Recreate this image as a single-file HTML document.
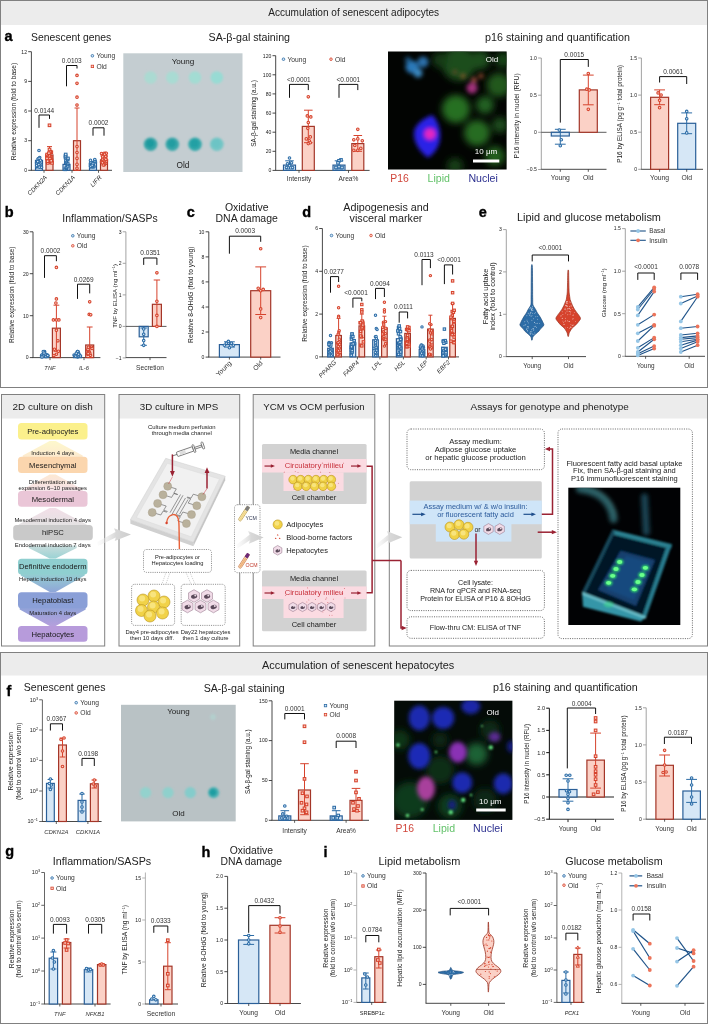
<!DOCTYPE html>
<html><head><meta charset="utf-8"><title>Figure</title>
<style>html,body{margin:0;padding:0;background:#fff}svg{display:block}text{font-family:'Liberation Sans', sans-serif}</style></head>
<body><svg width="708" height="1024" viewBox="0 0 708 1024">
<defs>
<filter id="b1" x="-50%" y="-50%" width="200%" height="200%"><feGaussianBlur stdDeviation="1"/></filter>
<filter id="b2" x="-50%" y="-50%" width="200%" height="200%"><feGaussianBlur stdDeviation="2"/></filter>
<filter id="b3" x="-50%" y="-50%" width="200%" height="200%"><feGaussianBlur stdDeviation="3.5"/></filter>
<filter id="b05" x="-50%" y="-50%" width="200%" height="200%"><feGaussianBlur stdDeviation="0.6"/></filter>
<clipPath id="cA"><rect x="388" y="51.5" width="118.6" height="118"/></clipPath>
<clipPath id="cF"><rect x="394.2" y="700.7" width="118.2" height="119.2"/></clipPath>
<clipPath id="cP"><rect x="568.3" y="487.7" width="112" height="137.3"/></clipPath>
<linearGradient id="garr" x1="0" x2="1" y1="0" y2="0"><stop offset="0" stop-color="#e9e9e9" stop-opacity="0.2"/><stop offset="1" stop-color="#c9c9c9"/></linearGradient>
</defs>
<rect x="0.0" y="0.0" width="708.0" height="1024.0" fill="#fff" />
<rect x="0.5" y="0.5" width="707.0" height="24.5" fill="#ececec" />
<rect x="0.5" y="0.5" width="707.0" height="387.0" fill="none" stroke="#808080" stroke-width="1" />
<text x="353.7" y="15.8" font-size="10.06" text-anchor="middle" fill="#222" >Accumulation of senescent adipocytes</text>
<text x="8.5" y="40.9" font-size="14.5" text-anchor="middle" fill="#000" font-weight="bold" stroke="#000" stroke-width="0.35">a</text>
<text x="31.0" y="40.6" font-size="10.4" text-anchor="start" fill="#222" >Senescent genes</text>
<line x1="31.4" y1="51.7" x2="31.4" y2="170.3" stroke="#333" stroke-width="0.9" />
<line x1="31.0" y1="170.3" x2="112.0" y2="170.3" stroke="#333" stroke-width="0.9" />
<line x1="28.2" y1="170.3" x2="31.4" y2="170.3" stroke="#333" stroke-width="0.9" />
<text x="27.0" y="172.1" font-size="5.1" text-anchor="end" fill="#222" >0</text>
<line x1="28.2" y1="140.7" x2="31.4" y2="140.7" stroke="#333" stroke-width="0.9" />
<text x="27.0" y="142.4" font-size="5.1" text-anchor="end" fill="#222" >3</text>
<line x1="28.2" y1="111.0" x2="31.4" y2="111.0" stroke="#333" stroke-width="0.9" />
<text x="27.0" y="112.8" font-size="5.1" text-anchor="end" fill="#222" >6</text>
<line x1="28.2" y1="81.4" x2="31.4" y2="81.4" stroke="#333" stroke-width="0.9" />
<text x="27.0" y="83.1" font-size="5.1" text-anchor="end" fill="#222" >9</text>
<line x1="28.2" y1="51.7" x2="31.4" y2="51.7" stroke="#333" stroke-width="0.9" />
<text x="27.0" y="53.5" font-size="5.1" text-anchor="end" fill="#222" >12</text>
<text x="15.8" y="111.5" font-size="6.57" text-anchor="middle" fill="#222" transform="rotate(-90 15.8 111.5)" >Relative expression (fold to base)</text>
<rect x="35.5" y="160.4" width="7.0" height="9.9" fill="#d6e7f6" stroke="#2a5f98" stroke-width="1.2" />
<circle cx="38.1" cy="166.2" r="1.3" fill="#d6e7f6" stroke="#2c6ca6" stroke-width="1.05" />
<circle cx="39.8" cy="167.0" r="1.3" fill="#d6e7f6" stroke="#2c6ca6" stroke-width="1.05" />
<circle cx="39.2" cy="163.9" r="1.3" fill="#d6e7f6" stroke="#2c6ca6" stroke-width="1.05" />
<circle cx="36.7" cy="162.3" r="1.3" fill="#d6e7f6" stroke="#2c6ca6" stroke-width="1.05" />
<circle cx="36.6" cy="163.1" r="1.3" fill="#d6e7f6" stroke="#2c6ca6" stroke-width="1.05" />
<circle cx="36.8" cy="166.8" r="1.3" fill="#d6e7f6" stroke="#2c6ca6" stroke-width="1.05" />
<circle cx="38.6" cy="158.8" r="1.3" fill="#d6e7f6" stroke="#2c6ca6" stroke-width="1.05" />
<circle cx="37.0" cy="165.4" r="1.3" fill="#d6e7f6" stroke="#2c6ca6" stroke-width="1.05" />
<circle cx="39.7" cy="157.5" r="1.3" fill="#d6e7f6" stroke="#2c6ca6" stroke-width="1.05" />
<circle cx="39.4" cy="163.5" r="1.3" fill="#d6e7f6" stroke="#2c6ca6" stroke-width="1.05" />
<circle cx="41.5" cy="167.3" r="1.3" fill="#d6e7f6" stroke="#2c6ca6" stroke-width="1.05" />
<circle cx="40.9" cy="164.7" r="1.3" fill="#d6e7f6" stroke="#2c6ca6" stroke-width="1.05" />
<circle cx="37.2" cy="166.5" r="1.3" fill="#d6e7f6" stroke="#2c6ca6" stroke-width="1.05" />
<circle cx="38.0" cy="159.0" r="1.3" fill="#d6e7f6" stroke="#2c6ca6" stroke-width="1.05" />
<circle cx="37.3" cy="161.5" r="1.3" fill="#d6e7f6" stroke="#2c6ca6" stroke-width="1.05" />
<circle cx="39.7" cy="163.8" r="1.3" fill="#d6e7f6" stroke="#2c6ca6" stroke-width="1.05" />
<circle cx="39.2" cy="167.1" r="1.3" fill="#d6e7f6" stroke="#2c6ca6" stroke-width="1.05" />
<circle cx="36.7" cy="165.6" r="1.3" fill="#d6e7f6" stroke="#2c6ca6" stroke-width="1.05" />
<circle cx="39.9" cy="163.2" r="1.3" fill="#d6e7f6" stroke="#2c6ca6" stroke-width="1.05" />
<circle cx="38.0" cy="161.5" r="1.3" fill="#d6e7f6" stroke="#2c6ca6" stroke-width="1.05" />
<circle cx="38.8" cy="164.6" r="1.3" fill="#d6e7f6" stroke="#2c6ca6" stroke-width="1.05" />
<circle cx="40.5" cy="160.2" r="1.3" fill="#d6e7f6" stroke="#2c6ca6" stroke-width="1.05" />
<circle cx="37.7" cy="161.6" r="1.3" fill="#d6e7f6" stroke="#2c6ca6" stroke-width="1.05" />
<circle cx="39.1" cy="158.3" r="1.3" fill="#d6e7f6" stroke="#2c6ca6" stroke-width="1.05" />
<circle cx="39.0" cy="150.5" r="1.3" fill="#d6e7f6" stroke="#2c6ca6" stroke-width="1.05" />
<rect x="46.0" y="155.0" width="7.0" height="15.3" fill="#fbd1c6" stroke="#a43628" stroke-width="1.2" />
<line x1="49.5" y1="146.6" x2="49.5" y2="163.4" stroke="#d6432d" stroke-width="1.0" />
<line x1="47.0" y1="146.6" x2="52.0" y2="146.6" stroke="#d6432d" stroke-width="1.0" />
<line x1="47.0" y1="163.4" x2="52.0" y2="163.4" stroke="#d6432d" stroke-width="1.0" />
<rect x="49.4" y="159.4" width="2.6" height="2.6" fill="#fbd1c6" stroke="#d6432d" stroke-width="1.05" />
<rect x="50.7" y="161.6" width="2.6" height="2.6" fill="#fbd1c6" stroke="#d6432d" stroke-width="1.05" />
<rect x="47.8" y="153.3" width="2.6" height="2.6" fill="#fbd1c6" stroke="#d6432d" stroke-width="1.05" />
<rect x="46.4" y="156.8" width="2.6" height="2.6" fill="#fbd1c6" stroke="#d6432d" stroke-width="1.05" />
<rect x="45.8" y="154.5" width="2.6" height="2.6" fill="#fbd1c6" stroke="#d6432d" stroke-width="1.05" />
<rect x="49.6" y="155.7" width="2.6" height="2.6" fill="#fbd1c6" stroke="#d6432d" stroke-width="1.05" />
<rect x="50.2" y="159.0" width="2.6" height="2.6" fill="#fbd1c6" stroke="#d6432d" stroke-width="1.05" />
<rect x="49.2" y="155.4" width="2.6" height="2.6" fill="#fbd1c6" stroke="#d6432d" stroke-width="1.05" />
<rect x="48.6" y="157.2" width="2.6" height="2.6" fill="#fbd1c6" stroke="#d6432d" stroke-width="1.05" />
<rect x="50.0" y="150.9" width="2.6" height="2.6" fill="#fbd1c6" stroke="#d6432d" stroke-width="1.05" />
<rect x="48.1" y="154.5" width="2.6" height="2.6" fill="#fbd1c6" stroke="#d6432d" stroke-width="1.05" />
<rect x="45.9" y="154.1" width="2.6" height="2.6" fill="#fbd1c6" stroke="#d6432d" stroke-width="1.05" />
<rect x="49.0" y="150.3" width="2.6" height="2.6" fill="#fbd1c6" stroke="#d6432d" stroke-width="1.05" />
<rect x="49.9" y="159.4" width="2.6" height="2.6" fill="#fbd1c6" stroke="#d6432d" stroke-width="1.05" />
<rect x="47.6" y="154.5" width="2.6" height="2.6" fill="#fbd1c6" stroke="#d6432d" stroke-width="1.05" />
<rect x="45.7" y="157.1" width="2.6" height="2.6" fill="#fbd1c6" stroke="#d6432d" stroke-width="1.05" />
<rect x="46.5" y="161.6" width="2.6" height="2.6" fill="#fbd1c6" stroke="#d6432d" stroke-width="1.05" />
<rect x="45.9" y="153.2" width="2.6" height="2.6" fill="#fbd1c6" stroke="#d6432d" stroke-width="1.05" />
<rect x="46.3" y="159.9" width="2.6" height="2.6" fill="#fbd1c6" stroke="#d6432d" stroke-width="1.05" />
<rect x="47.6" y="151.9" width="2.6" height="2.6" fill="#fbd1c6" stroke="#d6432d" stroke-width="1.05" />
<rect x="48.2" y="148.2" width="2.6" height="2.6" fill="#fbd1c6" stroke="#d6432d" stroke-width="1.05" />
<rect x="48.2" y="124.0" width="2.6" height="2.6" fill="#fbd1c6" stroke="#d6432d" stroke-width="1.05" />
<rect x="63.0" y="164.4" width="7.0" height="5.9" fill="#d6e7f6" stroke="#2a5f98" stroke-width="1.2" />
<rect x="63.9" y="168.0" width="2.6" height="2.6" fill="#d6e7f6" stroke="#2c6ca6" stroke-width="1.05" />
<rect x="65.0" y="167.0" width="2.6" height="2.6" fill="#d6e7f6" stroke="#2c6ca6" stroke-width="1.05" />
<rect x="65.3" y="166.0" width="2.6" height="2.6" fill="#d6e7f6" stroke="#2c6ca6" stroke-width="1.05" />
<rect x="66.4" y="164.6" width="2.6" height="2.6" fill="#d6e7f6" stroke="#2c6ca6" stroke-width="1.05" />
<rect x="66.2" y="163.1" width="2.6" height="2.6" fill="#d6e7f6" stroke="#2c6ca6" stroke-width="1.05" />
<rect x="66.3" y="162.1" width="2.6" height="2.6" fill="#d6e7f6" stroke="#2c6ca6" stroke-width="1.05" />
<rect x="64.5" y="161.1" width="2.6" height="2.6" fill="#d6e7f6" stroke="#2c6ca6" stroke-width="1.05" />
<rect x="64.9" y="160.1" width="2.6" height="2.6" fill="#d6e7f6" stroke="#2c6ca6" stroke-width="1.05" />
<rect x="64.8" y="159.1" width="2.6" height="2.6" fill="#d6e7f6" stroke="#2c6ca6" stroke-width="1.05" />
<rect x="66.4" y="158.1" width="2.6" height="2.6" fill="#d6e7f6" stroke="#2c6ca6" stroke-width="1.05" />
<rect x="66.6" y="157.1" width="2.6" height="2.6" fill="#d6e7f6" stroke="#2c6ca6" stroke-width="1.05" />
<rect x="64.2" y="156.2" width="2.6" height="2.6" fill="#d6e7f6" stroke="#2c6ca6" stroke-width="1.05" />
<rect x="64.2" y="154.7" width="2.6" height="2.6" fill="#d6e7f6" stroke="#2c6ca6" stroke-width="1.05" />
<rect x="64.4" y="153.2" width="2.6" height="2.6" fill="#d6e7f6" stroke="#2c6ca6" stroke-width="1.05" />
<rect x="73.5" y="140.7" width="7.0" height="29.7" fill="#fbd1c6" stroke="#a43628" stroke-width="1.2" />
<line x1="77.0" y1="108.0" x2="77.0" y2="170.3" stroke="#d6432d" stroke-width="1.0" />
<line x1="74.5" y1="108.0" x2="79.5" y2="108.0" stroke="#d6432d" stroke-width="1.0" />
<line x1="74.5" y1="170.3" x2="79.5" y2="170.3" stroke="#d6432d" stroke-width="1.0" />
<circle cx="77.0" cy="75.4" r="1.3" fill="#fbd1c6" stroke="#d6432d" stroke-width="1.05" />
<circle cx="77.0" cy="83.3" r="1.3" fill="#fbd1c6" stroke="#d6432d" stroke-width="1.05" />
<circle cx="77.0" cy="97.2" r="1.3" fill="#fbd1c6" stroke="#d6432d" stroke-width="1.05" />
<circle cx="77.0" cy="105.1" r="1.3" fill="#fbd1c6" stroke="#d6432d" stroke-width="1.05" />
<circle cx="77.0" cy="152.5" r="1.3" fill="#fbd1c6" stroke="#d6432d" stroke-width="1.05" />
<circle cx="77.0" cy="158.4" r="1.3" fill="#fbd1c6" stroke="#d6432d" stroke-width="1.05" />
<circle cx="77.0" cy="164.4" r="1.3" fill="#fbd1c6" stroke="#d6432d" stroke-width="1.05" />
<circle cx="77.0" cy="168.3" r="1.3" fill="#fbd1c6" stroke="#d6432d" stroke-width="1.05" />
<circle cx="77.0" cy="146.6" r="1.3" fill="#fbd1c6" stroke="#d6432d" stroke-width="1.05" />
<rect x="89.5" y="162.4" width="7.0" height="7.9" fill="#d6e7f6" stroke="#2a5f98" stroke-width="1.2" />
<circle cx="91.6" cy="163.5" r="1.3" fill="#d6e7f6" stroke="#2c6ca6" stroke-width="1.05" />
<circle cx="93.5" cy="165.3" r="1.3" fill="#d6e7f6" stroke="#2c6ca6" stroke-width="1.05" />
<circle cx="90.4" cy="164.0" r="1.3" fill="#d6e7f6" stroke="#2c6ca6" stroke-width="1.05" />
<circle cx="92.3" cy="162.9" r="1.3" fill="#d6e7f6" stroke="#2c6ca6" stroke-width="1.05" />
<circle cx="95.4" cy="161.9" r="1.3" fill="#d6e7f6" stroke="#2c6ca6" stroke-width="1.05" />
<circle cx="93.1" cy="162.5" r="1.3" fill="#d6e7f6" stroke="#2c6ca6" stroke-width="1.05" />
<circle cx="93.9" cy="166.9" r="1.3" fill="#d6e7f6" stroke="#2c6ca6" stroke-width="1.05" />
<circle cx="95.1" cy="161.2" r="1.3" fill="#d6e7f6" stroke="#2c6ca6" stroke-width="1.05" />
<circle cx="94.9" cy="161.0" r="1.3" fill="#d6e7f6" stroke="#2c6ca6" stroke-width="1.05" />
<circle cx="92.4" cy="164.2" r="1.3" fill="#d6e7f6" stroke="#2c6ca6" stroke-width="1.05" />
<circle cx="90.9" cy="162.3" r="1.3" fill="#d6e7f6" stroke="#2c6ca6" stroke-width="1.05" />
<circle cx="90.7" cy="166.8" r="1.3" fill="#d6e7f6" stroke="#2c6ca6" stroke-width="1.05" />
<circle cx="91.5" cy="166.1" r="1.3" fill="#d6e7f6" stroke="#2c6ca6" stroke-width="1.05" />
<circle cx="92.2" cy="166.9" r="1.3" fill="#d6e7f6" stroke="#2c6ca6" stroke-width="1.05" />
<circle cx="90.4" cy="166.1" r="1.3" fill="#d6e7f6" stroke="#2c6ca6" stroke-width="1.05" />
<circle cx="90.9" cy="164.5" r="1.3" fill="#d6e7f6" stroke="#2c6ca6" stroke-width="1.05" />
<circle cx="90.5" cy="160.4" r="1.3" fill="#d6e7f6" stroke="#2c6ca6" stroke-width="1.05" />
<circle cx="93.6" cy="166.2" r="1.3" fill="#d6e7f6" stroke="#2c6ca6" stroke-width="1.05" />
<circle cx="91.7" cy="164.6" r="1.3" fill="#d6e7f6" stroke="#2c6ca6" stroke-width="1.05" />
<circle cx="92.3" cy="166.4" r="1.3" fill="#d6e7f6" stroke="#2c6ca6" stroke-width="1.05" />
<circle cx="94.8" cy="159.5" r="1.3" fill="#d6e7f6" stroke="#2c6ca6" stroke-width="1.05" />
<circle cx="92.8" cy="163.5" r="1.3" fill="#d6e7f6" stroke="#2c6ca6" stroke-width="1.05" />
<circle cx="90.8" cy="166.5" r="1.3" fill="#d6e7f6" stroke="#2c6ca6" stroke-width="1.05" />
<circle cx="92.2" cy="165.2" r="1.3" fill="#d6e7f6" stroke="#2c6ca6" stroke-width="1.05" />
<rect x="100.5" y="159.9" width="7.0" height="10.4" fill="#fbd1c6" stroke="#a43628" stroke-width="1.2" />
<circle cx="105.7" cy="163.4" r="1.3" fill="#fbd1c6" stroke="#d6432d" stroke-width="1.05" />
<circle cx="101.5" cy="153.6" r="1.3" fill="#fbd1c6" stroke="#d6432d" stroke-width="1.05" />
<circle cx="104.1" cy="163.5" r="1.3" fill="#fbd1c6" stroke="#d6432d" stroke-width="1.05" />
<circle cx="104.2" cy="165.0" r="1.3" fill="#fbd1c6" stroke="#d6432d" stroke-width="1.05" />
<circle cx="104.1" cy="153.3" r="1.3" fill="#fbd1c6" stroke="#d6432d" stroke-width="1.05" />
<circle cx="105.9" cy="156.8" r="1.3" fill="#fbd1c6" stroke="#d6432d" stroke-width="1.05" />
<circle cx="102.8" cy="160.8" r="1.3" fill="#fbd1c6" stroke="#d6432d" stroke-width="1.05" />
<circle cx="102.3" cy="155.8" r="1.3" fill="#fbd1c6" stroke="#d6432d" stroke-width="1.05" />
<circle cx="104.2" cy="155.7" r="1.3" fill="#fbd1c6" stroke="#d6432d" stroke-width="1.05" />
<circle cx="103.1" cy="162.6" r="1.3" fill="#fbd1c6" stroke="#d6432d" stroke-width="1.05" />
<circle cx="105.6" cy="153.2" r="1.3" fill="#fbd1c6" stroke="#d6432d" stroke-width="1.05" />
<circle cx="105.8" cy="155.4" r="1.3" fill="#fbd1c6" stroke="#d6432d" stroke-width="1.05" />
<circle cx="105.7" cy="156.2" r="1.3" fill="#fbd1c6" stroke="#d6432d" stroke-width="1.05" />
<circle cx="102.6" cy="159.0" r="1.3" fill="#fbd1c6" stroke="#d6432d" stroke-width="1.05" />
<circle cx="103.2" cy="165.0" r="1.3" fill="#fbd1c6" stroke="#d6432d" stroke-width="1.05" />
<circle cx="101.5" cy="161.9" r="1.3" fill="#fbd1c6" stroke="#d6432d" stroke-width="1.05" />
<circle cx="102.7" cy="156.8" r="1.3" fill="#fbd1c6" stroke="#d6432d" stroke-width="1.05" />
<circle cx="106.4" cy="159.8" r="1.3" fill="#fbd1c6" stroke="#d6432d" stroke-width="1.05" />
<circle cx="106.3" cy="153.2" r="1.3" fill="#fbd1c6" stroke="#d6432d" stroke-width="1.05" />
<circle cx="106.4" cy="160.9" r="1.3" fill="#fbd1c6" stroke="#d6432d" stroke-width="1.05" />
<circle cx="102.5" cy="162.6" r="1.3" fill="#fbd1c6" stroke="#d6432d" stroke-width="1.05" />
<circle cx="102.4" cy="162.8" r="1.3" fill="#fbd1c6" stroke="#d6432d" stroke-width="1.05" />
<circle cx="104.6" cy="154.2" r="1.3" fill="#fbd1c6" stroke="#d6432d" stroke-width="1.05" />
<circle cx="105.8" cy="159.4" r="1.3" fill="#fbd1c6" stroke="#d6432d" stroke-width="1.05" />
<path d="M39.0,127.8 L39.0,115.0 L49.5,115.0 L49.5,118.9" fill="none" stroke="#111" stroke-width="1.0" />
<text x="44.2" y="112.5" font-size="6.5" text-anchor="middle" fill="#333" >0.0144</text>
<path d="M66.5,86.3 L66.5,65.5 L77.0,65.5 L77.0,68.5" fill="none" stroke="#111" stroke-width="1.0" />
<text x="71.8" y="63.1" font-size="6.5" text-anchor="middle" fill="#333" >0.0103</text>
<path d="M93.0,135.7 L93.0,127.8 L104.0,127.8 L104.0,135.7" fill="none" stroke="#111" stroke-width="1.0" />
<text x="98.5" y="125.4" font-size="6.5" text-anchor="middle" fill="#333" >0.0002</text>
<circle cx="92.4" cy="55.8" r="1.3" fill="#d6e7f6" stroke="#2c6ca6" stroke-width="0.8" />
<text x="96.4" y="58.1" font-size="6.7" text-anchor="start" fill="#333" >Young</text>
<rect x="91.2" y="65.2" width="2.4" height="2.4" fill="#fbd1c6" stroke="#d6432d" stroke-width="0.8" />
<text x="96.4" y="68.7" font-size="6.7" text-anchor="start" fill="#333" >Old</text>
<line x1="44.0" y1="170.3" x2="44.0" y2="172.8" stroke="#333" stroke-width="0.8" />
<text x="47.5" y="177.8" font-size="6.2" text-anchor="end" fill="#222" transform="rotate(-46 47.5 177.8)" style="font-style:italic" >CDKN2A</text>
<line x1="72.0" y1="170.3" x2="72.0" y2="172.8" stroke="#333" stroke-width="0.8" />
<text x="75.5" y="177.8" font-size="6.2" text-anchor="end" fill="#222" transform="rotate(-46 75.5 177.8)" style="font-style:italic" >CDKN1A</text>
<line x1="98.5" y1="170.3" x2="98.5" y2="172.8" stroke="#333" stroke-width="0.8" />
<text x="102.0" y="177.8" font-size="6.2" text-anchor="end" fill="#222" transform="rotate(-46 102.0 177.8)" style="font-style:italic" >LIFR</text>
<text x="249.3" y="40.7" font-size="10.68" text-anchor="middle" fill="#222" >SA-β-gal staining</text>
<rect x="123.3" y="53.3" width="119.2" height="118.7" fill="#c4cdd1" />
<g filter="url(#b1)">
<circle cx="150.6" cy="77.5" r="6.3" fill="#abdad2" />
<circle cx="172.3" cy="77.5" r="6.3" fill="#a9dbd3" />
<circle cx="195.0" cy="77.5" r="6.3" fill="#a3dcd3" />
<circle cx="216.8" cy="77.5" r="6.3" fill="#98dbd4" />
<circle cx="150.6" cy="144.3" r="6.8" fill="#38a5a8" />
<circle cx="150.1" cy="143.5" r="4.2" fill="#1f9a9f" />
<circle cx="172.3" cy="144.3" r="6.8" fill="#3aa7aa" />
<circle cx="171.8" cy="143.5" r="4.2" fill="#249da1" />
<circle cx="195.0" cy="144.3" r="6.8" fill="#35a9ab" />
<circle cx="194.5" cy="143.5" r="4.2" fill="#20a0a4" />
<circle cx="216.8" cy="144.3" r="6.8" fill="#74c6c6" />
<circle cx="216.3" cy="143.5" r="4.2" fill="#6cc4c5" />
</g>
<text x="183.0" y="64.4" font-size="8.1" text-anchor="middle" fill="#222" >Young</text>
<text x="183.0" y="167.9" font-size="8.3" text-anchor="middle" fill="#222" >Old</text>
<line x1="275.7" y1="55.7" x2="275.7" y2="170.4" stroke="#333" stroke-width="0.9" />
<line x1="275.3" y1="170.4" x2="369.6" y2="170.4" stroke="#333" stroke-width="0.9" />
<line x1="272.5" y1="170.4" x2="275.7" y2="170.4" stroke="#333" stroke-width="0.9" />
<text x="271.3" y="172.2" font-size="5.1" text-anchor="end" fill="#222" >0</text>
<line x1="272.5" y1="151.3" x2="275.7" y2="151.3" stroke="#333" stroke-width="0.9" />
<text x="271.3" y="153.1" font-size="5.1" text-anchor="end" fill="#222" >20</text>
<line x1="272.5" y1="132.2" x2="275.7" y2="132.2" stroke="#333" stroke-width="0.9" />
<text x="271.3" y="134.0" font-size="5.1" text-anchor="end" fill="#222" >40</text>
<line x1="272.5" y1="113.1" x2="275.7" y2="113.1" stroke="#333" stroke-width="0.9" />
<text x="271.3" y="114.8" font-size="5.1" text-anchor="end" fill="#222" >60</text>
<line x1="272.5" y1="93.9" x2="275.7" y2="93.9" stroke="#333" stroke-width="0.9" />
<text x="271.3" y="95.7" font-size="5.1" text-anchor="end" fill="#222" >80</text>
<line x1="272.5" y1="74.8" x2="275.7" y2="74.8" stroke="#333" stroke-width="0.9" />
<text x="271.3" y="76.6" font-size="5.1" text-anchor="end" fill="#222" >100</text>
<line x1="272.5" y1="55.7" x2="275.7" y2="55.7" stroke="#333" stroke-width="0.9" />
<text x="271.3" y="57.5" font-size="5.1" text-anchor="end" fill="#222" >120</text>
<text x="256.5" y="113.4" font-size="6.5" text-anchor="middle" fill="#222" transform="rotate(-90 256.5 113.4)" >SA-β-gal staining (a.u.)</text>
<rect x="283.5" y="165.1" width="12.0" height="5.3" fill="#d6e7f6" stroke="#2a5f98" stroke-width="1.2" />
<line x1="289.5" y1="160.8" x2="289.5" y2="169.0" stroke="#2c6ca6" stroke-width="1.0" />
<line x1="285.2" y1="160.8" x2="293.8" y2="160.8" stroke="#2c6ca6" stroke-width="1.0" />
<line x1="285.2" y1="169.0" x2="293.8" y2="169.0" stroke="#2c6ca6" stroke-width="1.0" />
<circle cx="286.5" cy="167.5" r="1.3" fill="#d6e7f6" stroke="#2c6ca6" stroke-width="1.05" />
<circle cx="289.5" cy="165.6" r="1.3" fill="#d6e7f6" stroke="#2c6ca6" stroke-width="1.05" />
<circle cx="292.5" cy="167.5" r="1.3" fill="#d6e7f6" stroke="#2c6ca6" stroke-width="1.05" />
<circle cx="289.5" cy="158.0" r="1.3" fill="#d6e7f6" stroke="#2c6ca6" stroke-width="1.05" />
<circle cx="287.5" cy="163.7" r="1.3" fill="#d6e7f6" stroke="#2c6ca6" stroke-width="1.05" />
<circle cx="291.5" cy="162.8" r="1.3" fill="#d6e7f6" stroke="#2c6ca6" stroke-width="1.05" />
<rect x="302.3" y="126.4" width="12.0" height="44.0" fill="#fbd1c6" stroke="#a43628" stroke-width="1.2" />
<line x1="308.3" y1="110.2" x2="308.3" y2="142.7" stroke="#d6432d" stroke-width="1.0" />
<line x1="304.0" y1="110.2" x2="312.6" y2="110.2" stroke="#d6432d" stroke-width="1.0" />
<line x1="304.0" y1="142.7" x2="312.6" y2="142.7" stroke="#d6432d" stroke-width="1.0" />
<circle cx="308.3" cy="96.8" r="1.3" fill="#fbd1c6" stroke="#d6432d" stroke-width="1.05" />
<circle cx="307.3" cy="115.9" r="1.3" fill="#fbd1c6" stroke="#d6432d" stroke-width="1.05" />
<circle cx="310.8" cy="116.9" r="1.3" fill="#fbd1c6" stroke="#d6432d" stroke-width="1.05" />
<circle cx="308.3" cy="122.6" r="1.3" fill="#fbd1c6" stroke="#d6432d" stroke-width="1.05" />
<circle cx="307.8" cy="128.3" r="1.3" fill="#fbd1c6" stroke="#d6432d" stroke-width="1.05" />
<circle cx="310.3" cy="136.9" r="1.3" fill="#fbd1c6" stroke="#d6432d" stroke-width="1.05" />
<circle cx="306.3" cy="138.9" r="1.3" fill="#fbd1c6" stroke="#d6432d" stroke-width="1.05" />
<circle cx="309.3" cy="140.8" r="1.3" fill="#fbd1c6" stroke="#d6432d" stroke-width="1.05" />
<circle cx="308.3" cy="143.6" r="1.3" fill="#fbd1c6" stroke="#d6432d" stroke-width="1.05" />
<circle cx="310.3" cy="142.7" r="1.3" fill="#fbd1c6" stroke="#d6432d" stroke-width="1.05" />
<rect x="333.0" y="165.1" width="12.0" height="5.3" fill="#d6e7f6" stroke="#2a5f98" stroke-width="1.2" />
<line x1="339.0" y1="160.8" x2="339.0" y2="169.0" stroke="#2c6ca6" stroke-width="1.0" />
<line x1="334.7" y1="160.8" x2="343.3" y2="160.8" stroke="#2c6ca6" stroke-width="1.0" />
<line x1="334.7" y1="169.0" x2="343.3" y2="169.0" stroke="#2c6ca6" stroke-width="1.0" />
<rect x="334.7" y="166.2" width="2.6" height="2.6" fill="#d6e7f6" stroke="#2c6ca6" stroke-width="1.05" />
<rect x="337.7" y="165.3" width="2.6" height="2.6" fill="#d6e7f6" stroke="#2c6ca6" stroke-width="1.05" />
<rect x="340.7" y="166.2" width="2.6" height="2.6" fill="#d6e7f6" stroke="#2c6ca6" stroke-width="1.05" />
<rect x="339.7" y="158.6" width="2.6" height="2.6" fill="#d6e7f6" stroke="#2c6ca6" stroke-width="1.05" />
<rect x="337.7" y="159.5" width="2.6" height="2.6" fill="#d6e7f6" stroke="#2c6ca6" stroke-width="1.05" />
<rect x="336.7" y="161.5" width="2.6" height="2.6" fill="#d6e7f6" stroke="#2c6ca6" stroke-width="1.05" />
<rect x="351.8" y="143.6" width="12.0" height="26.8" fill="#fbd1c6" stroke="#a43628" stroke-width="1.2" />
<line x1="357.8" y1="135.5" x2="357.8" y2="151.3" stroke="#d6432d" stroke-width="1.0" />
<line x1="353.5" y1="135.5" x2="362.1" y2="135.5" stroke="#d6432d" stroke-width="1.0" />
<line x1="353.5" y1="151.3" x2="362.1" y2="151.3" stroke="#d6432d" stroke-width="1.0" />
<circle cx="357.8" cy="129.3" r="1.3" fill="#fbd1c6" stroke="#d6432d" stroke-width="1.05" />
<circle cx="353.8" cy="139.8" r="1.3" fill="#fbd1c6" stroke="#d6432d" stroke-width="1.05" />
<circle cx="357.8" cy="138.9" r="1.3" fill="#fbd1c6" stroke="#d6432d" stroke-width="1.05" />
<circle cx="362.3" cy="140.8" r="1.3" fill="#fbd1c6" stroke="#d6432d" stroke-width="1.05" />
<circle cx="354.8" cy="145.5" r="1.3" fill="#fbd1c6" stroke="#d6432d" stroke-width="1.05" />
<circle cx="360.8" cy="148.4" r="1.3" fill="#fbd1c6" stroke="#d6432d" stroke-width="1.05" />
<circle cx="357.8" cy="150.3" r="1.3" fill="#fbd1c6" stroke="#d6432d" stroke-width="1.05" />
<circle cx="353.8" cy="150.3" r="1.3" fill="#fbd1c6" stroke="#d6432d" stroke-width="1.05" />
<path d="M289.5,97.8 L289.5,84.4 L308.3,84.4 L308.3,90.1" fill="none" stroke="#111" stroke-width="1.0" />
<text x="298.9" y="82.0" font-size="6.5" text-anchor="middle" fill="#333" >&lt;0.0001</text>
<path d="M339.0,97.8 L339.0,84.4 L357.8,84.4 L357.8,90.1" fill="none" stroke="#111" stroke-width="1.0" />
<text x="348.4" y="82.0" font-size="6.5" text-anchor="middle" fill="#333" >&lt;0.0001</text>
<circle cx="283.5" cy="59.2" r="1.3" fill="#d6e7f6" stroke="#2c6ca6" stroke-width="0.8" />
<text x="287.5" y="61.5" font-size="6.7" text-anchor="start" fill="#333" >Young</text>
<circle cx="331.0" cy="59.2" r="1.3" fill="#fbd1c6" stroke="#d6432d" stroke-width="0.8" />
<text x="335.0" y="61.5" font-size="6.7" text-anchor="start" fill="#333" >Old</text>
<line x1="299.0" y1="170.4" x2="299.0" y2="172.9" stroke="#333" stroke-width="0.8" />
<text x="299.0" y="181.0" font-size="6.6" text-anchor="middle" fill="#333" >Intensity</text>
<line x1="348.5" y1="170.4" x2="348.5" y2="172.9" stroke="#333" stroke-width="0.8" />
<text x="348.5" y="181.0" font-size="6.6" text-anchor="middle" fill="#333" >Area%</text>
<text x="557.5" y="40.8" font-size="10.73" text-anchor="middle" fill="#222" >p16 staining and quantification</text>
<rect x="388.0" y="51.5" width="118.6" height="118.0" fill="#020402" />
<g clip-path="url(#cA)">
<g filter="url(#b3)">
<circle cx="459.0" cy="64.0" r="17" fill="#1c4e1f" />
<circle cx="498.6" cy="85.0" r="12" fill="#20591f" />
<circle cx="456.0" cy="109.0" r="14" fill="#277024" />
<circle cx="485.0" cy="105.0" r="9" fill="#226220" />
<circle cx="477.0" cy="133.0" r="13" fill="#266c22" />
<circle cx="495.0" cy="156.0" r="10" fill="#205e1f" />
<circle cx="455.0" cy="166.0" r="8" fill="#163f16" />
<circle cx="500.0" cy="125.0" r="8" fill="#1b4c1a" />
<circle cx="480.0" cy="60.0" r="10" fill="#1c4e1f" />
<circle cx="503.0" cy="60.0" r="8" fill="#174417" />
<circle cx="440.0" cy="60.0" r="8" fill="#123a18" />
</g>
<g filter="url(#b2)">
<path d="M432.4,115 C441,124 443,140 436,150 C433,154 430,157 427.5,157.5 C420,152 413,142 414,132 C415,124 424,118 432.4,115Z" fill="#2a22e6" />
<circle cx="430.0" cy="134.0" r="5.5" fill="#e626c0" />
<circle cx="412.0" cy="67.0" r="6.5" fill="#2a78b8" />
<circle cx="423.0" cy="62.0" r="5.5" fill="#2a6ea8" />
<circle cx="418.0" cy="73.0" r="4.5" fill="#3a88c0" />
<circle cx="408.0" cy="60.0" r="3" fill="#1f5a8a" />
<circle cx="472.0" cy="88.0" r="5.5" fill="#a0307a" />
<circle cx="474.0" cy="80.0" r="3" fill="#9a4a3a" />
<circle cx="463.0" cy="76.0" r="2.5" fill="#8a5a2a" />
<circle cx="481.0" cy="76.0" r="2.5" fill="#9a5030" />
<circle cx="455.0" cy="72.0" r="2" fill="#7a4a2a" />
</g>
</g>
<text x="492.0" y="62.3" font-size="8" text-anchor="middle" fill="#fff" >Old</text>
<rect x="473.0" y="159.5" width="26.3" height="3.0" fill="#fff" />
<text x="486.0" y="153.8" font-size="8" text-anchor="middle" fill="#fff" >10 μm</text>
<text x="390.3" y="182.3" font-size="10.4" text-anchor="start" fill="#d0453a" >P16</text>
<text x="427.5" y="182.4" font-size="10.6" text-anchor="start" fill="#63c26a" >Lipid</text>
<text x="468.4" y="182.4" font-size="10.6" text-anchor="start" fill="#2b2f8f" >Nuclei</text>
<line x1="541.3" y1="58.0" x2="541.3" y2="169.3" stroke="#999" stroke-width="0.9" />
<line x1="540.9" y1="169.3" x2="606.5" y2="169.3" stroke="#333" stroke-width="0.9" />
<line x1="538.1" y1="58.0" x2="541.3" y2="58.0" stroke="#999" stroke-width="0.9" />
<text x="536.9" y="59.8" font-size="5.1" text-anchor="end" fill="#222" >1.0</text>
<line x1="538.1" y1="95.2" x2="541.3" y2="95.2" stroke="#999" stroke-width="0.9" />
<text x="536.9" y="96.9" font-size="5.1" text-anchor="end" fill="#222" >0.5</text>
<line x1="538.1" y1="132.3" x2="541.3" y2="132.3" stroke="#999" stroke-width="0.9" />
<text x="536.9" y="134.1" font-size="5.1" text-anchor="end" fill="#222" >0</text>
<line x1="538.1" y1="169.5" x2="541.3" y2="169.5" stroke="#999" stroke-width="0.9" />
<text x="536.9" y="171.2" font-size="5.1" text-anchor="end" fill="#222" >−0.5</text>
<line x1="541.3" y1="132.3" x2="606.5" y2="132.3" stroke="#333" stroke-width="0.8" />
<text x="519.2" y="115.9" font-size="6.73" text-anchor="middle" fill="#222" transform="rotate(-90 519.2 115.9)" >P16 intensity in nuclei (RFU)</text>
<rect x="551.3" y="132.3" width="18.0" height="3.7" fill="#d6e7f6" stroke="#2a5f98" stroke-width="1.2" />
<line x1="560.3" y1="129.3" x2="560.3" y2="144.2" stroke="#2c6ca6" stroke-width="1.0" />
<line x1="554.9" y1="129.3" x2="565.7" y2="129.3" stroke="#2c6ca6" stroke-width="1.0" />
<line x1="554.9" y1="144.2" x2="565.7" y2="144.2" stroke="#2c6ca6" stroke-width="1.0" />
<circle cx="559.3" cy="130.1" r="1.3" fill="#d6e7f6" stroke="#2c6ca6" stroke-width="1.05" />
<circle cx="561.3" cy="139.7" r="1.3" fill="#d6e7f6" stroke="#2c6ca6" stroke-width="1.05" />
<circle cx="560.3" cy="145.7" r="1.3" fill="#d6e7f6" stroke="#2c6ca6" stroke-width="1.05" />
<rect x="579.3" y="89.9" width="18.0" height="42.4" fill="#fbd1c6" stroke="#a43628" stroke-width="1.2" />
<line x1="588.3" y1="75.1" x2="588.3" y2="104.8" stroke="#d6432d" stroke-width="1.0" />
<line x1="582.9" y1="75.1" x2="593.7" y2="75.1" stroke="#d6432d" stroke-width="1.0" />
<line x1="582.9" y1="104.8" x2="593.7" y2="104.8" stroke="#d6432d" stroke-width="1.0" />
<circle cx="588.3" cy="73.6" r="1.3" fill="#fbd1c6" stroke="#d6432d" stroke-width="1.05" />
<circle cx="586.8" cy="89.2" r="1.3" fill="#fbd1c6" stroke="#d6432d" stroke-width="1.05" />
<circle cx="589.3" cy="89.9" r="1.3" fill="#fbd1c6" stroke="#d6432d" stroke-width="1.05" />
<circle cx="588.3" cy="109.3" r="1.3" fill="#fbd1c6" stroke="#d6432d" stroke-width="1.05" />
<path d="M560.3,122.6 L560.3,59.5 L588.3,59.5 L588.3,66.9" fill="none" stroke="#111" stroke-width="1.0" />
<text x="574.3" y="57.3" font-size="6.5" text-anchor="middle" fill="#333" >0.0015</text>
<line x1="560.3" y1="169.3" x2="560.3" y2="171.8" stroke="#333" stroke-width="0.8" />
<text x="560.3" y="180.4" font-size="6.8" text-anchor="middle" fill="#333" >Young</text>
<line x1="588.3" y1="169.3" x2="588.3" y2="171.8" stroke="#333" stroke-width="0.8" />
<text x="588.3" y="180.4" font-size="6.8" text-anchor="middle" fill="#333" >Old</text>
<line x1="641.4" y1="58.0" x2="641.4" y2="169.3" stroke="#999" stroke-width="0.9" />
<line x1="641.0" y1="169.3" x2="703.0" y2="169.3" stroke="#333" stroke-width="0.9" />
<line x1="638.2" y1="58.0" x2="641.4" y2="58.0" stroke="#999" stroke-width="0.9" />
<text x="637.0" y="59.8" font-size="5.1" text-anchor="end" fill="#222" >1.5</text>
<line x1="638.2" y1="95.1" x2="641.4" y2="95.1" stroke="#999" stroke-width="0.9" />
<text x="637.0" y="96.9" font-size="5.1" text-anchor="end" fill="#222" >1.0</text>
<line x1="638.2" y1="132.2" x2="641.4" y2="132.2" stroke="#999" stroke-width="0.9" />
<text x="637.0" y="134.0" font-size="5.1" text-anchor="end" fill="#222" >0.5</text>
<line x1="638.2" y1="169.3" x2="641.4" y2="169.3" stroke="#999" stroke-width="0.9" />
<text x="637.0" y="171.1" font-size="5.1" text-anchor="end" fill="#222" >0</text>
<text x="622.0" y="113.9" font-size="6.4" text-anchor="middle" fill="#222" transform="rotate(-90 622.0 113.9)" >P16 by ELISA (pg g<tspan dy="-2" font-size="4">−1</tspan><tspan dy="2"> total protein)</tspan></text>
<rect x="650.6" y="97.3" width="18.0" height="72.0" fill="#fbd1c6" stroke="#a43628" stroke-width="1.2" />
<line x1="659.6" y1="89.9" x2="659.6" y2="104.7" stroke="#d6432d" stroke-width="1.0" />
<line x1="654.2" y1="89.9" x2="665.0" y2="89.9" stroke="#d6432d" stroke-width="1.0" />
<line x1="654.2" y1="104.7" x2="665.0" y2="104.7" stroke="#d6432d" stroke-width="1.0" />
<circle cx="658.1" cy="92.9" r="1.3" fill="#fbd1c6" stroke="#d6432d" stroke-width="1.05" />
<circle cx="661.1" cy="95.1" r="1.3" fill="#fbd1c6" stroke="#d6432d" stroke-width="1.05" />
<circle cx="659.6" cy="100.3" r="1.3" fill="#fbd1c6" stroke="#d6432d" stroke-width="1.05" />
<circle cx="659.6" cy="107.7" r="1.3" fill="#fbd1c6" stroke="#d6432d" stroke-width="1.05" />
<rect x="677.7" y="123.3" width="18.0" height="46.0" fill="#d6e7f6" stroke="#2a5f98" stroke-width="1.2" />
<line x1="686.7" y1="112.9" x2="686.7" y2="133.7" stroke="#2c6ca6" stroke-width="1.0" />
<line x1="681.3" y1="112.9" x2="692.1" y2="112.9" stroke="#2c6ca6" stroke-width="1.0" />
<line x1="681.3" y1="133.7" x2="692.1" y2="133.7" stroke="#2c6ca6" stroke-width="1.0" />
<circle cx="686.7" cy="111.4" r="1.3" fill="#d6e7f6" stroke="#2c6ca6" stroke-width="1.05" />
<circle cx="686.7" cy="118.8" r="1.3" fill="#d6e7f6" stroke="#2c6ca6" stroke-width="1.05" />
<circle cx="686.7" cy="132.9" r="1.3" fill="#d6e7f6" stroke="#2c6ca6" stroke-width="1.05" />
<path d="M659.6,82.5 L659.6,76.6 L686.7,76.6 L686.7,84.0" fill="none" stroke="#111" stroke-width="1.0" />
<text x="673.2" y="73.6" font-size="6.5" text-anchor="middle" fill="#333" >0.0061</text>
<line x1="659.6" y1="169.3" x2="659.6" y2="171.8" stroke="#333" stroke-width="0.8" />
<text x="659.6" y="180.4" font-size="6.8" text-anchor="middle" fill="#333" >Young</text>
<line x1="686.7" y1="169.3" x2="686.7" y2="171.8" stroke="#333" stroke-width="0.8" />
<text x="686.7" y="180.4" font-size="6.8" text-anchor="middle" fill="#333" >Old</text>
<text x="9.2" y="217.3" font-size="14.5" text-anchor="middle" fill="#000" font-weight="bold" stroke="#000" stroke-width="0.35">b</text>
<text x="110.0" y="221.9" font-size="10.4" text-anchor="middle" fill="#222" >Inflammation/SASPs</text>
<line x1="33.0" y1="231.8" x2="33.0" y2="357.6" stroke="#333" stroke-width="0.9" />
<line x1="32.6" y1="357.6" x2="100.4" y2="357.6" stroke="#333" stroke-width="0.9" />
<line x1="29.8" y1="357.6" x2="33.0" y2="357.6" stroke="#333" stroke-width="0.9" />
<text x="28.6" y="359.4" font-size="5.1" text-anchor="end" fill="#222" >0</text>
<line x1="29.8" y1="315.7" x2="33.0" y2="315.7" stroke="#333" stroke-width="0.9" />
<text x="28.6" y="317.5" font-size="5.1" text-anchor="end" fill="#222" >10</text>
<line x1="29.8" y1="273.7" x2="33.0" y2="273.7" stroke="#333" stroke-width="0.9" />
<text x="28.6" y="275.5" font-size="5.1" text-anchor="end" fill="#222" >20</text>
<line x1="29.8" y1="231.8" x2="33.0" y2="231.8" stroke="#333" stroke-width="0.9" />
<text x="28.6" y="233.6" font-size="5.1" text-anchor="end" fill="#222" >30</text>
<text x="14.1" y="294.8" font-size="6.51" text-anchor="middle" fill="#222" transform="rotate(-90 14.1 294.8)" >Relative expression (fold to base)</text>
<rect x="40.5" y="355.5" width="8.0" height="2.1" fill="#d6e7f6" stroke="#2a5f98" stroke-width="1.2" />
<circle cx="45.5" cy="355.1" r="1.3" fill="#d6e7f6" stroke="#2c6ca6" stroke-width="1.05" />
<circle cx="41.7" cy="355.4" r="1.3" fill="#d6e7f6" stroke="#2c6ca6" stroke-width="1.05" />
<circle cx="47.3" cy="355.2" r="1.3" fill="#d6e7f6" stroke="#2c6ca6" stroke-width="1.05" />
<circle cx="46.2" cy="355.9" r="1.3" fill="#d6e7f6" stroke="#2c6ca6" stroke-width="1.05" />
<circle cx="42.3" cy="355.2" r="1.3" fill="#d6e7f6" stroke="#2c6ca6" stroke-width="1.05" />
<circle cx="43.4" cy="355.1" r="1.3" fill="#d6e7f6" stroke="#2c6ca6" stroke-width="1.05" />
<circle cx="47.7" cy="356.1" r="1.3" fill="#d6e7f6" stroke="#2c6ca6" stroke-width="1.05" />
<circle cx="43.8" cy="354.8" r="1.3" fill="#d6e7f6" stroke="#2c6ca6" stroke-width="1.05" />
<circle cx="46.0" cy="356.6" r="1.3" fill="#d6e7f6" stroke="#2c6ca6" stroke-width="1.05" />
<circle cx="42.0" cy="356.6" r="1.3" fill="#d6e7f6" stroke="#2c6ca6" stroke-width="1.05" />
<circle cx="47.3" cy="355.1" r="1.3" fill="#d6e7f6" stroke="#2c6ca6" stroke-width="1.05" />
<circle cx="42.1" cy="355.1" r="1.3" fill="#d6e7f6" stroke="#2c6ca6" stroke-width="1.05" />
<circle cx="47.8" cy="355.5" r="1.3" fill="#d6e7f6" stroke="#2c6ca6" stroke-width="1.05" />
<circle cx="43.5" cy="355.7" r="1.3" fill="#d6e7f6" stroke="#2c6ca6" stroke-width="1.05" />
<circle cx="42.0" cy="356.9" r="1.3" fill="#d6e7f6" stroke="#2c6ca6" stroke-width="1.05" />
<circle cx="47.7" cy="355.5" r="1.3" fill="#d6e7f6" stroke="#2c6ca6" stroke-width="1.05" />
<circle cx="44.6" cy="351.5" r="1.3" fill="#d6e7f6" stroke="#2c6ca6" stroke-width="1.05" />
<circle cx="44.3" cy="351.7" r="1.3" fill="#d6e7f6" stroke="#2c6ca6" stroke-width="1.05" />
<circle cx="45.5" cy="354.0" r="1.3" fill="#d6e7f6" stroke="#2c6ca6" stroke-width="1.05" />
<circle cx="43.7" cy="353.7" r="1.3" fill="#d6e7f6" stroke="#2c6ca6" stroke-width="1.05" />
<circle cx="43.7" cy="352.7" r="1.3" fill="#d6e7f6" stroke="#2c6ca6" stroke-width="1.05" />
<circle cx="43.7" cy="353.3" r="1.3" fill="#d6e7f6" stroke="#2c6ca6" stroke-width="1.05" />
<circle cx="43.3" cy="351.6" r="1.3" fill="#d6e7f6" stroke="#2c6ca6" stroke-width="1.05" />
<circle cx="44.0" cy="353.1" r="1.3" fill="#d6e7f6" stroke="#2c6ca6" stroke-width="1.05" />
<rect x="52.4" y="328.2" width="8.0" height="29.4" fill="#fbd1c6" stroke="#a43628" stroke-width="1.2" />
<line x1="56.4" y1="305.2" x2="56.4" y2="351.3" stroke="#d6432d" stroke-width="1.0" />
<line x1="53.5" y1="305.2" x2="59.3" y2="305.2" stroke="#d6432d" stroke-width="1.0" />
<line x1="53.5" y1="351.3" x2="59.3" y2="351.3" stroke="#d6432d" stroke-width="1.0" />
<circle cx="56.4" cy="267.4" r="1.3" fill="#fbd1c6" stroke="#d6432d" stroke-width="1.05" />
<circle cx="56.4" cy="298.9" r="1.3" fill="#fbd1c6" stroke="#d6432d" stroke-width="1.05" />
<circle cx="55.9" cy="303.1" r="1.3" fill="#fbd1c6" stroke="#d6432d" stroke-width="1.05" />
<circle cx="53.4" cy="319.9" r="1.3" fill="#fbd1c6" stroke="#d6432d" stroke-width="1.05" />
<circle cx="56.4" cy="319.9" r="1.3" fill="#fbd1c6" stroke="#d6432d" stroke-width="1.05" />
<circle cx="58.9" cy="319.9" r="1.3" fill="#fbd1c6" stroke="#d6432d" stroke-width="1.05" />
<circle cx="56.4" cy="330.3" r="1.3" fill="#fbd1c6" stroke="#d6432d" stroke-width="1.05" />
<circle cx="57.9" cy="340.8" r="1.3" fill="#fbd1c6" stroke="#d6432d" stroke-width="1.05" />
<circle cx="54.4" cy="349.2" r="1.3" fill="#fbd1c6" stroke="#d6432d" stroke-width="1.05" />
<circle cx="58.4" cy="351.3" r="1.3" fill="#fbd1c6" stroke="#d6432d" stroke-width="1.05" />
<circle cx="56.4" cy="354.2" r="1.3" fill="#fbd1c6" stroke="#d6432d" stroke-width="1.05" />
<circle cx="53.9" cy="355.5" r="1.3" fill="#fbd1c6" stroke="#d6432d" stroke-width="1.05" />
<rect x="73.5" y="355.5" width="8.0" height="2.1" fill="#d6e7f6" stroke="#2a5f98" stroke-width="1.2" />
<circle cx="78.1" cy="354.9" r="1.3" fill="#d6e7f6" stroke="#2c6ca6" stroke-width="1.05" />
<circle cx="77.0" cy="354.9" r="1.3" fill="#d6e7f6" stroke="#2c6ca6" stroke-width="1.05" />
<circle cx="77.5" cy="355.7" r="1.3" fill="#d6e7f6" stroke="#2c6ca6" stroke-width="1.05" />
<circle cx="77.7" cy="356.9" r="1.3" fill="#d6e7f6" stroke="#2c6ca6" stroke-width="1.05" />
<circle cx="77.1" cy="356.5" r="1.3" fill="#d6e7f6" stroke="#2c6ca6" stroke-width="1.05" />
<circle cx="74.1" cy="355.1" r="1.3" fill="#d6e7f6" stroke="#2c6ca6" stroke-width="1.05" />
<circle cx="75.3" cy="355.9" r="1.3" fill="#d6e7f6" stroke="#2c6ca6" stroke-width="1.05" />
<circle cx="79.0" cy="355.7" r="1.3" fill="#d6e7f6" stroke="#2c6ca6" stroke-width="1.05" />
<circle cx="76.3" cy="355.8" r="1.3" fill="#d6e7f6" stroke="#2c6ca6" stroke-width="1.05" />
<circle cx="77.9" cy="355.2" r="1.3" fill="#d6e7f6" stroke="#2c6ca6" stroke-width="1.05" />
<circle cx="74.8" cy="355.7" r="1.3" fill="#d6e7f6" stroke="#2c6ca6" stroke-width="1.05" />
<circle cx="75.8" cy="356.3" r="1.3" fill="#d6e7f6" stroke="#2c6ca6" stroke-width="1.05" />
<circle cx="79.4" cy="355.8" r="1.3" fill="#d6e7f6" stroke="#2c6ca6" stroke-width="1.05" />
<circle cx="77.9" cy="355.2" r="1.3" fill="#d6e7f6" stroke="#2c6ca6" stroke-width="1.05" />
<circle cx="80.3" cy="355.9" r="1.3" fill="#d6e7f6" stroke="#2c6ca6" stroke-width="1.05" />
<circle cx="78.3" cy="355.8" r="1.3" fill="#d6e7f6" stroke="#2c6ca6" stroke-width="1.05" />
<circle cx="77.5" cy="352.3" r="1.3" fill="#d6e7f6" stroke="#2c6ca6" stroke-width="1.05" />
<circle cx="77.3" cy="352.9" r="1.3" fill="#d6e7f6" stroke="#2c6ca6" stroke-width="1.05" />
<circle cx="77.4" cy="351.5" r="1.3" fill="#d6e7f6" stroke="#2c6ca6" stroke-width="1.05" />
<circle cx="78.1" cy="351.7" r="1.3" fill="#d6e7f6" stroke="#2c6ca6" stroke-width="1.05" />
<circle cx="78.9" cy="353.8" r="1.3" fill="#d6e7f6" stroke="#2c6ca6" stroke-width="1.05" />
<circle cx="77.7" cy="351.5" r="1.3" fill="#d6e7f6" stroke="#2c6ca6" stroke-width="1.05" />
<circle cx="78.6" cy="354.2" r="1.3" fill="#d6e7f6" stroke="#2c6ca6" stroke-width="1.05" />
<circle cx="76.3" cy="353.2" r="1.3" fill="#d6e7f6" stroke="#2c6ca6" stroke-width="1.05" />
<rect x="85.7" y="345.0" width="8.0" height="12.6" fill="#fbd1c6" stroke="#a43628" stroke-width="1.2" />
<line x1="89.7" y1="327.0" x2="89.7" y2="357.6" stroke="#d6432d" stroke-width="1.0" />
<line x1="86.8" y1="327.0" x2="92.6" y2="327.0" stroke="#d6432d" stroke-width="1.0" />
<line x1="86.8" y1="357.6" x2="92.6" y2="357.6" stroke="#d6432d" stroke-width="1.0" />
<circle cx="89.7" cy="301.8" r="1.3" fill="#fbd1c6" stroke="#d6432d" stroke-width="1.05" />
<circle cx="89.2" cy="314.4" r="1.3" fill="#fbd1c6" stroke="#d6432d" stroke-width="1.05" />
<circle cx="90.7" cy="314.8" r="1.3" fill="#fbd1c6" stroke="#d6432d" stroke-width="1.05" />
<circle cx="87.6" cy="354.3" r="1.3" fill="#fbd1c6" stroke="#d6432d" stroke-width="1.05" />
<circle cx="87.7" cy="350.0" r="1.3" fill="#fbd1c6" stroke="#d6432d" stroke-width="1.05" />
<circle cx="91.1" cy="347.7" r="1.3" fill="#fbd1c6" stroke="#d6432d" stroke-width="1.05" />
<circle cx="88.0" cy="349.6" r="1.3" fill="#fbd1c6" stroke="#d6432d" stroke-width="1.05" />
<circle cx="90.5" cy="355.3" r="1.3" fill="#fbd1c6" stroke="#d6432d" stroke-width="1.05" />
<circle cx="91.5" cy="347.0" r="1.3" fill="#fbd1c6" stroke="#d6432d" stroke-width="1.05" />
<circle cx="88.4" cy="347.2" r="1.3" fill="#fbd1c6" stroke="#d6432d" stroke-width="1.05" />
<circle cx="89.2" cy="351.9" r="1.3" fill="#fbd1c6" stroke="#d6432d" stroke-width="1.05" />
<circle cx="92.1" cy="348.4" r="1.3" fill="#fbd1c6" stroke="#d6432d" stroke-width="1.05" />
<circle cx="88.1" cy="352.4" r="1.3" fill="#fbd1c6" stroke="#d6432d" stroke-width="1.05" />
<circle cx="89.8" cy="353.3" r="1.3" fill="#fbd1c6" stroke="#d6432d" stroke-width="1.05" />
<circle cx="88.2" cy="353.6" r="1.3" fill="#fbd1c6" stroke="#d6432d" stroke-width="1.05" />
<path d="M44.5,277.9 L44.5,255.7 L56.4,255.7 L56.4,261.2" fill="none" stroke="#111" stroke-width="1.0" />
<text x="50.5" y="253.3" font-size="6.5" text-anchor="middle" fill="#333" >0.0002</text>
<path d="M77.5,298.9 L77.5,284.2 L89.7,284.2 L89.7,293.4" fill="none" stroke="#111" stroke-width="1.0" />
<text x="83.6" y="281.8" font-size="6.5" text-anchor="middle" fill="#333" >0.0269</text>
<circle cx="72.8" cy="235.8" r="1.3" fill="#d6e7f6" stroke="#2c6ca6" stroke-width="0.8" />
<text x="76.8" y="238.1" font-size="6.7" text-anchor="start" fill="#333" >Young</text>
<circle cx="72.8" cy="245.8" r="1.3" fill="#fbd1c6" stroke="#d6432d" stroke-width="0.8" />
<text x="76.8" y="248.1" font-size="6.7" text-anchor="start" fill="#333" >Old</text>
<line x1="50.0" y1="357.6" x2="50.0" y2="360.1" stroke="#333" stroke-width="0.8" />
<text x="50.0" y="369.9" font-size="5.8" text-anchor="middle" fill="#333" style="font-style:italic" >TNF</text>
<line x1="84.0" y1="357.6" x2="84.0" y2="360.1" stroke="#333" stroke-width="0.8" />
<text x="84.0" y="369.9" font-size="5.8" text-anchor="middle" fill="#333" style="font-style:italic" >IL-6</text>
<line x1="125.9" y1="231.8" x2="125.9" y2="357.6" stroke="#999" stroke-width="0.9" />
<line x1="125.5" y1="357.6" x2="166.5" y2="357.6" stroke="#333" stroke-width="0.9" />
<line x1="122.7" y1="357.9" x2="125.9" y2="357.9" stroke="#999" stroke-width="0.9" />
<text x="121.5" y="359.7" font-size="5.1" text-anchor="end" fill="#222" >−1</text>
<line x1="122.7" y1="326.4" x2="125.9" y2="326.4" stroke="#999" stroke-width="0.9" />
<text x="121.5" y="328.2" font-size="5.1" text-anchor="end" fill="#222" >0</text>
<line x1="122.7" y1="294.9" x2="125.9" y2="294.9" stroke="#999" stroke-width="0.9" />
<text x="121.5" y="296.7" font-size="5.1" text-anchor="end" fill="#222" >1</text>
<line x1="122.7" y1="263.3" x2="125.9" y2="263.3" stroke="#999" stroke-width="0.9" />
<text x="121.5" y="265.1" font-size="5.1" text-anchor="end" fill="#222" >2</text>
<line x1="122.7" y1="231.8" x2="125.9" y2="231.8" stroke="#999" stroke-width="0.9" />
<text x="121.5" y="233.6" font-size="5.1" text-anchor="end" fill="#222" >3</text>
<line x1="125.9" y1="326.4" x2="166.5" y2="326.4" stroke="#333" stroke-width="0.8" />
<text x="117.2" y="295.9" font-size="6.1" text-anchor="middle" fill="#222" transform="rotate(-90 117.2 295.9)" >TNF by ELISA (ng ml<tspan dy="-2" font-size="4">−1</tspan><tspan dy="2">)</tspan></text>
<rect x="139.2" y="326.4" width="9.0" height="10.4" fill="#d6e7f6" stroke="#2a5f98" stroke-width="1.2" />
<line x1="143.7" y1="328.0" x2="143.7" y2="345.3" stroke="#2c6ca6" stroke-width="1.0" />
<line x1="140.5" y1="328.0" x2="146.9" y2="328.0" stroke="#2c6ca6" stroke-width="1.0" />
<line x1="140.5" y1="345.3" x2="146.9" y2="345.3" stroke="#2c6ca6" stroke-width="1.0" />
<circle cx="143.7" cy="328.9" r="1.3" fill="#d6e7f6" stroke="#2c6ca6" stroke-width="1.05" />
<circle cx="143.7" cy="334.3" r="1.3" fill="#d6e7f6" stroke="#2c6ca6" stroke-width="1.05" />
<circle cx="143.7" cy="340.6" r="1.3" fill="#d6e7f6" stroke="#2c6ca6" stroke-width="1.05" />
<circle cx="143.7" cy="345.3" r="1.3" fill="#d6e7f6" stroke="#2c6ca6" stroke-width="1.05" />
<rect x="152.4" y="304.3" width="9.0" height="22.1" fill="#fbd1c6" stroke="#a43628" stroke-width="1.2" />
<line x1="156.9" y1="280.0" x2="156.9" y2="326.4" stroke="#d6432d" stroke-width="1.0" />
<line x1="153.7" y1="280.0" x2="160.1" y2="280.0" stroke="#d6432d" stroke-width="1.0" />
<line x1="153.7" y1="326.4" x2="160.1" y2="326.4" stroke="#d6432d" stroke-width="1.0" />
<circle cx="156.9" cy="272.8" r="1.3" fill="#fbd1c6" stroke="#d6432d" stroke-width="1.05" />
<circle cx="156.9" cy="301.2" r="1.3" fill="#fbd1c6" stroke="#d6432d" stroke-width="1.05" />
<circle cx="156.9" cy="315.4" r="1.3" fill="#fbd1c6" stroke="#d6432d" stroke-width="1.05" />
<circle cx="156.9" cy="326.4" r="1.3" fill="#fbd1c6" stroke="#d6432d" stroke-width="1.05" />
<path d="M143.7,264.9 L143.7,258.0 L156.9,258.0 L156.9,264.9" fill="none" stroke="#111" stroke-width="1.0" />
<text x="150.3" y="255.2" font-size="6.5" text-anchor="middle" fill="#333" >0.0351</text>
<line x1="150.0" y1="357.6" x2="150.0" y2="360.1" stroke="#333" stroke-width="0.8" />
<text x="150.0" y="370.2" font-size="6.6" text-anchor="middle" fill="#333" >Secretion</text>
<text x="190.8" y="217.3" font-size="14.5" text-anchor="middle" fill="#000" font-weight="bold" stroke="#000" stroke-width="0.35">c</text>
<text x="246.7" y="210.7" font-size="10.47" text-anchor="middle" fill="#222" >Oxidative</text>
<text x="246.7" y="222.3" font-size="10.47" text-anchor="middle" fill="#222" >DNA damage</text>
<line x1="208.8" y1="231.8" x2="208.8" y2="357.1" stroke="#333" stroke-width="0.9" />
<line x1="208.4" y1="357.1" x2="280.5" y2="357.1" stroke="#333" stroke-width="0.9" />
<line x1="205.6" y1="357.1" x2="208.8" y2="357.1" stroke="#333" stroke-width="0.9" />
<text x="204.4" y="358.9" font-size="5.1" text-anchor="end" fill="#222" >0</text>
<line x1="205.6" y1="332.0" x2="208.8" y2="332.0" stroke="#333" stroke-width="0.9" />
<text x="204.4" y="333.8" font-size="5.1" text-anchor="end" fill="#222" >2</text>
<line x1="205.6" y1="307.0" x2="208.8" y2="307.0" stroke="#333" stroke-width="0.9" />
<text x="204.4" y="308.8" font-size="5.1" text-anchor="end" fill="#222" >4</text>
<line x1="205.6" y1="281.9" x2="208.8" y2="281.9" stroke="#333" stroke-width="0.9" />
<text x="204.4" y="283.7" font-size="5.1" text-anchor="end" fill="#222" >6</text>
<line x1="205.6" y1="256.9" x2="208.8" y2="256.9" stroke="#333" stroke-width="0.9" />
<text x="204.4" y="258.6" font-size="5.1" text-anchor="end" fill="#222" >8</text>
<line x1="205.6" y1="231.8" x2="208.8" y2="231.8" stroke="#333" stroke-width="0.9" />
<text x="204.4" y="233.6" font-size="5.1" text-anchor="end" fill="#222" >10</text>
<text x="193.2" y="294.7" font-size="6.75" text-anchor="middle" fill="#222" transform="rotate(-90 193.2 294.7)" >Relative 8-OHdG (fold to young)</text>
<rect x="219.4" y="344.6" width="20.0" height="12.5" fill="#d6e7f6" stroke="#2a5f98" stroke-width="1.2" />
<line x1="229.4" y1="341.8" x2="229.4" y2="347.1" stroke="#2c6ca6" stroke-width="1.0" />
<line x1="224.0" y1="341.8" x2="234.8" y2="341.8" stroke="#2c6ca6" stroke-width="1.0" />
<line x1="224.0" y1="347.1" x2="234.8" y2="347.1" stroke="#2c6ca6" stroke-width="1.0" />
<circle cx="226.4" cy="343.3" r="1.3" fill="#d6e7f6" stroke="#2c6ca6" stroke-width="1.05" />
<circle cx="228.4" cy="341.4" r="1.3" fill="#d6e7f6" stroke="#2c6ca6" stroke-width="1.05" />
<circle cx="231.4" cy="343.3" r="1.3" fill="#d6e7f6" stroke="#2c6ca6" stroke-width="1.05" />
<circle cx="233.4" cy="345.2" r="1.3" fill="#d6e7f6" stroke="#2c6ca6" stroke-width="1.05" />
<circle cx="229.4" cy="347.7" r="1.3" fill="#d6e7f6" stroke="#2c6ca6" stroke-width="1.05" />
<circle cx="224.4" cy="345.2" r="1.3" fill="#d6e7f6" stroke="#2c6ca6" stroke-width="1.05" />
<rect x="250.7" y="290.7" width="20.0" height="66.4" fill="#fbd1c6" stroke="#a43628" stroke-width="1.2" />
<line x1="260.7" y1="266.9" x2="260.7" y2="314.5" stroke="#d6432d" stroke-width="1.0" />
<line x1="255.3" y1="266.9" x2="266.1" y2="266.9" stroke="#d6432d" stroke-width="1.0" />
<line x1="255.3" y1="314.5" x2="266.1" y2="314.5" stroke="#d6432d" stroke-width="1.0" />
<circle cx="260.7" cy="248.7" r="1.3" fill="#fbd1c6" stroke="#d6432d" stroke-width="1.05" />
<circle cx="258.2" cy="288.2" r="1.3" fill="#fbd1c6" stroke="#d6432d" stroke-width="1.05" />
<circle cx="260.7" cy="290.7" r="1.3" fill="#fbd1c6" stroke="#d6432d" stroke-width="1.05" />
<circle cx="263.2" cy="289.4" r="1.3" fill="#fbd1c6" stroke="#d6432d" stroke-width="1.05" />
<circle cx="260.7" cy="308.9" r="1.3" fill="#fbd1c6" stroke="#d6432d" stroke-width="1.05" />
<circle cx="260.7" cy="317.6" r="1.3" fill="#fbd1c6" stroke="#d6432d" stroke-width="1.05" />
<path d="M229.4,253.7 L229.4,236.2 L260.7,236.2 L260.7,241.8" fill="none" stroke="#111" stroke-width="1.0" />
<text x="245.1" y="233.4" font-size="6.5" text-anchor="middle" fill="#333" >0.0003</text>
<line x1="229.4" y1="357.1" x2="229.4" y2="359.6" stroke="#333" stroke-width="0.8" />
<text x="231.9" y="363.6" font-size="6.7" text-anchor="end" fill="#333" transform="rotate(-45 231.9 363.6)" >Young</text>
<line x1="260.7" y1="357.1" x2="260.7" y2="359.6" stroke="#333" stroke-width="0.8" />
<text x="263.2" y="363.6" font-size="6.7" text-anchor="end" fill="#333" transform="rotate(-45 263.2 363.6)" >Old</text>
<text x="306.7" y="217.3" font-size="14.5" text-anchor="middle" fill="#000" font-weight="bold" stroke="#000" stroke-width="0.35">d</text>
<text x="386.0" y="210.8" font-size="10.75" text-anchor="middle" fill="#222" >Adipogenesis and</text>
<text x="386.0" y="222.4" font-size="10.75" text-anchor="middle" fill="#222" >visceral marker</text>
<line x1="322.4" y1="228.5" x2="322.4" y2="356.9" stroke="#333" stroke-width="0.9" />
<line x1="322.0" y1="356.9" x2="459.0" y2="356.9" stroke="#333" stroke-width="0.9" />
<line x1="319.2" y1="356.9" x2="322.4" y2="356.9" stroke="#333" stroke-width="0.9" />
<text x="318.0" y="358.7" font-size="5.1" text-anchor="end" fill="#222" >0</text>
<line x1="319.2" y1="314.1" x2="322.4" y2="314.1" stroke="#333" stroke-width="0.9" />
<text x="318.0" y="315.9" font-size="5.1" text-anchor="end" fill="#222" >2</text>
<line x1="319.2" y1="271.3" x2="322.4" y2="271.3" stroke="#333" stroke-width="0.9" />
<text x="318.0" y="273.1" font-size="5.1" text-anchor="end" fill="#222" >4</text>
<line x1="319.2" y1="228.5" x2="322.4" y2="228.5" stroke="#333" stroke-width="0.9" />
<text x="318.0" y="230.3" font-size="5.1" text-anchor="end" fill="#222" >6</text>
<text x="306.7" y="293.6" font-size="6.51" text-anchor="middle" fill="#222" transform="rotate(-90 306.7 293.6)" >Relative expression (fold to base)</text>
<rect x="327.7" y="348.3" width="5.6" height="8.6" fill="#d6e7f6" stroke="#2a5f98" stroke-width="1.2" />
<circle cx="331.3" cy="355.6" r="1.2" fill="#d6e7f6" stroke="#2c6ca6" stroke-width="1.05" />
<circle cx="330.7" cy="349.9" r="1.2" fill="#d6e7f6" stroke="#2c6ca6" stroke-width="1.05" />
<circle cx="328.9" cy="351.4" r="1.2" fill="#d6e7f6" stroke="#2c6ca6" stroke-width="1.05" />
<circle cx="330.9" cy="348.9" r="1.2" fill="#d6e7f6" stroke="#2c6ca6" stroke-width="1.05" />
<circle cx="329.0" cy="342.5" r="1.2" fill="#d6e7f6" stroke="#2c6ca6" stroke-width="1.05" />
<circle cx="331.5" cy="342.7" r="1.2" fill="#d6e7f6" stroke="#2c6ca6" stroke-width="1.05" />
<circle cx="329.2" cy="352.2" r="1.2" fill="#d6e7f6" stroke="#2c6ca6" stroke-width="1.05" />
<circle cx="328.9" cy="345.3" r="1.2" fill="#d6e7f6" stroke="#2c6ca6" stroke-width="1.05" />
<circle cx="329.7" cy="354.1" r="1.2" fill="#d6e7f6" stroke="#2c6ca6" stroke-width="1.05" />
<circle cx="330.2" cy="343.5" r="1.2" fill="#d6e7f6" stroke="#2c6ca6" stroke-width="1.05" />
<circle cx="331.6" cy="352.3" r="1.2" fill="#d6e7f6" stroke="#2c6ca6" stroke-width="1.05" />
<circle cx="329.3" cy="343.4" r="1.2" fill="#d6e7f6" stroke="#2c6ca6" stroke-width="1.05" />
<circle cx="330.7" cy="346.4" r="1.2" fill="#d6e7f6" stroke="#2c6ca6" stroke-width="1.05" />
<circle cx="329.1" cy="355.1" r="1.2" fill="#d6e7f6" stroke="#2c6ca6" stroke-width="1.05" />
<circle cx="331.1" cy="350.1" r="1.2" fill="#d6e7f6" stroke="#2c6ca6" stroke-width="1.05" />
<circle cx="329.0" cy="343.2" r="1.2" fill="#d6e7f6" stroke="#2c6ca6" stroke-width="1.05" />
<circle cx="331.0" cy="345.0" r="1.2" fill="#d6e7f6" stroke="#2c6ca6" stroke-width="1.05" />
<circle cx="329.1" cy="344.3" r="1.2" fill="#d6e7f6" stroke="#2c6ca6" stroke-width="1.05" />
<circle cx="329.0" cy="344.2" r="1.2" fill="#d6e7f6" stroke="#2c6ca6" stroke-width="1.05" />
<circle cx="330.3" cy="351.3" r="1.2" fill="#d6e7f6" stroke="#2c6ca6" stroke-width="1.05" />
<circle cx="330.5" cy="335.5" r="1.2" fill="#d6e7f6" stroke="#2c6ca6" stroke-width="1.05" />
<rect x="335.8" y="335.5" width="5.6" height="21.4" fill="#fbd1c6" stroke="#a43628" stroke-width="1.2" />
<line x1="338.6" y1="318.4" x2="338.6" y2="354.8" stroke="#d6432d" stroke-width="1.0" />
<line x1="336.6" y1="318.4" x2="340.6" y2="318.4" stroke="#d6432d" stroke-width="1.0" />
<line x1="336.6" y1="354.8" x2="340.6" y2="354.8" stroke="#d6432d" stroke-width="1.0" />
<circle cx="338.8" cy="332.0" r="1.2" fill="#fbd1c6" stroke="#d6432d" stroke-width="1.05" />
<circle cx="337.8" cy="352.0" r="1.2" fill="#fbd1c6" stroke="#d6432d" stroke-width="1.05" />
<circle cx="338.7" cy="349.2" r="1.2" fill="#fbd1c6" stroke="#d6432d" stroke-width="1.05" />
<circle cx="337.3" cy="351.1" r="1.2" fill="#fbd1c6" stroke="#d6432d" stroke-width="1.05" />
<circle cx="337.1" cy="350.1" r="1.2" fill="#fbd1c6" stroke="#d6432d" stroke-width="1.05" />
<circle cx="338.0" cy="347.6" r="1.2" fill="#fbd1c6" stroke="#d6432d" stroke-width="1.05" />
<circle cx="339.5" cy="347.9" r="1.2" fill="#fbd1c6" stroke="#d6432d" stroke-width="1.05" />
<circle cx="338.6" cy="350.7" r="1.2" fill="#fbd1c6" stroke="#d6432d" stroke-width="1.05" />
<circle cx="338.1" cy="354.7" r="1.2" fill="#fbd1c6" stroke="#d6432d" stroke-width="1.05" />
<circle cx="337.8" cy="354.8" r="1.2" fill="#fbd1c6" stroke="#d6432d" stroke-width="1.05" />
<circle cx="339.4" cy="341.4" r="1.2" fill="#fbd1c6" stroke="#d6432d" stroke-width="1.05" />
<circle cx="337.5" cy="343.3" r="1.2" fill="#fbd1c6" stroke="#d6432d" stroke-width="1.05" />
<circle cx="340.1" cy="352.5" r="1.2" fill="#fbd1c6" stroke="#d6432d" stroke-width="1.05" />
<circle cx="339.7" cy="344.4" r="1.2" fill="#fbd1c6" stroke="#d6432d" stroke-width="1.05" />
<circle cx="338.6" cy="334.3" r="1.2" fill="#fbd1c6" stroke="#d6432d" stroke-width="1.05" />
<circle cx="338.2" cy="342.5" r="1.2" fill="#fbd1c6" stroke="#d6432d" stroke-width="1.05" />
<circle cx="339.2" cy="330.6" r="1.2" fill="#fbd1c6" stroke="#d6432d" stroke-width="1.05" />
<circle cx="338.1" cy="334.3" r="1.2" fill="#fbd1c6" stroke="#d6432d" stroke-width="1.05" />
<circle cx="339.3" cy="339.3" r="1.2" fill="#fbd1c6" stroke="#d6432d" stroke-width="1.05" />
<circle cx="338.3" cy="346.5" r="1.2" fill="#fbd1c6" stroke="#d6432d" stroke-width="1.05" />
<circle cx="338.6" cy="286.3" r="1.2" fill="#fbd1c6" stroke="#d6432d" stroke-width="1.05" />
<circle cx="338.6" cy="307.7" r="1.2" fill="#fbd1c6" stroke="#d6432d" stroke-width="1.05" />
<circle cx="338.6" cy="316.2" r="1.2" fill="#fbd1c6" stroke="#d6432d" stroke-width="1.05" />
<circle cx="338.6" cy="317.3" r="1.2" fill="#fbd1c6" stroke="#d6432d" stroke-width="1.05" />
<line x1="334.6" y1="356.9" x2="334.6" y2="359.4" stroke="#333" stroke-width="0.8" />
<text x="336.6" y="362.9" font-size="6.3" text-anchor="end" fill="#333" transform="rotate(-45 336.6 362.9)" style="font-style:italic" >PPARG</text>
<rect x="350.1" y="343.0" width="5.6" height="13.9" fill="#d6e7f6" stroke="#2a5f98" stroke-width="1.2" />
<rect x="350.2" y="351.7" width="2.4" height="2.4" fill="#d6e7f6" stroke="#2c6ca6" stroke-width="1.05" />
<rect x="350.2" y="337.9" width="2.4" height="2.4" fill="#d6e7f6" stroke="#2c6ca6" stroke-width="1.05" />
<rect x="350.9" y="350.9" width="2.4" height="2.4" fill="#d6e7f6" stroke="#2c6ca6" stroke-width="1.05" />
<rect x="350.3" y="335.6" width="2.4" height="2.4" fill="#d6e7f6" stroke="#2c6ca6" stroke-width="1.05" />
<rect x="353.0" y="339.5" width="2.4" height="2.4" fill="#d6e7f6" stroke="#2c6ca6" stroke-width="1.05" />
<rect x="351.0" y="349.2" width="2.4" height="2.4" fill="#d6e7f6" stroke="#2c6ca6" stroke-width="1.05" />
<rect x="351.0" y="344.3" width="2.4" height="2.4" fill="#d6e7f6" stroke="#2c6ca6" stroke-width="1.05" />
<rect x="350.5" y="344.6" width="2.4" height="2.4" fill="#d6e7f6" stroke="#2c6ca6" stroke-width="1.05" />
<rect x="350.9" y="332.9" width="2.4" height="2.4" fill="#d6e7f6" stroke="#2c6ca6" stroke-width="1.05" />
<rect x="353.3" y="342.3" width="2.4" height="2.4" fill="#d6e7f6" stroke="#2c6ca6" stroke-width="1.05" />
<rect x="350.8" y="332.8" width="2.4" height="2.4" fill="#d6e7f6" stroke="#2c6ca6" stroke-width="1.05" />
<rect x="351.1" y="346.6" width="2.4" height="2.4" fill="#d6e7f6" stroke="#2c6ca6" stroke-width="1.05" />
<rect x="350.0" y="346.0" width="2.4" height="2.4" fill="#d6e7f6" stroke="#2c6ca6" stroke-width="1.05" />
<rect x="351.6" y="343.3" width="2.4" height="2.4" fill="#d6e7f6" stroke="#2c6ca6" stroke-width="1.05" />
<rect x="350.7" y="343.2" width="2.4" height="2.4" fill="#d6e7f6" stroke="#2c6ca6" stroke-width="1.05" />
<rect x="350.0" y="348.7" width="2.4" height="2.4" fill="#d6e7f6" stroke="#2c6ca6" stroke-width="1.05" />
<rect x="350.3" y="345.6" width="2.4" height="2.4" fill="#d6e7f6" stroke="#2c6ca6" stroke-width="1.05" />
<rect x="350.1" y="354.1" width="2.4" height="2.4" fill="#d6e7f6" stroke="#2c6ca6" stroke-width="1.05" />
<rect x="351.0" y="349.4" width="2.4" height="2.4" fill="#d6e7f6" stroke="#2c6ca6" stroke-width="1.05" />
<rect x="352.0" y="342.7" width="2.4" height="2.4" fill="#d6e7f6" stroke="#2c6ca6" stroke-width="1.05" />
<rect x="351.7" y="335.4" width="2.4" height="2.4" fill="#d6e7f6" stroke="#2c6ca6" stroke-width="1.05" />
<rect x="359.0" y="325.9" width="5.6" height="31.0" fill="#fbd1c6" stroke="#a43628" stroke-width="1.2" />
<line x1="361.8" y1="314.1" x2="361.8" y2="337.6" stroke="#d6432d" stroke-width="1.0" />
<line x1="359.8" y1="314.1" x2="363.8" y2="314.1" stroke="#d6432d" stroke-width="1.0" />
<line x1="359.8" y1="337.6" x2="363.8" y2="337.6" stroke="#d6432d" stroke-width="1.0" />
<rect x="361.5" y="326.5" width="2.4" height="2.4" fill="#fbd1c6" stroke="#d6432d" stroke-width="1.05" />
<rect x="361.3" y="320.3" width="2.4" height="2.4" fill="#fbd1c6" stroke="#d6432d" stroke-width="1.05" />
<rect x="360.2" y="335.7" width="2.4" height="2.4" fill="#fbd1c6" stroke="#d6432d" stroke-width="1.05" />
<rect x="362.2" y="340.7" width="2.4" height="2.4" fill="#fbd1c6" stroke="#d6432d" stroke-width="1.05" />
<rect x="361.4" y="326.9" width="2.4" height="2.4" fill="#fbd1c6" stroke="#d6432d" stroke-width="1.05" />
<rect x="359.0" y="321.5" width="2.4" height="2.4" fill="#fbd1c6" stroke="#d6432d" stroke-width="1.05" />
<rect x="361.9" y="327.3" width="2.4" height="2.4" fill="#fbd1c6" stroke="#d6432d" stroke-width="1.05" />
<rect x="361.4" y="322.2" width="2.4" height="2.4" fill="#fbd1c6" stroke="#d6432d" stroke-width="1.05" />
<rect x="359.4" y="330.2" width="2.4" height="2.4" fill="#fbd1c6" stroke="#d6432d" stroke-width="1.05" />
<rect x="360.6" y="321.5" width="2.4" height="2.4" fill="#fbd1c6" stroke="#d6432d" stroke-width="1.05" />
<rect x="361.6" y="321.8" width="2.4" height="2.4" fill="#fbd1c6" stroke="#d6432d" stroke-width="1.05" />
<rect x="360.9" y="319.9" width="2.4" height="2.4" fill="#fbd1c6" stroke="#d6432d" stroke-width="1.05" />
<rect x="361.2" y="325.5" width="2.4" height="2.4" fill="#fbd1c6" stroke="#d6432d" stroke-width="1.05" />
<rect x="359.7" y="344.0" width="2.4" height="2.4" fill="#fbd1c6" stroke="#d6432d" stroke-width="1.05" />
<rect x="359.4" y="334.8" width="2.4" height="2.4" fill="#fbd1c6" stroke="#d6432d" stroke-width="1.05" />
<rect x="359.3" y="321.5" width="2.4" height="2.4" fill="#fbd1c6" stroke="#d6432d" stroke-width="1.05" />
<rect x="360.8" y="327.3" width="2.4" height="2.4" fill="#fbd1c6" stroke="#d6432d" stroke-width="1.05" />
<rect x="361.0" y="325.8" width="2.4" height="2.4" fill="#fbd1c6" stroke="#d6432d" stroke-width="1.05" />
<rect x="360.6" y="344.7" width="2.4" height="2.4" fill="#fbd1c6" stroke="#d6432d" stroke-width="1.05" />
<rect x="361.6" y="323.9" width="2.4" height="2.4" fill="#fbd1c6" stroke="#d6432d" stroke-width="1.05" />
<rect x="360.6" y="303.3" width="2.4" height="2.4" fill="#fbd1c6" stroke="#d6432d" stroke-width="1.05" />
<rect x="360.6" y="308.6" width="2.4" height="2.4" fill="#fbd1c6" stroke="#d6432d" stroke-width="1.05" />
<rect x="360.6" y="310.8" width="2.4" height="2.4" fill="#fbd1c6" stroke="#d6432d" stroke-width="1.05" />
<line x1="357.4" y1="356.9" x2="357.4" y2="359.4" stroke="#333" stroke-width="0.8" />
<text x="359.4" y="362.9" font-size="6.3" text-anchor="end" fill="#333" transform="rotate(-45 359.4 362.9)" style="font-style:italic" >FABP4</text>
<rect x="372.7" y="339.8" width="5.6" height="17.1" fill="#d6e7f6" stroke="#2a5f98" stroke-width="1.2" />
<circle cx="375.5" cy="340.8" r="1.2" fill="#d6e7f6" stroke="#2c6ca6" stroke-width="1.05" />
<circle cx="376.0" cy="354.0" r="1.2" fill="#d6e7f6" stroke="#2c6ca6" stroke-width="1.05" />
<circle cx="376.3" cy="348.8" r="1.2" fill="#d6e7f6" stroke="#2c6ca6" stroke-width="1.05" />
<circle cx="374.1" cy="348.4" r="1.2" fill="#d6e7f6" stroke="#2c6ca6" stroke-width="1.05" />
<circle cx="376.3" cy="350.1" r="1.2" fill="#d6e7f6" stroke="#2c6ca6" stroke-width="1.05" />
<circle cx="376.3" cy="328.5" r="1.2" fill="#d6e7f6" stroke="#2c6ca6" stroke-width="1.05" />
<circle cx="375.5" cy="345.1" r="1.2" fill="#d6e7f6" stroke="#2c6ca6" stroke-width="1.05" />
<circle cx="375.4" cy="336.7" r="1.2" fill="#d6e7f6" stroke="#2c6ca6" stroke-width="1.05" />
<circle cx="376.4" cy="338.5" r="1.2" fill="#d6e7f6" stroke="#2c6ca6" stroke-width="1.05" />
<circle cx="376.0" cy="353.7" r="1.2" fill="#d6e7f6" stroke="#2c6ca6" stroke-width="1.05" />
<circle cx="374.3" cy="348.7" r="1.2" fill="#d6e7f6" stroke="#2c6ca6" stroke-width="1.05" />
<circle cx="376.3" cy="347.3" r="1.2" fill="#d6e7f6" stroke="#2c6ca6" stroke-width="1.05" />
<circle cx="375.7" cy="355.5" r="1.2" fill="#d6e7f6" stroke="#2c6ca6" stroke-width="1.05" />
<circle cx="374.0" cy="348.3" r="1.2" fill="#d6e7f6" stroke="#2c6ca6" stroke-width="1.05" />
<circle cx="376.1" cy="336.4" r="1.2" fill="#d6e7f6" stroke="#2c6ca6" stroke-width="1.05" />
<circle cx="376.1" cy="347.7" r="1.2" fill="#d6e7f6" stroke="#2c6ca6" stroke-width="1.05" />
<circle cx="375.6" cy="342.8" r="1.2" fill="#d6e7f6" stroke="#2c6ca6" stroke-width="1.05" />
<circle cx="375.4" cy="352.5" r="1.2" fill="#d6e7f6" stroke="#2c6ca6" stroke-width="1.05" />
<circle cx="376.8" cy="350.2" r="1.2" fill="#d6e7f6" stroke="#2c6ca6" stroke-width="1.05" />
<circle cx="377.1" cy="329.6" r="1.2" fill="#d6e7f6" stroke="#2c6ca6" stroke-width="1.05" />
<circle cx="375.5" cy="315.2" r="1.2" fill="#d6e7f6" stroke="#2c6ca6" stroke-width="1.05" />
<rect x="381.6" y="328.0" width="5.6" height="28.9" fill="#fbd1c6" stroke="#a43628" stroke-width="1.2" />
<line x1="384.4" y1="316.2" x2="384.4" y2="339.8" stroke="#d6432d" stroke-width="1.0" />
<line x1="382.4" y1="316.2" x2="386.4" y2="316.2" stroke="#d6432d" stroke-width="1.0" />
<line x1="382.4" y1="339.8" x2="386.4" y2="339.8" stroke="#d6432d" stroke-width="1.0" />
<circle cx="382.8" cy="334.9" r="1.2" fill="#fbd1c6" stroke="#d6432d" stroke-width="1.05" />
<circle cx="385.5" cy="321.6" r="1.2" fill="#fbd1c6" stroke="#d6432d" stroke-width="1.05" />
<circle cx="384.2" cy="339.8" r="1.2" fill="#fbd1c6" stroke="#d6432d" stroke-width="1.05" />
<circle cx="383.4" cy="322.2" r="1.2" fill="#fbd1c6" stroke="#d6432d" stroke-width="1.05" />
<circle cx="383.4" cy="331.7" r="1.2" fill="#fbd1c6" stroke="#d6432d" stroke-width="1.05" />
<circle cx="383.2" cy="333.2" r="1.2" fill="#fbd1c6" stroke="#d6432d" stroke-width="1.05" />
<circle cx="385.9" cy="343.3" r="1.2" fill="#fbd1c6" stroke="#d6432d" stroke-width="1.05" />
<circle cx="385.5" cy="333.6" r="1.2" fill="#fbd1c6" stroke="#d6432d" stroke-width="1.05" />
<circle cx="385.7" cy="328.5" r="1.2" fill="#fbd1c6" stroke="#d6432d" stroke-width="1.05" />
<circle cx="383.5" cy="323.4" r="1.2" fill="#fbd1c6" stroke="#d6432d" stroke-width="1.05" />
<circle cx="384.4" cy="346.1" r="1.2" fill="#fbd1c6" stroke="#d6432d" stroke-width="1.05" />
<circle cx="382.7" cy="334.0" r="1.2" fill="#fbd1c6" stroke="#d6432d" stroke-width="1.05" />
<circle cx="384.2" cy="338.9" r="1.2" fill="#fbd1c6" stroke="#d6432d" stroke-width="1.05" />
<circle cx="383.2" cy="337.8" r="1.2" fill="#fbd1c6" stroke="#d6432d" stroke-width="1.05" />
<circle cx="383.8" cy="324.9" r="1.2" fill="#fbd1c6" stroke="#d6432d" stroke-width="1.05" />
<circle cx="382.7" cy="327.3" r="1.2" fill="#fbd1c6" stroke="#d6432d" stroke-width="1.05" />
<circle cx="385.6" cy="343.7" r="1.2" fill="#fbd1c6" stroke="#d6432d" stroke-width="1.05" />
<circle cx="385.8" cy="328.2" r="1.2" fill="#fbd1c6" stroke="#d6432d" stroke-width="1.05" />
<circle cx="385.8" cy="339.3" r="1.2" fill="#fbd1c6" stroke="#d6432d" stroke-width="1.05" />
<circle cx="384.0" cy="336.6" r="1.2" fill="#fbd1c6" stroke="#d6432d" stroke-width="1.05" />
<circle cx="384.4" cy="302.3" r="1.2" fill="#fbd1c6" stroke="#d6432d" stroke-width="1.05" />
<circle cx="384.4" cy="309.8" r="1.2" fill="#fbd1c6" stroke="#d6432d" stroke-width="1.05" />
<circle cx="384.4" cy="312.0" r="1.2" fill="#fbd1c6" stroke="#d6432d" stroke-width="1.05" />
<line x1="379.9" y1="356.9" x2="379.9" y2="359.4" stroke="#333" stroke-width="0.8" />
<text x="381.9" y="362.9" font-size="6.3" text-anchor="end" fill="#333" transform="rotate(-45 381.9 362.9)" style="font-style:italic" >LPL</text>
<rect x="396.4" y="338.7" width="5.6" height="18.2" fill="#d6e7f6" stroke="#2a5f98" stroke-width="1.2" />
<rect x="399.7" y="337.0" width="2.4" height="2.4" fill="#d6e7f6" stroke="#2c6ca6" stroke-width="1.05" />
<rect x="397.5" y="341.9" width="2.4" height="2.4" fill="#d6e7f6" stroke="#2c6ca6" stroke-width="1.05" />
<rect x="397.2" y="353.2" width="2.4" height="2.4" fill="#d6e7f6" stroke="#2c6ca6" stroke-width="1.05" />
<rect x="396.6" y="329.7" width="2.4" height="2.4" fill="#d6e7f6" stroke="#2c6ca6" stroke-width="1.05" />
<rect x="397.3" y="326.7" width="2.4" height="2.4" fill="#d6e7f6" stroke="#2c6ca6" stroke-width="1.05" />
<rect x="397.1" y="346.7" width="2.4" height="2.4" fill="#d6e7f6" stroke="#2c6ca6" stroke-width="1.05" />
<rect x="398.0" y="349.0" width="2.4" height="2.4" fill="#d6e7f6" stroke="#2c6ca6" stroke-width="1.05" />
<rect x="397.6" y="326.1" width="2.4" height="2.4" fill="#d6e7f6" stroke="#2c6ca6" stroke-width="1.05" />
<rect x="399.3" y="330.4" width="2.4" height="2.4" fill="#d6e7f6" stroke="#2c6ca6" stroke-width="1.05" />
<rect x="398.4" y="327.4" width="2.4" height="2.4" fill="#d6e7f6" stroke="#2c6ca6" stroke-width="1.05" />
<rect x="399.5" y="338.2" width="2.4" height="2.4" fill="#d6e7f6" stroke="#2c6ca6" stroke-width="1.05" />
<rect x="398.7" y="353.2" width="2.4" height="2.4" fill="#d6e7f6" stroke="#2c6ca6" stroke-width="1.05" />
<rect x="398.8" y="341.2" width="2.4" height="2.4" fill="#d6e7f6" stroke="#2c6ca6" stroke-width="1.05" />
<rect x="398.9" y="335.4" width="2.4" height="2.4" fill="#d6e7f6" stroke="#2c6ca6" stroke-width="1.05" />
<rect x="397.3" y="353.2" width="2.4" height="2.4" fill="#d6e7f6" stroke="#2c6ca6" stroke-width="1.05" />
<rect x="399.5" y="350.8" width="2.4" height="2.4" fill="#d6e7f6" stroke="#2c6ca6" stroke-width="1.05" />
<rect x="397.9" y="344.4" width="2.4" height="2.4" fill="#d6e7f6" stroke="#2c6ca6" stroke-width="1.05" />
<rect x="397.3" y="332.6" width="2.4" height="2.4" fill="#d6e7f6" stroke="#2c6ca6" stroke-width="1.05" />
<rect x="399.6" y="346.9" width="2.4" height="2.4" fill="#d6e7f6" stroke="#2c6ca6" stroke-width="1.05" />
<rect x="398.5" y="345.6" width="2.4" height="2.4" fill="#d6e7f6" stroke="#2c6ca6" stroke-width="1.05" />
<rect x="398.0" y="324.7" width="2.4" height="2.4" fill="#d6e7f6" stroke="#2c6ca6" stroke-width="1.05" />
<rect x="404.8" y="333.4" width="5.6" height="23.5" fill="#fbd1c6" stroke="#a43628" stroke-width="1.2" />
<line x1="407.6" y1="329.1" x2="407.6" y2="337.6" stroke="#d6432d" stroke-width="1.0" />
<line x1="405.6" y1="329.1" x2="409.6" y2="329.1" stroke="#d6432d" stroke-width="1.0" />
<line x1="405.6" y1="337.6" x2="409.6" y2="337.6" stroke="#d6432d" stroke-width="1.0" />
<rect x="406.6" y="339.1" width="2.4" height="2.4" fill="#fbd1c6" stroke="#d6432d" stroke-width="1.05" />
<rect x="405.3" y="344.0" width="2.4" height="2.4" fill="#fbd1c6" stroke="#d6432d" stroke-width="1.05" />
<rect x="405.4" y="328.3" width="2.4" height="2.4" fill="#fbd1c6" stroke="#d6432d" stroke-width="1.05" />
<rect x="406.4" y="342.8" width="2.4" height="2.4" fill="#fbd1c6" stroke="#d6432d" stroke-width="1.05" />
<rect x="407.8" y="326.3" width="2.4" height="2.4" fill="#fbd1c6" stroke="#d6432d" stroke-width="1.05" />
<rect x="406.2" y="344.5" width="2.4" height="2.4" fill="#fbd1c6" stroke="#d6432d" stroke-width="1.05" />
<rect x="405.4" y="345.5" width="2.4" height="2.4" fill="#fbd1c6" stroke="#d6432d" stroke-width="1.05" />
<rect x="405.9" y="345.5" width="2.4" height="2.4" fill="#fbd1c6" stroke="#d6432d" stroke-width="1.05" />
<rect x="405.5" y="342.0" width="2.4" height="2.4" fill="#fbd1c6" stroke="#d6432d" stroke-width="1.05" />
<rect x="406.6" y="328.7" width="2.4" height="2.4" fill="#fbd1c6" stroke="#d6432d" stroke-width="1.05" />
<rect x="407.2" y="338.7" width="2.4" height="2.4" fill="#fbd1c6" stroke="#d6432d" stroke-width="1.05" />
<rect x="406.1" y="336.4" width="2.4" height="2.4" fill="#fbd1c6" stroke="#d6432d" stroke-width="1.05" />
<rect x="406.0" y="340.3" width="2.4" height="2.4" fill="#fbd1c6" stroke="#d6432d" stroke-width="1.05" />
<rect x="404.9" y="341.6" width="2.4" height="2.4" fill="#fbd1c6" stroke="#d6432d" stroke-width="1.05" />
<rect x="408.0" y="344.8" width="2.4" height="2.4" fill="#fbd1c6" stroke="#d6432d" stroke-width="1.05" />
<rect x="406.4" y="334.1" width="2.4" height="2.4" fill="#fbd1c6" stroke="#d6432d" stroke-width="1.05" />
<rect x="407.6" y="342.9" width="2.4" height="2.4" fill="#fbd1c6" stroke="#d6432d" stroke-width="1.05" />
<rect x="405.6" y="342.2" width="2.4" height="2.4" fill="#fbd1c6" stroke="#d6432d" stroke-width="1.05" />
<rect x="406.1" y="338.0" width="2.4" height="2.4" fill="#fbd1c6" stroke="#d6432d" stroke-width="1.05" />
<rect x="407.9" y="329.5" width="2.4" height="2.4" fill="#fbd1c6" stroke="#d6432d" stroke-width="1.05" />
<rect x="406.4" y="325.7" width="2.4" height="2.4" fill="#fbd1c6" stroke="#d6432d" stroke-width="1.05" />
<line x1="403.4" y1="356.9" x2="403.4" y2="359.4" stroke="#333" stroke-width="0.8" />
<text x="405.4" y="362.9" font-size="6.3" text-anchor="end" fill="#333" transform="rotate(-45 405.4 362.9)" style="font-style:italic" >HSL</text>
<rect x="419.2" y="349.4" width="5.6" height="7.5" fill="#d6e7f6" stroke="#2a5f98" stroke-width="1.2" />
<circle cx="423.3" cy="355.6" r="1.2" fill="#d6e7f6" stroke="#2c6ca6" stroke-width="1.05" />
<circle cx="420.4" cy="347.6" r="1.2" fill="#d6e7f6" stroke="#2c6ca6" stroke-width="1.05" />
<circle cx="423.3" cy="350.3" r="1.2" fill="#d6e7f6" stroke="#2c6ca6" stroke-width="1.05" />
<circle cx="422.3" cy="355.8" r="1.2" fill="#d6e7f6" stroke="#2c6ca6" stroke-width="1.05" />
<circle cx="421.6" cy="345.0" r="1.2" fill="#d6e7f6" stroke="#2c6ca6" stroke-width="1.05" />
<circle cx="423.1" cy="345.9" r="1.2" fill="#d6e7f6" stroke="#2c6ca6" stroke-width="1.05" />
<circle cx="423.6" cy="352.9" r="1.2" fill="#d6e7f6" stroke="#2c6ca6" stroke-width="1.05" />
<circle cx="420.7" cy="354.0" r="1.2" fill="#d6e7f6" stroke="#2c6ca6" stroke-width="1.05" />
<circle cx="422.1" cy="347.9" r="1.2" fill="#d6e7f6" stroke="#2c6ca6" stroke-width="1.05" />
<circle cx="423.5" cy="347.4" r="1.2" fill="#d6e7f6" stroke="#2c6ca6" stroke-width="1.05" />
<circle cx="422.5" cy="346.9" r="1.2" fill="#d6e7f6" stroke="#2c6ca6" stroke-width="1.05" />
<circle cx="421.9" cy="349.4" r="1.2" fill="#d6e7f6" stroke="#2c6ca6" stroke-width="1.05" />
<circle cx="420.4" cy="346.7" r="1.2" fill="#d6e7f6" stroke="#2c6ca6" stroke-width="1.05" />
<circle cx="421.1" cy="345.1" r="1.2" fill="#d6e7f6" stroke="#2c6ca6" stroke-width="1.05" />
<circle cx="422.5" cy="352.3" r="1.2" fill="#d6e7f6" stroke="#2c6ca6" stroke-width="1.05" />
<circle cx="420.7" cy="352.9" r="1.2" fill="#d6e7f6" stroke="#2c6ca6" stroke-width="1.05" />
<circle cx="422.5" cy="347.7" r="1.2" fill="#d6e7f6" stroke="#2c6ca6" stroke-width="1.05" />
<circle cx="420.7" cy="355.0" r="1.2" fill="#d6e7f6" stroke="#2c6ca6" stroke-width="1.05" />
<circle cx="422.1" cy="349.0" r="1.2" fill="#d6e7f6" stroke="#2c6ca6" stroke-width="1.05" />
<circle cx="421.6" cy="353.2" r="1.2" fill="#d6e7f6" stroke="#2c6ca6" stroke-width="1.05" />
<circle cx="422.0" cy="326.9" r="1.2" fill="#d6e7f6" stroke="#2c6ca6" stroke-width="1.05" />
<rect x="427.6" y="329.1" width="5.6" height="27.8" fill="#fbd1c6" stroke="#a43628" stroke-width="1.2" />
<line x1="430.4" y1="315.2" x2="430.4" y2="344.1" stroke="#d6432d" stroke-width="1.0" />
<line x1="428.4" y1="315.2" x2="432.4" y2="315.2" stroke="#d6432d" stroke-width="1.0" />
<line x1="428.4" y1="344.1" x2="432.4" y2="344.1" stroke="#d6432d" stroke-width="1.0" />
<circle cx="430.7" cy="354.8" r="1.2" fill="#fbd1c6" stroke="#d6432d" stroke-width="1.05" />
<circle cx="429.7" cy="340.0" r="1.2" fill="#fbd1c6" stroke="#d6432d" stroke-width="1.05" />
<circle cx="432.0" cy="333.9" r="1.2" fill="#fbd1c6" stroke="#d6432d" stroke-width="1.05" />
<circle cx="431.7" cy="339.5" r="1.2" fill="#fbd1c6" stroke="#d6432d" stroke-width="1.05" />
<circle cx="429.5" cy="347.0" r="1.2" fill="#fbd1c6" stroke="#d6432d" stroke-width="1.05" />
<circle cx="432.0" cy="331.9" r="1.2" fill="#fbd1c6" stroke="#d6432d" stroke-width="1.05" />
<circle cx="429.7" cy="354.5" r="1.2" fill="#fbd1c6" stroke="#d6432d" stroke-width="1.05" />
<circle cx="430.4" cy="332.9" r="1.2" fill="#fbd1c6" stroke="#d6432d" stroke-width="1.05" />
<circle cx="430.1" cy="346.7" r="1.2" fill="#fbd1c6" stroke="#d6432d" stroke-width="1.05" />
<circle cx="431.0" cy="324.6" r="1.2" fill="#fbd1c6" stroke="#d6432d" stroke-width="1.05" />
<circle cx="429.5" cy="354.1" r="1.2" fill="#fbd1c6" stroke="#d6432d" stroke-width="1.05" />
<circle cx="429.8" cy="341.3" r="1.2" fill="#fbd1c6" stroke="#d6432d" stroke-width="1.05" />
<circle cx="431.0" cy="348.6" r="1.2" fill="#fbd1c6" stroke="#d6432d" stroke-width="1.05" />
<circle cx="431.4" cy="330.8" r="1.2" fill="#fbd1c6" stroke="#d6432d" stroke-width="1.05" />
<circle cx="430.4" cy="348.4" r="1.2" fill="#fbd1c6" stroke="#d6432d" stroke-width="1.05" />
<circle cx="432.0" cy="344.9" r="1.2" fill="#fbd1c6" stroke="#d6432d" stroke-width="1.05" />
<circle cx="431.5" cy="347.6" r="1.2" fill="#fbd1c6" stroke="#d6432d" stroke-width="1.05" />
<circle cx="429.5" cy="330.0" r="1.2" fill="#fbd1c6" stroke="#d6432d" stroke-width="1.05" />
<circle cx="429.7" cy="323.7" r="1.2" fill="#fbd1c6" stroke="#d6432d" stroke-width="1.05" />
<circle cx="430.4" cy="349.0" r="1.2" fill="#fbd1c6" stroke="#d6432d" stroke-width="1.05" />
<circle cx="430.4" cy="275.6" r="1.2" fill="#fbd1c6" stroke="#d6432d" stroke-width="1.05" />
<line x1="426.2" y1="356.9" x2="426.2" y2="359.4" stroke="#333" stroke-width="0.8" />
<text x="428.2" y="362.9" font-size="6.3" text-anchor="end" fill="#333" transform="rotate(-45 428.2 362.9)" style="font-style:italic" >LEP</text>
<rect x="441.6" y="347.3" width="5.6" height="9.6" fill="#d6e7f6" stroke="#2a5f98" stroke-width="1.2" />
<rect x="442.3" y="348.2" width="2.4" height="2.4" fill="#d6e7f6" stroke="#2c6ca6" stroke-width="1.05" />
<rect x="443.8" y="340.1" width="2.4" height="2.4" fill="#d6e7f6" stroke="#2c6ca6" stroke-width="1.05" />
<rect x="442.0" y="348.6" width="2.4" height="2.4" fill="#d6e7f6" stroke="#2c6ca6" stroke-width="1.05" />
<rect x="442.2" y="339.7" width="2.4" height="2.4" fill="#d6e7f6" stroke="#2c6ca6" stroke-width="1.05" />
<rect x="442.0" y="353.8" width="2.4" height="2.4" fill="#d6e7f6" stroke="#2c6ca6" stroke-width="1.05" />
<rect x="441.7" y="348.6" width="2.4" height="2.4" fill="#d6e7f6" stroke="#2c6ca6" stroke-width="1.05" />
<rect x="444.6" y="341.1" width="2.4" height="2.4" fill="#d6e7f6" stroke="#2c6ca6" stroke-width="1.05" />
<rect x="444.0" y="339.4" width="2.4" height="2.4" fill="#d6e7f6" stroke="#2c6ca6" stroke-width="1.05" />
<rect x="444.7" y="349.6" width="2.4" height="2.4" fill="#d6e7f6" stroke="#2c6ca6" stroke-width="1.05" />
<rect x="442.1" y="340.3" width="2.4" height="2.4" fill="#d6e7f6" stroke="#2c6ca6" stroke-width="1.05" />
<rect x="444.0" y="354.1" width="2.4" height="2.4" fill="#d6e7f6" stroke="#2c6ca6" stroke-width="1.05" />
<rect x="443.8" y="348.8" width="2.4" height="2.4" fill="#d6e7f6" stroke="#2c6ca6" stroke-width="1.05" />
<rect x="442.8" y="349.6" width="2.4" height="2.4" fill="#d6e7f6" stroke="#2c6ca6" stroke-width="1.05" />
<rect x="442.1" y="354.6" width="2.4" height="2.4" fill="#d6e7f6" stroke="#2c6ca6" stroke-width="1.05" />
<rect x="442.5" y="349.3" width="2.4" height="2.4" fill="#d6e7f6" stroke="#2c6ca6" stroke-width="1.05" />
<rect x="444.7" y="352.7" width="2.4" height="2.4" fill="#d6e7f6" stroke="#2c6ca6" stroke-width="1.05" />
<rect x="444.8" y="351.5" width="2.4" height="2.4" fill="#d6e7f6" stroke="#2c6ca6" stroke-width="1.05" />
<rect x="442.7" y="342.1" width="2.4" height="2.4" fill="#d6e7f6" stroke="#2c6ca6" stroke-width="1.05" />
<rect x="444.3" y="348.0" width="2.4" height="2.4" fill="#d6e7f6" stroke="#2c6ca6" stroke-width="1.05" />
<rect x="441.7" y="347.4" width="2.4" height="2.4" fill="#d6e7f6" stroke="#2c6ca6" stroke-width="1.05" />
<rect x="443.2" y="327.9" width="2.4" height="2.4" fill="#d6e7f6" stroke="#2c6ca6" stroke-width="1.05" />
<rect x="449.8" y="318.4" width="5.6" height="38.5" fill="#fbd1c6" stroke="#a43628" stroke-width="1.2" />
<line x1="452.6" y1="303.4" x2="452.6" y2="333.4" stroke="#d6432d" stroke-width="1.0" />
<line x1="450.6" y1="303.4" x2="454.6" y2="303.4" stroke="#d6432d" stroke-width="1.0" />
<line x1="450.6" y1="333.4" x2="454.6" y2="333.4" stroke="#d6432d" stroke-width="1.0" />
<rect x="451.0" y="310.3" width="2.4" height="2.4" fill="#fbd1c6" stroke="#d6432d" stroke-width="1.05" />
<rect x="450.4" y="329.6" width="2.4" height="2.4" fill="#fbd1c6" stroke="#d6432d" stroke-width="1.05" />
<rect x="452.7" y="341.2" width="2.4" height="2.4" fill="#fbd1c6" stroke="#d6432d" stroke-width="1.05" />
<rect x="451.1" y="314.1" width="2.4" height="2.4" fill="#fbd1c6" stroke="#d6432d" stroke-width="1.05" />
<rect x="452.3" y="340.8" width="2.4" height="2.4" fill="#fbd1c6" stroke="#d6432d" stroke-width="1.05" />
<rect x="449.8" y="340.0" width="2.4" height="2.4" fill="#fbd1c6" stroke="#d6432d" stroke-width="1.05" />
<rect x="452.8" y="333.3" width="2.4" height="2.4" fill="#fbd1c6" stroke="#d6432d" stroke-width="1.05" />
<rect x="452.2" y="311.1" width="2.4" height="2.4" fill="#fbd1c6" stroke="#d6432d" stroke-width="1.05" />
<rect x="450.9" y="332.8" width="2.4" height="2.4" fill="#fbd1c6" stroke="#d6432d" stroke-width="1.05" />
<rect x="453.0" y="320.8" width="2.4" height="2.4" fill="#fbd1c6" stroke="#d6432d" stroke-width="1.05" />
<rect x="450.6" y="317.4" width="2.4" height="2.4" fill="#fbd1c6" stroke="#d6432d" stroke-width="1.05" />
<rect x="450.8" y="332.7" width="2.4" height="2.4" fill="#fbd1c6" stroke="#d6432d" stroke-width="1.05" />
<rect x="449.7" y="316.0" width="2.4" height="2.4" fill="#fbd1c6" stroke="#d6432d" stroke-width="1.05" />
<rect x="452.8" y="320.2" width="2.4" height="2.4" fill="#fbd1c6" stroke="#d6432d" stroke-width="1.05" />
<rect x="452.9" y="341.4" width="2.4" height="2.4" fill="#fbd1c6" stroke="#d6432d" stroke-width="1.05" />
<rect x="450.5" y="325.7" width="2.4" height="2.4" fill="#fbd1c6" stroke="#d6432d" stroke-width="1.05" />
<rect x="453.0" y="309.1" width="2.4" height="2.4" fill="#fbd1c6" stroke="#d6432d" stroke-width="1.05" />
<rect x="451.0" y="333.5" width="2.4" height="2.4" fill="#fbd1c6" stroke="#d6432d" stroke-width="1.05" />
<rect x="451.2" y="325.1" width="2.4" height="2.4" fill="#fbd1c6" stroke="#d6432d" stroke-width="1.05" />
<rect x="452.9" y="335.9" width="2.4" height="2.4" fill="#fbd1c6" stroke="#d6432d" stroke-width="1.05" />
<rect x="451.4" y="279.7" width="2.4" height="2.4" fill="#fbd1c6" stroke="#d6432d" stroke-width="1.05" />
<rect x="451.4" y="291.5" width="2.4" height="2.4" fill="#fbd1c6" stroke="#d6432d" stroke-width="1.05" />
<rect x="451.4" y="302.2" width="2.4" height="2.4" fill="#fbd1c6" stroke="#d6432d" stroke-width="1.05" />
<line x1="448.5" y1="356.9" x2="448.5" y2="359.4" stroke="#333" stroke-width="0.8" />
<text x="450.5" y="362.9" font-size="6.3" text-anchor="end" fill="#333" transform="rotate(-45 450.5 362.9)" style="font-style:italic" >EBF2</text>
<path d="M330.5,292.7 L330.5,276.6 L338.6,276.6 L338.6,282.0" fill="none" stroke="#111" stroke-width="1.0" />
<text x="334.0" y="273.6" font-size="6.5" text-anchor="middle" fill="#333" >0.0277</text>
<path d="M352.9,307.7 L352.9,298.1 L361.8,298.1 L361.8,301.3" fill="none" stroke="#111" stroke-width="1.0" />
<text x="356.0" y="295.4" font-size="6.5" text-anchor="middle" fill="#333" >&lt;0.0001</text>
<path d="M375.5,299.1 L375.5,288.4 L384.4,288.4 L384.4,297.0" fill="none" stroke="#111" stroke-width="1.0" />
<text x="379.9" y="285.8" font-size="6.5" text-anchor="middle" fill="#333" >0.0094</text>
<path d="M399.2,322.7 L399.2,312.0 L407.6,312.0 L407.6,318.4" fill="none" stroke="#111" stroke-width="1.0" />
<text x="403.4" y="309.3" font-size="6.5" text-anchor="middle" fill="#333" >0.0111</text>
<path d="M422.0,285.2 L422.0,259.5 L430.4,259.5 L430.4,268.1" fill="none" stroke="#111" stroke-width="1.0" />
<text x="424.0" y="256.5" font-size="6.5" text-anchor="middle" fill="#333" >0.0113</text>
<path d="M444.4,284.1 L444.4,264.9 L452.6,264.9 L452.6,274.5" fill="none" stroke="#111" stroke-width="1.0" />
<text x="449.0" y="261.8" font-size="6.5" text-anchor="middle" fill="#333" >&lt;0.0001</text>
<circle cx="331.5" cy="235.5" r="1.3" fill="#d6e7f6" stroke="#2c6ca6" stroke-width="0.8" />
<text x="335.5" y="237.8" font-size="6.7" text-anchor="start" fill="#333" >Young</text>
<circle cx="371.0" cy="235.5" r="1.3" fill="#fbd1c6" stroke="#d6432d" stroke-width="0.8" />
<text x="375.0" y="237.8" font-size="6.7" text-anchor="start" fill="#333" >Old</text>
<text x="482.8" y="216.8" font-size="14.5" text-anchor="middle" fill="#000" font-weight="bold" stroke="#000" stroke-width="0.35">e</text>
<text x="589.0" y="221.3" font-size="10.93" text-anchor="middle" fill="#222" >Lipid and glucose metabolism</text>
<line x1="506.3" y1="229.6" x2="506.3" y2="356.6" stroke="#999" stroke-width="0.9" />
<line x1="505.9" y1="356.6" x2="586.0" y2="356.6" stroke="#333" stroke-width="0.9" />
<line x1="503.1" y1="356.6" x2="506.3" y2="356.6" stroke="#999" stroke-width="0.9" />
<text x="501.9" y="358.4" font-size="5.1" text-anchor="end" fill="#222" >0</text>
<line x1="503.1" y1="314.3" x2="506.3" y2="314.3" stroke="#999" stroke-width="0.9" />
<text x="501.9" y="316.1" font-size="5.1" text-anchor="end" fill="#222" >1</text>
<line x1="503.1" y1="271.9" x2="506.3" y2="271.9" stroke="#999" stroke-width="0.9" />
<text x="501.9" y="273.7" font-size="5.1" text-anchor="end" fill="#222" >2</text>
<line x1="503.1" y1="229.6" x2="506.3" y2="229.6" stroke="#999" stroke-width="0.9" />
<text x="501.9" y="231.4" font-size="5.1" text-anchor="end" fill="#222" >3</text>
<text x="488.2" y="296.5" font-size="7.3" text-anchor="middle" fill="#222" transform="rotate(-90 488.2 296.5)" >Fatty acid uptake</text>
<text x="495.4" y="296.5" font-size="7.3" text-anchor="middle" fill="#222" transform="rotate(-90 495.4 296.5)" >index (fold to control)</text>
<path d="M531.5,265.8 C531.3,267.5 531.3,272.3 531.3,276.2 C531.2,280.0 531.2,285.0 531.2,288.9 C531.2,292.7 531.1,296.8 531.1,299.4 C531.1,302.1 531.1,303.3 530.9,304.6 C530.7,305.9 530.2,306.2 529.7,307.1 C529.2,307.9 528.6,308.6 528.1,309.6 C527.6,310.6 527.0,311.9 526.4,313.0 C525.8,314.1 525.0,314.9 524.3,316.0 C523.6,317.0 523.0,318.2 522.4,319.3 C521.8,320.5 521.1,321.8 520.7,322.7 C520.3,323.7 519.8,324.1 519.9,324.9 C520.0,325.6 520.8,326.3 521.4,327.0 C522.0,327.7 522.8,328.4 523.4,329.1 C524.0,329.8 524.1,330.4 524.9,331.2 C525.6,332.0 527.0,332.9 527.9,333.7 C528.8,334.6 529.8,335.6 530.4,336.3 C531.0,337.0 531.1,337.3 531.3,338.0 C531.5,338.6 531.5,339.7 531.6,340.1 C531.8,340.4 532.0,340.4 532.2,340.1 C532.3,339.7 532.3,338.6 532.5,338.0 C532.7,337.3 532.8,337.0 533.4,336.3 C534.0,335.6 535.0,334.6 535.9,333.7 C536.8,332.9 538.1,332.0 538.9,331.2 C539.6,330.4 539.8,329.8 540.4,329.1 C541.0,328.4 541.8,327.7 542.4,327.0 C543.0,326.3 543.8,325.6 543.9,324.9 C544.0,324.1 543.5,323.7 543.1,322.7 C542.7,321.8 542.0,320.5 541.4,319.3 C540.8,318.2 540.2,317.0 539.5,316.0 C538.8,314.9 538.0,314.1 537.4,313.0 C536.8,311.9 536.2,310.6 535.7,309.6 C535.1,308.6 534.6,307.9 534.1,307.1 C533.6,306.2 533.1,305.9 532.9,304.6 C532.7,303.3 532.7,302.1 532.7,299.4 C532.6,296.8 532.6,292.7 532.6,288.9 C532.6,285.0 532.5,280.0 532.5,276.2 C532.5,272.3 532.5,267.5 532.3,265.8 C532.1,264.1 531.7,264.1 531.5,265.8Z" fill="#2c6ca6" stroke="#1f4f80" stroke-width="0.7" stroke-linejoin="round"/>
<circle cx="537.3" cy="323.3" r="0.45" fill="#fff" stroke="none" stroke-width="0" opacity="0.75"/>
<circle cx="529.9" cy="315.6" r="0.45" fill="#fff" stroke="none" stroke-width="0" opacity="0.75"/>
<circle cx="536.4" cy="327.2" r="0.45" fill="#fff" stroke="none" stroke-width="0" opacity="0.75"/>
<circle cx="531.0" cy="312.3" r="0.45" fill="#fff" stroke="none" stroke-width="0" opacity="0.75"/>
<circle cx="527.3" cy="330.3" r="0.45" fill="#fff" stroke="none" stroke-width="0" opacity="0.75"/>
<circle cx="525.8" cy="324.7" r="0.45" fill="#fff" stroke="none" stroke-width="0" opacity="0.75"/>
<circle cx="533.7" cy="318.8" r="0.45" fill="#fff" stroke="none" stroke-width="0" opacity="0.75"/>
<circle cx="531.9" cy="331.6" r="0.45" fill="#fff" stroke="none" stroke-width="0" opacity="0.75"/>
<circle cx="529.9" cy="333.0" r="0.45" fill="#fff" stroke="none" stroke-width="0" opacity="0.75"/>
<circle cx="532.6" cy="334.1" r="0.45" fill="#fff" stroke="none" stroke-width="0" opacity="0.75"/>
<circle cx="528.4" cy="322.9" r="0.45" fill="#fff" stroke="none" stroke-width="0" opacity="0.75"/>
<circle cx="528.0" cy="326.5" r="0.45" fill="#fff" stroke="none" stroke-width="0" opacity="0.75"/>
<circle cx="530.4" cy="333.2" r="0.45" fill="#fff" stroke="none" stroke-width="0" opacity="0.75"/>
<circle cx="531.2" cy="307.9" r="0.45" fill="#fff" stroke="none" stroke-width="0" opacity="0.75"/>
<circle cx="530.5" cy="312.8" r="0.45" fill="#fff" stroke="none" stroke-width="0" opacity="0.75"/>
<circle cx="532.0" cy="315.4" r="0.45" fill="#fff" stroke="none" stroke-width="0" opacity="0.75"/>
<circle cx="534.8" cy="332.9" r="0.45" fill="#fff" stroke="none" stroke-width="0" opacity="0.75"/>
<circle cx="535.8" cy="316.8" r="0.45" fill="#fff" stroke="none" stroke-width="0" opacity="0.75"/>
<circle cx="527.4" cy="321.8" r="0.45" fill="#fff" stroke="none" stroke-width="0" opacity="0.75"/>
<circle cx="535.4" cy="312.7" r="0.45" fill="#fff" stroke="none" stroke-width="0" opacity="0.75"/>
<circle cx="531.6" cy="309.1" r="0.45" fill="#fff" stroke="none" stroke-width="0" opacity="0.75"/>
<circle cx="527.5" cy="326.7" r="0.45" fill="#fff" stroke="none" stroke-width="0" opacity="0.75"/>
<circle cx="530.4" cy="308.1" r="0.45" fill="#fff" stroke="none" stroke-width="0" opacity="0.75"/>
<circle cx="534.5" cy="313.6" r="0.45" fill="#fff" stroke="none" stroke-width="0" opacity="0.75"/>
<circle cx="533.8" cy="330.6" r="0.45" fill="#fff" stroke="none" stroke-width="0" opacity="0.75"/>
<circle cx="524.8" cy="321.8" r="0.45" fill="#fff" stroke="none" stroke-width="0" opacity="0.75"/>
<circle cx="527.7" cy="331.0" r="0.45" fill="#fff" stroke="none" stroke-width="0" opacity="0.75"/>
<circle cx="532.4" cy="306.3" r="0.45" fill="#fff" stroke="none" stroke-width="0" opacity="0.75"/>
<circle cx="531.3" cy="309.2" r="0.45" fill="#fff" stroke="none" stroke-width="0" opacity="0.75"/>
<circle cx="534.7" cy="322.6" r="0.45" fill="#fff" stroke="none" stroke-width="0" opacity="0.75"/>
<circle cx="536.0" cy="323.5" r="0.45" fill="#fff" stroke="none" stroke-width="0" opacity="0.75"/>
<circle cx="531.0" cy="331.9" r="0.45" fill="#fff" stroke="none" stroke-width="0" opacity="0.75"/>
<circle cx="534.2" cy="326.7" r="0.45" fill="#fff" stroke="none" stroke-width="0" opacity="0.75"/>
<circle cx="528.1" cy="328.1" r="0.45" fill="#fff" stroke="none" stroke-width="0" opacity="0.75"/>
<circle cx="531.5" cy="310.3" r="0.45" fill="#fff" stroke="none" stroke-width="0" opacity="0.75"/>
<circle cx="532.9" cy="328.8" r="0.45" fill="#fff" stroke="none" stroke-width="0" opacity="0.75"/>
<circle cx="529.8" cy="308.7" r="0.45" fill="#fff" stroke="none" stroke-width="0" opacity="0.75"/>
<circle cx="532.4" cy="307.9" r="0.45" fill="#fff" stroke="none" stroke-width="0" opacity="0.75"/>
<circle cx="535.6" cy="326.3" r="0.45" fill="#fff" stroke="none" stroke-width="0" opacity="0.75"/>
<circle cx="528.5" cy="327.0" r="0.45" fill="#fff" stroke="none" stroke-width="0" opacity="0.75"/>
<circle cx="531.8" cy="329.7" r="0.45" fill="#fff" stroke="none" stroke-width="0" opacity="0.75"/>
<circle cx="530.3" cy="313.7" r="0.45" fill="#fff" stroke="none" stroke-width="0" opacity="0.75"/>
<circle cx="523.9" cy="325.7" r="0.45" fill="#fff" stroke="none" stroke-width="0" opacity="0.75"/>
<circle cx="526.6" cy="329.5" r="0.45" fill="#fff" stroke="none" stroke-width="0" opacity="0.75"/>
<circle cx="532.7" cy="310.3" r="0.45" fill="#fff" stroke="none" stroke-width="0" opacity="0.75"/>
<circle cx="533.4" cy="328.5" r="0.45" fill="#fff" stroke="none" stroke-width="0" opacity="0.75"/>
<circle cx="532.3" cy="308.7" r="0.45" fill="#fff" stroke="none" stroke-width="0" opacity="0.75"/>
<circle cx="531.2" cy="308.9" r="0.45" fill="#fff" stroke="none" stroke-width="0" opacity="0.75"/>
<circle cx="537.3" cy="316.6" r="0.45" fill="#fff" stroke="none" stroke-width="0" opacity="0.75"/>
<circle cx="528.1" cy="313.1" r="0.45" fill="#fff" stroke="none" stroke-width="0" opacity="0.75"/>
<circle cx="525.0" cy="325.0" r="0.45" fill="#fff" stroke="none" stroke-width="0" opacity="0.75"/>
<circle cx="534.4" cy="322.3" r="0.45" fill="#fff" stroke="none" stroke-width="0" opacity="0.75"/>
<circle cx="531.1" cy="316.3" r="0.45" fill="#fff" stroke="none" stroke-width="0" opacity="0.75"/>
<circle cx="531.9" cy="333.1" r="0.45" fill="#fff" stroke="none" stroke-width="0" opacity="0.75"/>
<circle cx="530.3" cy="334.3" r="0.45" fill="#fff" stroke="none" stroke-width="0" opacity="0.75"/>
<circle cx="533.9" cy="334.4" r="0.45" fill="#fff" stroke="none" stroke-width="0" opacity="0.75"/>
<circle cx="526.9" cy="328.3" r="0.45" fill="#fff" stroke="none" stroke-width="0" opacity="0.75"/>
<circle cx="530.5" cy="331.8" r="0.45" fill="#fff" stroke="none" stroke-width="0" opacity="0.75"/>
<circle cx="530.5" cy="307.5" r="0.45" fill="#fff" stroke="none" stroke-width="0" opacity="0.75"/>
<circle cx="533.8" cy="329.7" r="0.45" fill="#fff" stroke="none" stroke-width="0" opacity="0.75"/>
<circle cx="528.9" cy="313.8" r="0.45" fill="#fff" stroke="none" stroke-width="0" opacity="0.75"/>
<circle cx="539.6" cy="323.6" r="0.45" fill="#fff" stroke="none" stroke-width="0" opacity="0.75"/>
<circle cx="533.0" cy="310.1" r="0.45" fill="#fff" stroke="none" stroke-width="0" opacity="0.75"/>
<circle cx="526.9" cy="315.7" r="0.45" fill="#fff" stroke="none" stroke-width="0" opacity="0.75"/>
<circle cx="527.0" cy="320.1" r="0.45" fill="#fff" stroke="none" stroke-width="0" opacity="0.75"/>
<circle cx="537.7" cy="319.3" r="0.45" fill="#fff" stroke="none" stroke-width="0" opacity="0.75"/>
<circle cx="531.9" cy="320.2" r="0.45" fill="#fff" stroke="none" stroke-width="0" opacity="0.75"/>
<circle cx="532.7" cy="313.2" r="0.45" fill="#fff" stroke="none" stroke-width="0" opacity="0.75"/>
<circle cx="529.8" cy="315.0" r="0.45" fill="#fff" stroke="none" stroke-width="0" opacity="0.75"/>
<circle cx="531.3" cy="309.9" r="0.45" fill="#fff" stroke="none" stroke-width="0" opacity="0.75"/>
<path d="M567.9,271.1 C567.7,272.6 567.7,277.4 567.6,280.4 C567.5,283.4 567.5,286.8 567.4,288.9 C567.3,291.0 567.3,291.8 567.2,293.1 C567.1,294.4 566.9,295.4 566.7,296.5 C566.6,297.5 566.6,298.5 566.3,299.4 C566.1,300.4 565.6,301.4 565.2,302.4 C564.8,303.5 564.3,304.7 563.8,305.8 C563.3,306.9 562.6,308.1 562.0,309.2 C561.4,310.2 560.7,311.1 559.9,312.2 C559.1,313.2 558.1,314.5 557.4,315.5 C556.7,316.6 555.9,317.5 555.9,318.5 C556.0,319.5 556.9,320.4 557.7,321.5 C558.5,322.5 559.6,323.8 560.6,324.9 C561.6,325.9 563.0,326.8 564.0,327.8 C565.0,328.9 565.7,330.2 566.3,331.2 C566.9,332.2 567.1,332.9 567.4,333.7 C567.7,334.6 567.7,335.9 567.9,336.3 C568.1,336.7 568.3,336.7 568.5,336.3 C568.7,335.9 568.7,334.6 569.0,333.7 C569.3,332.9 569.5,332.2 570.1,331.2 C570.7,330.2 571.5,328.9 572.4,327.8 C573.4,326.8 574.8,325.9 575.8,324.9 C576.9,323.8 577.9,322.5 578.7,321.5 C579.5,320.4 580.5,319.5 580.5,318.5 C580.5,317.5 579.7,316.6 579.0,315.5 C578.3,314.5 577.3,313.2 576.5,312.2 C575.7,311.1 575.1,310.2 574.4,309.2 C573.8,308.1 573.1,306.9 572.6,305.8 C572.1,304.7 571.6,303.5 571.2,302.4 C570.8,301.4 570.4,300.4 570.1,299.4 C569.9,298.5 569.9,297.5 569.7,296.5 C569.6,295.4 569.3,294.4 569.2,293.1 C569.1,291.8 569.1,291.0 569.0,288.9 C568.9,286.8 568.9,283.4 568.8,280.4 C568.7,277.4 568.7,272.6 568.6,271.1 C568.4,269.5 568.0,269.5 567.9,271.1Z" fill="#d6432d" stroke="#9a3020" stroke-width="0.7" stroke-linejoin="round"/>
<circle cx="570.4" cy="312.9" r="0.45" fill="#fff" stroke="none" stroke-width="0" opacity="0.75"/>
<circle cx="569.5" cy="301.9" r="0.45" fill="#fff" stroke="none" stroke-width="0" opacity="0.75"/>
<circle cx="575.5" cy="321.4" r="0.45" fill="#fff" stroke="none" stroke-width="0" opacity="0.75"/>
<circle cx="574.3" cy="312.4" r="0.45" fill="#fff" stroke="none" stroke-width="0" opacity="0.75"/>
<circle cx="570.9" cy="324.6" r="0.45" fill="#fff" stroke="none" stroke-width="0" opacity="0.75"/>
<circle cx="573.8" cy="325.0" r="0.45" fill="#fff" stroke="none" stroke-width="0" opacity="0.75"/>
<circle cx="565.5" cy="320.6" r="0.45" fill="#fff" stroke="none" stroke-width="0" opacity="0.75"/>
<circle cx="565.2" cy="309.7" r="0.45" fill="#fff" stroke="none" stroke-width="0" opacity="0.75"/>
<circle cx="573.4" cy="315.0" r="0.45" fill="#fff" stroke="none" stroke-width="0" opacity="0.75"/>
<circle cx="572.5" cy="319.0" r="0.45" fill="#fff" stroke="none" stroke-width="0" opacity="0.75"/>
<circle cx="564.9" cy="309.4" r="0.45" fill="#fff" stroke="none" stroke-width="0" opacity="0.75"/>
<circle cx="567.7" cy="327.5" r="0.45" fill="#fff" stroke="none" stroke-width="0" opacity="0.75"/>
<circle cx="569.2" cy="308.3" r="0.45" fill="#fff" stroke="none" stroke-width="0" opacity="0.75"/>
<circle cx="565.1" cy="321.5" r="0.45" fill="#fff" stroke="none" stroke-width="0" opacity="0.75"/>
<circle cx="567.4" cy="308.8" r="0.45" fill="#fff" stroke="none" stroke-width="0" opacity="0.75"/>
<circle cx="567.3" cy="306.5" r="0.45" fill="#fff" stroke="none" stroke-width="0" opacity="0.75"/>
<circle cx="566.6" cy="303.3" r="0.45" fill="#fff" stroke="none" stroke-width="0" opacity="0.75"/>
<circle cx="570.1" cy="309.1" r="0.45" fill="#fff" stroke="none" stroke-width="0" opacity="0.75"/>
<circle cx="567.0" cy="311.7" r="0.45" fill="#fff" stroke="none" stroke-width="0" opacity="0.75"/>
<circle cx="569.7" cy="321.6" r="0.45" fill="#fff" stroke="none" stroke-width="0" opacity="0.75"/>
<circle cx="565.1" cy="308.2" r="0.45" fill="#fff" stroke="none" stroke-width="0" opacity="0.75"/>
<circle cx="564.6" cy="324.2" r="0.45" fill="#fff" stroke="none" stroke-width="0" opacity="0.75"/>
<circle cx="565.8" cy="305.2" r="0.45" fill="#fff" stroke="none" stroke-width="0" opacity="0.75"/>
<circle cx="570.2" cy="327.2" r="0.45" fill="#fff" stroke="none" stroke-width="0" opacity="0.75"/>
<circle cx="561.1" cy="315.8" r="0.45" fill="#fff" stroke="none" stroke-width="0" opacity="0.75"/>
<circle cx="572.1" cy="325.3" r="0.45" fill="#fff" stroke="none" stroke-width="0" opacity="0.75"/>
<circle cx="567.0" cy="301.6" r="0.45" fill="#fff" stroke="none" stroke-width="0" opacity="0.75"/>
<circle cx="569.5" cy="308.4" r="0.45" fill="#fff" stroke="none" stroke-width="0" opacity="0.75"/>
<circle cx="570.8" cy="311.7" r="0.45" fill="#fff" stroke="none" stroke-width="0" opacity="0.75"/>
<circle cx="569.4" cy="328.6" r="0.45" fill="#fff" stroke="none" stroke-width="0" opacity="0.75"/>
<circle cx="565.7" cy="313.0" r="0.45" fill="#fff" stroke="none" stroke-width="0" opacity="0.75"/>
<circle cx="565.5" cy="305.8" r="0.45" fill="#fff" stroke="none" stroke-width="0" opacity="0.75"/>
<circle cx="567.1" cy="301.9" r="0.45" fill="#fff" stroke="none" stroke-width="0" opacity="0.75"/>
<circle cx="571.1" cy="306.3" r="0.45" fill="#fff" stroke="none" stroke-width="0" opacity="0.75"/>
<circle cx="562.5" cy="318.3" r="0.45" fill="#fff" stroke="none" stroke-width="0" opacity="0.75"/>
<circle cx="567.1" cy="309.9" r="0.45" fill="#fff" stroke="none" stroke-width="0" opacity="0.75"/>
<circle cx="571.1" cy="327.3" r="0.45" fill="#fff" stroke="none" stroke-width="0" opacity="0.75"/>
<circle cx="572.9" cy="315.3" r="0.45" fill="#fff" stroke="none" stroke-width="0" opacity="0.75"/>
<circle cx="566.6" cy="301.5" r="0.45" fill="#fff" stroke="none" stroke-width="0" opacity="0.75"/>
<circle cx="567.5" cy="301.7" r="0.45" fill="#fff" stroke="none" stroke-width="0" opacity="0.75"/>
<circle cx="563.5" cy="322.4" r="0.45" fill="#fff" stroke="none" stroke-width="0" opacity="0.75"/>
<circle cx="563.7" cy="324.3" r="0.45" fill="#fff" stroke="none" stroke-width="0" opacity="0.75"/>
<circle cx="567.8" cy="314.8" r="0.45" fill="#fff" stroke="none" stroke-width="0" opacity="0.75"/>
<circle cx="566.8" cy="305.5" r="0.45" fill="#fff" stroke="none" stroke-width="0" opacity="0.75"/>
<circle cx="562.2" cy="311.7" r="0.45" fill="#fff" stroke="none" stroke-width="0" opacity="0.75"/>
<circle cx="560.9" cy="316.1" r="0.45" fill="#fff" stroke="none" stroke-width="0" opacity="0.75"/>
<circle cx="573.2" cy="318.7" r="0.45" fill="#fff" stroke="none" stroke-width="0" opacity="0.75"/>
<circle cx="570.1" cy="314.6" r="0.45" fill="#fff" stroke="none" stroke-width="0" opacity="0.75"/>
<circle cx="565.2" cy="327.9" r="0.45" fill="#fff" stroke="none" stroke-width="0" opacity="0.75"/>
<circle cx="567.7" cy="320.6" r="0.45" fill="#fff" stroke="none" stroke-width="0" opacity="0.75"/>
<circle cx="569.6" cy="306.5" r="0.45" fill="#fff" stroke="none" stroke-width="0" opacity="0.75"/>
<circle cx="562.9" cy="314.5" r="0.45" fill="#fff" stroke="none" stroke-width="0" opacity="0.75"/>
<circle cx="566.8" cy="306.3" r="0.45" fill="#fff" stroke="none" stroke-width="0" opacity="0.75"/>
<circle cx="568.1" cy="321.4" r="0.45" fill="#fff" stroke="none" stroke-width="0" opacity="0.75"/>
<circle cx="570.3" cy="302.6" r="0.45" fill="#fff" stroke="none" stroke-width="0" opacity="0.75"/>
<circle cx="569.2" cy="311.5" r="0.45" fill="#fff" stroke="none" stroke-width="0" opacity="0.75"/>
<circle cx="571.1" cy="305.3" r="0.45" fill="#fff" stroke="none" stroke-width="0" opacity="0.75"/>
<circle cx="566.4" cy="302.7" r="0.45" fill="#fff" stroke="none" stroke-width="0" opacity="0.75"/>
<circle cx="565.5" cy="318.3" r="0.45" fill="#fff" stroke="none" stroke-width="0" opacity="0.75"/>
<circle cx="572.7" cy="325.3" r="0.45" fill="#fff" stroke="none" stroke-width="0" opacity="0.75"/>
<circle cx="570.6" cy="326.9" r="0.45" fill="#fff" stroke="none" stroke-width="0" opacity="0.75"/>
<circle cx="566.9" cy="305.7" r="0.45" fill="#fff" stroke="none" stroke-width="0" opacity="0.75"/>
<circle cx="567.7" cy="303.2" r="0.45" fill="#fff" stroke="none" stroke-width="0" opacity="0.75"/>
<circle cx="572.3" cy="308.4" r="0.45" fill="#fff" stroke="none" stroke-width="0" opacity="0.75"/>
<circle cx="569.5" cy="321.5" r="0.45" fill="#fff" stroke="none" stroke-width="0" opacity="0.75"/>
<circle cx="562.1" cy="318.4" r="0.45" fill="#fff" stroke="none" stroke-width="0" opacity="0.75"/>
<circle cx="569.2" cy="311.4" r="0.45" fill="#fff" stroke="none" stroke-width="0" opacity="0.75"/>
<circle cx="568.3" cy="308.7" r="0.45" fill="#fff" stroke="none" stroke-width="0" opacity="0.75"/>
<circle cx="570.3" cy="309.4" r="0.45" fill="#fff" stroke="none" stroke-width="0" opacity="0.75"/>
<circle cx="562.9" cy="321.1" r="0.45" fill="#fff" stroke="none" stroke-width="0" opacity="0.75"/>
<path d="M532.2,261.4 L532.2,255.0 L568.5,255.0 L568.5,261.4" fill="none" stroke="#111" stroke-width="1.0" />
<text x="550.4" y="250.1" font-size="6.5" text-anchor="middle" fill="#333" >&lt;0.0001</text>
<line x1="532.2" y1="356.6" x2="532.2" y2="359.1" stroke="#333" stroke-width="0.8" />
<text x="532.2" y="368.3" font-size="6.4" text-anchor="middle" fill="#333" >Young</text>
<line x1="568.5" y1="356.6" x2="568.5" y2="359.1" stroke="#333" stroke-width="0.8" />
<text x="568.5" y="368.3" font-size="6.4" text-anchor="middle" fill="#333" >Old</text>
<line x1="625.3" y1="228.6" x2="625.3" y2="356.3" stroke="#999" stroke-width="0.9" />
<line x1="624.9" y1="356.3" x2="705.0" y2="356.3" stroke="#333" stroke-width="0.9" />
<line x1="622.1" y1="356.3" x2="625.3" y2="356.3" stroke="#999" stroke-width="0.9" />
<text x="620.9" y="358.1" font-size="5.1" text-anchor="end" fill="#222" >0</text>
<line x1="622.1" y1="313.7" x2="625.3" y2="313.7" stroke="#999" stroke-width="0.9" />
<text x="620.9" y="315.5" font-size="5.1" text-anchor="end" fill="#222" >0.5</text>
<line x1="622.1" y1="271.2" x2="625.3" y2="271.2" stroke="#999" stroke-width="0.9" />
<text x="620.9" y="273.0" font-size="5.1" text-anchor="end" fill="#222" >1.0</text>
<line x1="622.1" y1="228.6" x2="625.3" y2="228.6" stroke="#999" stroke-width="0.9" />
<text x="620.9" y="230.4" font-size="5.1" text-anchor="end" fill="#222" >1.5</text>
<text x="605.8" y="292.6" font-size="6.0" text-anchor="middle" fill="#222" transform="rotate(-90 605.8 292.6)" >Glucose (mg ml<tspan dy="-2" font-size="4">−1</tspan><tspan dy="2">)</tspan></text>
<line x1="637.8" y1="306.9" x2="654.2" y2="287.3" stroke="#1e5288" stroke-width="1.1" />
<line x1="637.8" y1="309.5" x2="654.2" y2="289.0" stroke="#1e5288" stroke-width="1.1" />
<line x1="637.8" y1="315.4" x2="654.2" y2="291.6" stroke="#1e5288" stroke-width="1.1" />
<line x1="637.8" y1="324.8" x2="654.2" y2="314.6" stroke="#1e5288" stroke-width="1.1" />
<line x1="637.8" y1="333.3" x2="654.2" y2="324.8" stroke="#1e5288" stroke-width="1.1" />
<line x1="637.8" y1="341.0" x2="654.2" y2="325.7" stroke="#1e5288" stroke-width="1.1" />
<line x1="637.8" y1="347.8" x2="654.2" y2="337.6" stroke="#1e5288" stroke-width="1.1" />
<line x1="637.8" y1="352.0" x2="654.2" y2="339.3" stroke="#1e5288" stroke-width="1.1" />
<line x1="637.8" y1="353.7" x2="654.2" y2="346.1" stroke="#1e5288" stroke-width="1.1" />
<line x1="637.8" y1="355.4" x2="654.2" y2="348.6" stroke="#1e5288" stroke-width="1.1" />
<circle cx="637.8" cy="306.9" r="1.9" fill="#96c6e6" />
<circle cx="654.2" cy="287.3" r="1.9" fill="#ec745a" />
<circle cx="637.8" cy="309.5" r="1.9" fill="#96c6e6" />
<circle cx="654.2" cy="289.0" r="1.9" fill="#ec745a" />
<circle cx="637.8" cy="315.4" r="1.9" fill="#96c6e6" />
<circle cx="654.2" cy="291.6" r="1.9" fill="#ec745a" />
<circle cx="637.8" cy="324.8" r="1.9" fill="#96c6e6" />
<circle cx="654.2" cy="314.6" r="1.9" fill="#ec745a" />
<circle cx="637.8" cy="333.3" r="1.9" fill="#96c6e6" />
<circle cx="654.2" cy="324.8" r="1.9" fill="#ec745a" />
<circle cx="637.8" cy="341.0" r="1.9" fill="#96c6e6" />
<circle cx="654.2" cy="325.7" r="1.9" fill="#ec745a" />
<circle cx="637.8" cy="347.8" r="1.9" fill="#96c6e6" />
<circle cx="654.2" cy="337.6" r="1.9" fill="#ec745a" />
<circle cx="637.8" cy="352.0" r="1.9" fill="#96c6e6" />
<circle cx="654.2" cy="339.3" r="1.9" fill="#ec745a" />
<circle cx="637.8" cy="353.7" r="1.9" fill="#96c6e6" />
<circle cx="654.2" cy="346.1" r="1.9" fill="#ec745a" />
<circle cx="637.8" cy="355.4" r="1.9" fill="#96c6e6" />
<circle cx="654.2" cy="348.6" r="1.9" fill="#ec745a" />
<line x1="680.8" y1="296.7" x2="697.6" y2="294.2" stroke="#1e5288" stroke-width="1.1" />
<line x1="680.8" y1="303.5" x2="697.6" y2="295.9" stroke="#1e5288" stroke-width="1.1" />
<line x1="680.8" y1="321.4" x2="697.6" y2="296.7" stroke="#1e5288" stroke-width="1.1" />
<line x1="680.8" y1="328.2" x2="697.6" y2="326.5" stroke="#1e5288" stroke-width="1.1" />
<line x1="680.8" y1="335.0" x2="697.6" y2="333.3" stroke="#1e5288" stroke-width="1.1" />
<line x1="680.8" y1="337.6" x2="697.6" y2="335.9" stroke="#1e5288" stroke-width="1.1" />
<line x1="680.8" y1="339.3" x2="697.6" y2="337.6" stroke="#1e5288" stroke-width="1.1" />
<line x1="680.8" y1="341.8" x2="697.6" y2="339.3" stroke="#1e5288" stroke-width="1.1" />
<line x1="680.8" y1="345.2" x2="697.6" y2="340.1" stroke="#1e5288" stroke-width="1.1" />
<line x1="680.8" y1="348.6" x2="697.6" y2="341.8" stroke="#1e5288" stroke-width="1.1" />
<line x1="680.8" y1="352.0" x2="697.6" y2="345.2" stroke="#1e5288" stroke-width="1.1" />
<circle cx="680.8" cy="296.7" r="1.9" fill="#96c6e6" />
<circle cx="697.6" cy="294.2" r="1.9" fill="#ec745a" />
<circle cx="680.8" cy="303.5" r="1.9" fill="#96c6e6" />
<circle cx="697.6" cy="295.9" r="1.9" fill="#ec745a" />
<circle cx="680.8" cy="321.4" r="1.9" fill="#96c6e6" />
<circle cx="697.6" cy="296.7" r="1.9" fill="#ec745a" />
<circle cx="680.8" cy="328.2" r="1.9" fill="#96c6e6" />
<circle cx="697.6" cy="326.5" r="1.9" fill="#ec745a" />
<circle cx="680.8" cy="335.0" r="1.9" fill="#96c6e6" />
<circle cx="697.6" cy="333.3" r="1.9" fill="#ec745a" />
<circle cx="680.8" cy="337.6" r="1.9" fill="#96c6e6" />
<circle cx="697.6" cy="335.9" r="1.9" fill="#ec745a" />
<circle cx="680.8" cy="339.3" r="1.9" fill="#96c6e6" />
<circle cx="697.6" cy="337.6" r="1.9" fill="#ec745a" />
<circle cx="680.8" cy="341.8" r="1.9" fill="#96c6e6" />
<circle cx="697.6" cy="339.3" r="1.9" fill="#ec745a" />
<circle cx="680.8" cy="345.2" r="1.9" fill="#96c6e6" />
<circle cx="697.6" cy="340.1" r="1.9" fill="#ec745a" />
<circle cx="680.8" cy="348.6" r="1.9" fill="#96c6e6" />
<circle cx="697.6" cy="341.8" r="1.9" fill="#ec745a" />
<circle cx="680.8" cy="352.0" r="1.9" fill="#96c6e6" />
<circle cx="697.6" cy="345.2" r="1.9" fill="#ec745a" />
<path d="M637.8,279.9 L637.8,273.0 L654.2,273.0 L654.2,279.9" fill="none" stroke="#111" stroke-width="1.0" />
<text x="646.0" y="269.4" font-size="6.5" text-anchor="middle" fill="#333" >&lt;0.0001</text>
<path d="M680.9,279.9 L680.9,273.0 L697.6,273.0 L697.6,279.9" fill="none" stroke="#111" stroke-width="1.0" />
<text x="689.2" y="269.4" font-size="6.5" text-anchor="middle" fill="#333" >0.0078</text>
<line x1="630.4" y1="231.0" x2="645.8" y2="231.0" stroke="#1e5288" stroke-width="1.1" />
<circle cx="638.1" cy="231.0" r="1.9" fill="#96c6e6" />
<text x="649.3" y="233.2" font-size="6.3" text-anchor="start" fill="#333" >Basal</text>
<line x1="630.4" y1="240.3" x2="645.8" y2="240.3" stroke="#1e5288" stroke-width="1.1" />
<circle cx="638.1" cy="240.3" r="1.9" fill="#ec745a" />
<text x="649.3" y="242.5" font-size="6.3" text-anchor="start" fill="#333" >Insulin</text>
<line x1="645.6" y1="356.3" x2="645.6" y2="358.8" stroke="#333" stroke-width="0.8" />
<text x="645.6" y="368.0" font-size="6.4" text-anchor="middle" fill="#333" >Young</text>
<line x1="689.2" y1="356.3" x2="689.2" y2="358.8" stroke="#333" stroke-width="0.8" />
<text x="689.2" y="368.0" font-size="6.4" text-anchor="middle" fill="#333" >Old</text>
<rect x="1.5" y="394.5" width="103.2" height="24.0" fill="#ececec" />
<rect x="1.5" y="394.5" width="103.2" height="251.5" fill="none" stroke="#808080" stroke-width="1" />
<text x="52.7" y="410.1" font-size="9.97" text-anchor="middle" fill="#222" >2D culture on dish</text>
<rect x="119.0" y="394.5" width="120.7" height="24.0" fill="#ececec" />
<rect x="119.0" y="394.5" width="120.7" height="251.5" fill="none" stroke="#808080" stroke-width="1" />
<text x="179.0" y="410.0" font-size="9.75" text-anchor="middle" fill="#222" >3D culture in MPS</text>
<rect x="253.2" y="394.5" width="121.6" height="24.0" fill="#ececec" />
<rect x="253.2" y="394.5" width="121.6" height="251.5" fill="none" stroke="#808080" stroke-width="1" />
<text x="314.0" y="410.0" font-size="9.66" text-anchor="middle" fill="#222" >YCM vs OCM perfusion</text>
<rect x="389.3" y="394.5" width="318.2" height="24.0" fill="#ececec" />
<rect x="389.3" y="394.5" width="318.2" height="251.5" fill="none" stroke="#808080" stroke-width="1" />
<text x="549.7" y="410.1" font-size="9.93" text-anchor="middle" fill="#222" >Assays for genotype and phenotype</text>
<linearGradient id="fa1" x1="0" x2="0" y1="441.0" y2="458.0" gradientUnits="userSpaceOnUse"><stop offset="0" stop-color="#fdf8cc"/><stop offset="1" stop-color="#fde9cf"/></linearGradient>
<path d="M22.700000000000003,458 L82.7,458 L82.7,455.5 L55.7,441 L49.7,441 L22.700000000000003,455.5Z" fill="url(#fa1)" opacity="1.0"/>
<linearGradient id="fa2" x1="0" x2="0" y1="474.5" y2="492.0" gradientUnits="userSpaceOnUse"><stop offset="0" stop-color="#fde8d2"/><stop offset="1" stop-color="#f5e2ea"/></linearGradient>
<path d="M22.700000000000003,492 L82.7,492 L82.7,489.5 L55.7,474.5 L49.7,474.5 L22.700000000000003,489.5Z" fill="url(#fa2)" opacity="1.0"/>
<linearGradient id="fa3" x1="0" x2="0" y1="508.0" y2="527.0" gradientUnits="userSpaceOnUse"><stop offset="0" stop-color="#f3dfe8"/><stop offset="1" stop-color="#e2e2e2"/></linearGradient>
<path d="M18.700000000000003,527 L86.7,527 L86.7,524.5 L55.7,508 L49.7,508 L18.700000000000003,524.5Z" fill="url(#fa3)" opacity="1.0"/>
<linearGradient id="fa4" x1="0" x2="0" y1="545.5" y2="558.5" gradientUnits="userSpaceOnUse"><stop offset="0" stop-color="#c9dcdc"/><stop offset="1" stop-color="#9bd3d4"/></linearGradient>
<path d="M28.700000000000003,545.5 L76.7,545.5 L76.7,548.0 L55.7,558.5 L49.7,558.5 L28.700000000000003,548.0Z" fill="url(#fa4)" opacity="1.0"/>
<linearGradient id="fa5" x1="0" x2="0" y1="573.0" y2="592.0" gradientUnits="userSpaceOnUse"><stop offset="0" stop-color="#95d0d1"/><stop offset="1" stop-color="#8fa6d8"/></linearGradient>
<path d="M20.700000000000003,573 L84.7,573 L84.7,575.5 L55.7,592 L49.7,592 L20.700000000000003,575.5Z" fill="url(#fa5)" opacity="1.0"/>
<linearGradient id="fa6" x1="0" x2="0" y1="607.0" y2="626.0" gradientUnits="userSpaceOnUse"><stop offset="0" stop-color="#8fa3d8"/><stop offset="1" stop-color="#b49fdc"/></linearGradient>
<path d="M19.700000000000003,607 L85.7,607 L85.7,609.5 L55.7,626 L49.7,626 L19.700000000000003,609.5Z" fill="url(#fa6)" opacity="1.0"/>
<rect x="18.0" y="423.0" width="69.5" height="16.6" fill="#fbf08c" rx="3.5" />
<text x="52.8" y="434.0" font-size="7.7" text-anchor="middle" fill="#1a1a1a" >Pre-adipocytes</text>
<rect x="18.0" y="456.7" width="69.5" height="16.3" fill="#fbd6ae" rx="3.5" />
<text x="52.8" y="467.5" font-size="7.7" text-anchor="middle" fill="#1a1a1a" >Mesenchymal</text>
<rect x="18.0" y="491.0" width="69.5" height="15.8" fill="#eac6d7" rx="3.5" />
<text x="52.8" y="501.6" font-size="7.7" text-anchor="middle" fill="#1a1a1a" >Mesodermal</text>
<rect x="13.2" y="525.0" width="79.6" height="15.3" fill="#c9c9c9" rx="3.5" />
<text x="53.0" y="535.3" font-size="7.7" text-anchor="middle" fill="#1a1a1a" >hiPSC</text>
<rect x="18.0" y="558.7" width="69.5" height="15.8" fill="#8fcfd0" rx="3.5" />
<text x="52.8" y="569.3" font-size="7.62" text-anchor="middle" fill="#1a1a1a" >Definitive endoderm</text>
<rect x="18.0" y="592.2" width="69.5" height="16.1" fill="#8a9fd7" rx="3.5" />
<text x="52.8" y="602.9" font-size="7.7" text-anchor="middle" fill="#1a1a1a" >Hepatoblast</text>
<rect x="18.0" y="626.0" width="69.5" height="15.8" fill="#b79bdb" rx="3.5" />
<text x="52.8" y="636.6" font-size="7.7" text-anchor="middle" fill="#1a1a1a" >Hepatocytes</text>
<text x="52.7" y="454.6" font-size="5.9" text-anchor="middle" fill="#222" >Induction 4 days</text>
<text x="52.7" y="483.6" font-size="5.9" text-anchor="middle" fill="#222" >Differentiation and</text>
<text x="52.7" y="489.6" font-size="5.9" text-anchor="middle" fill="#222" >expansion 6–10 passages</text>
<text x="52.7" y="521.8" font-size="5.9" text-anchor="middle" fill="#222" >Mesodermal induction 4 days</text>
<text x="52.7" y="547.1" font-size="5.9" text-anchor="middle" fill="#222" >Endodermal induction 7 days</text>
<text x="52.7" y="581.1" font-size="5.9" text-anchor="middle" fill="#222" >Hepatic induction 10 days</text>
<text x="52.7" y="614.9" font-size="5.9" text-anchor="middle" fill="#222" >Maturation 4 days</text>
<text x="181.7" y="429.1" font-size="5.92" text-anchor="middle" fill="#222" >Culture medium perfusion</text>
<text x="181.7" y="434.9" font-size="5.92" text-anchor="middle" fill="#222" >through media channel</text>
<path d="M165.7,458.3 L225.2,476.2 L193.4,542.2 L130.4,519.7Z" fill="#e4e4e4" stroke="#cfcfcf" stroke-width="0.5" />
<path d="M130.4,519.7 L193.4,542.2 L193.4,546.2 L130.4,523.7Z" fill="#d0d0d0" />
<path d="M193.4,542.2 L225.2,476.2 L225.2,480.2 L193.4,546.2Z" fill="#c6c6c6" />
<path d="M167.3,463.3 L219.5,479 L191.2,536.8 L136.3,517.5Z" fill="#f1f1f1" stroke="#dadada" stroke-width="0.5" />
<path d="M167.7,486.3 L176.3,488.9" fill="none" stroke="#4a4a4a" stroke-width="0.55" />
<path d="M163.0,494.8 L171.6,497.4" fill="none" stroke="#4a4a4a" stroke-width="0.55" />
<path d="M176.3,488.9 L173.8,493.2" fill="none" stroke="#4a4a4a" stroke-width="0.55" />
<path d="M171.6,497.4 L173.9,493.5" fill="none" stroke="#4a4a4a" stroke-width="0.55" />
<path d="M173.8,493.2 L177.7,494.4" fill="none" stroke="#4a4a4a" stroke-width="0.55" />
<path d="M173.9,493.5 L177.7,494.6" fill="none" stroke="#4a4a4a" stroke-width="0.55" />
<path d="M157.6,503.4 L166.2,506.0" fill="none" stroke="#4a4a4a" stroke-width="0.55" />
<path d="M152.2,512.4 L160.8,515.0" fill="none" stroke="#4a4a4a" stroke-width="0.55" />
<path d="M166.2,506.0 L163.7,510.3" fill="none" stroke="#4a4a4a" stroke-width="0.55" />
<path d="M160.8,515.0 L163.1,511.1" fill="none" stroke="#4a4a4a" stroke-width="0.55" />
<path d="M163.7,510.3 L167.6,511.5" fill="none" stroke="#4a4a4a" stroke-width="0.55" />
<path d="M163.1,511.1 L166.9,512.2" fill="none" stroke="#4a4a4a" stroke-width="0.55" />
<path d="M201.9,496.8 L193.3,494.2" fill="none" stroke="#4a4a4a" stroke-width="0.55" />
<path d="M196.8,505.7 L188.2,503.1" fill="none" stroke="#4a4a4a" stroke-width="0.55" />
<path d="M193.3,494.2 L191.0,498.1" fill="none" stroke="#4a4a4a" stroke-width="0.55" />
<path d="M188.2,503.1 L190.7,498.8" fill="none" stroke="#4a4a4a" stroke-width="0.55" />
<path d="M191.0,498.1 L187.2,497.0" fill="none" stroke="#4a4a4a" stroke-width="0.55" />
<path d="M190.7,498.8 L186.8,497.6" fill="none" stroke="#4a4a4a" stroke-width="0.55" />
<path d="M191.5,514.6 L182.9,512.0" fill="none" stroke="#4a4a4a" stroke-width="0.55" />
<path d="M186.4,523.6 L177.8,521.0" fill="none" stroke="#4a4a4a" stroke-width="0.55" />
<path d="M182.9,512.0 L180.6,515.9" fill="none" stroke="#4a4a4a" stroke-width="0.55" />
<path d="M177.8,521.0 L180.3,516.7" fill="none" stroke="#4a4a4a" stroke-width="0.55" />
<path d="M180.6,515.9 L176.8,514.8" fill="none" stroke="#4a4a4a" stroke-width="0.55" />
<path d="M180.3,516.7 L176.4,515.5" fill="none" stroke="#4a4a4a" stroke-width="0.55" />
<path d="M180.5,494.5 L170.0,512.7" fill="none" stroke="#4a4a4a" stroke-width="0.55" />
<path d="M183.0,495.3 L171.0,516.1" fill="none" stroke="#4a4a4a" stroke-width="0.55" />
<path d="M185.5,498.0 L175.5,515.3" fill="none" stroke="#4a4a4a" stroke-width="0.55" />
<path d="M188.0,499.5 L179.5,514.2" fill="none" stroke="#4a4a4a" stroke-width="0.55" />
<circle cx="167.7" cy="486.3" r="4.0" fill="#b9b19c" stroke="#a39b86" stroke-width="0.4" />
<circle cx="163.0" cy="494.8" r="4.0" fill="#b9b19c" stroke="#a39b86" stroke-width="0.4" />
<circle cx="157.6" cy="503.4" r="4.0" fill="#b9b19c" stroke="#a39b86" stroke-width="0.4" />
<circle cx="152.2" cy="512.4" r="4.0" fill="#b9b19c" stroke="#a39b86" stroke-width="0.4" />
<circle cx="201.9" cy="496.8" r="4.0" fill="#b9b19c" stroke="#a39b86" stroke-width="0.4" />
<circle cx="196.8" cy="505.7" r="4.0" fill="#b9b19c" stroke="#a39b86" stroke-width="0.4" />
<circle cx="191.5" cy="514.6" r="4.0" fill="#b9b19c" stroke="#a39b86" stroke-width="0.4" />
<circle cx="186.4" cy="523.6" r="4.0" fill="#b9b19c" stroke="#a39b86" stroke-width="0.4" />
<g transform="translate(177,454.4) rotate(-19)" fill="#fafafa" stroke="#5a5a5a" stroke-width="0.7">
<line x1="-5" y1="0" x2="0" y2="0"/><rect x="0" y="-2.3" width="17" height="4.6" rx="0.8"/><rect x="17" y="-4" width="1.8" height="8" rx="0.8"/><rect x="18.8" y="-0.9" width="7.5" height="1.8"/><rect x="26.3" y="-3.6" width="2" height="7.2" rx="0.9"/><rect x="3" y="-1.6" width="6" height="3.2" fill="#ddd" stroke="none"/>
</g>
<path d="M172.40,454.40 L172.40,474.00" fill="none" stroke="#9a2233" stroke-width="1.5" stroke-linejoin="miter"/>
<path d="M172.40,476.70 L174.80,471.00 L170.00,471.00Z" fill="#9a2233" />
<path d="M207.00,488.60 L207.00,470.00" fill="none" stroke="#9a2233" stroke-width="1.5" stroke-linejoin="miter"/>
<path d="M207.00,467.30 L204.60,473.00 L209.40,473.00Z" fill="#9a2233" />
<line x1="172.4" y1="477.0" x2="168.5" y2="484.0" stroke="#c8323c" stroke-width="0.5" />
<line x1="207.0" y1="488.6" x2="203.0" y2="494.5" stroke="#c8323c" stroke-width="0.5" />
<path d="M179.4,549 L179,526 C179,517 176.5,514 173,514.6 C169,515.3 167,519 166.6,522.8" fill="none" stroke="#e8623a" stroke-width="1.4" />
<circle cx="166.6" cy="523.0" r="1.2" fill="#d6432d" />
<rect x="143.5" y="549.5" width="68.0" height="22.9" fill="#fff" stroke="#777" stroke-width="0.8" rx="3" stroke-dasharray="1.1,1.1"/>
<text x="177.5" y="559.0" font-size="5.72" text-anchor="middle" fill="#222" >Pre-adipocytes or</text>
<text x="177.5" y="565.3" font-size="5.72" text-anchor="middle" fill="#222" >Hepatocytes loading</text>
<path d="M166,572.5 L162,584 M170,572.5 L166,584 M186,572.5 L191,584 M190,572.5 L195,584" fill="none" stroke="#999" stroke-width="0.5" stroke-dasharray="1,1"/>
<rect x="131.6" y="584.3" width="43.0" height="41.1" fill="#fff" stroke="#777" stroke-width="0.8" rx="3" stroke-dasharray="1.1,1.1"/>
<rect x="181.2" y="584.3" width="44.0" height="41.1" fill="#fff" stroke="#777" stroke-width="0.8" rx="3" stroke-dasharray="1.1,1.1"/>
<circle cx="154.0" cy="596.0" r="6" fill="#f1d248" stroke="#b8941f" stroke-width="0.6" />
<circle cx="153.1" cy="594.5" r="3.0" fill="#f8e47e" />
<circle cx="143.0" cy="600.0" r="6" fill="#f1d248" stroke="#b8941f" stroke-width="0.6" />
<circle cx="142.1" cy="598.5" r="3.0" fill="#f8e47e" />
<circle cx="164.0" cy="602.0" r="6" fill="#f1d248" stroke="#b8941f" stroke-width="0.6" />
<circle cx="163.1" cy="600.5" r="3.0" fill="#f8e47e" />
<circle cx="153.5" cy="607.0" r="6" fill="#f1d248" stroke="#b8941f" stroke-width="0.6" />
<circle cx="152.6" cy="605.5" r="3.0" fill="#f8e47e" />
<circle cx="141.5" cy="610.5" r="6" fill="#f1d248" stroke="#b8941f" stroke-width="0.6" />
<circle cx="140.6" cy="609.0" r="3.0" fill="#f8e47e" />
<circle cx="162.5" cy="613.0" r="6" fill="#f1d248" stroke="#b8941f" stroke-width="0.6" />
<circle cx="161.6" cy="611.5" r="3.0" fill="#f8e47e" />
<circle cx="150.0" cy="616.0" r="6" fill="#f1d248" stroke="#b8941f" stroke-width="0.6" />
<circle cx="149.1" cy="614.5" r="3.0" fill="#f8e47e" />
<path d="M194.00,589.70 L199.46,592.85 L199.46,599.15 L194.00,602.30 L188.54,599.15 L188.54,592.85Z" fill="#f1dce8" stroke="#8a6a80" stroke-width="0.5" />
<ellipse cx="194.00" cy="596.50" rx="3.15" ry="2.02" fill="#5b4a5a" transform="rotate(-15 194.00 596.00)"/>
<circle cx="195.3" cy="595.4" r="1.008" fill="#e8d8e2" />
<path d="M207.00,589.70 L212.46,592.85 L212.46,599.15 L207.00,602.30 L201.54,599.15 L201.54,592.85Z" fill="#f1dce8" stroke="#8a6a80" stroke-width="0.5" />
<ellipse cx="207.00" cy="596.50" rx="3.15" ry="2.02" fill="#5b4a5a" transform="rotate(-15 207.00 596.00)"/>
<circle cx="208.3" cy="595.4" r="1.008" fill="#e8d8e2" />
<path d="M187.50,600.20 L192.96,603.35 L192.96,609.65 L187.50,612.80 L182.04,609.65 L182.04,603.35Z" fill="#f1dce8" stroke="#8a6a80" stroke-width="0.5" />
<ellipse cx="187.50" cy="607.00" rx="3.15" ry="2.02" fill="#5b4a5a" transform="rotate(-15 187.50 606.50)"/>
<circle cx="188.8" cy="605.9" r="1.008" fill="#e8d8e2" />
<path d="M200.50,600.20 L205.96,603.35 L205.96,609.65 L200.50,612.80 L195.04,609.65 L195.04,603.35Z" fill="#f1dce8" stroke="#8a6a80" stroke-width="0.5" />
<ellipse cx="200.50" cy="607.00" rx="3.15" ry="2.02" fill="#5b4a5a" transform="rotate(-15 200.50 606.50)"/>
<circle cx="201.8" cy="605.9" r="1.008" fill="#e8d8e2" />
<path d="M213.50,600.20 L218.96,603.35 L218.96,609.65 L213.50,612.80 L208.04,609.65 L208.04,603.35Z" fill="#f1dce8" stroke="#8a6a80" stroke-width="0.5" />
<ellipse cx="213.50" cy="607.00" rx="3.15" ry="2.02" fill="#5b4a5a" transform="rotate(-15 213.50 606.50)"/>
<circle cx="214.8" cy="605.9" r="1.008" fill="#e8d8e2" />
<text x="152.0" y="633.8" font-size="5.81" text-anchor="middle" fill="#222" >Day4 pre-adipocytes</text>
<text x="152.0" y="640.0" font-size="5.81" text-anchor="middle" fill="#222" >then 10 days diff.</text>
<text x="205.5" y="633.8" font-size="5.81" text-anchor="middle" fill="#222" >Day22 hepatocytes</text>
<text x="205.5" y="640.0" font-size="5.81" text-anchor="middle" fill="#222" >then 1 day culture</text>
<rect x="234.5" y="504.7" width="25.5" height="68.0" fill="#fff" stroke="#777" stroke-width="0.8" rx="3" stroke-dasharray="1.1,1.1"/>
<g transform="translate(243.9,513.7) rotate(33)">
<rect x="-1.5" y="-8.3" width="3.0" height="16.6" fill="#f6efd8" stroke="#b8922a" stroke-width="0.6" rx="1.4" />
<rect x="-0.9" y="-3.5" width="1.8" height="11.0" fill="#f3d98a" stroke="none" stroke-width="0" rx="0.9" />
<rect x="-1.7" y="-8.6" width="3.4" height="4.6" fill="#7d7d7d" stroke="none" stroke-width="0" rx="0.6" />
</g>
<text x="245.4" y="520.1" font-size="5.2" text-anchor="start" fill="#333a55" >YCM</text>
<g transform="translate(243.9,560.9) rotate(33)">
<rect x="-1.5" y="-8.3" width="3.0" height="16.6" fill="#f6efd8" stroke="#c4622a" stroke-width="0.6" rx="1.4" />
<rect x="-0.9" y="-3.5" width="1.8" height="11.0" fill="#f1b37a" stroke="none" stroke-width="0" rx="0.9" />
<rect x="-1.7" y="-8.6" width="3.4" height="4.6" fill="#6d2a78" stroke="none" stroke-width="0" rx="0.6" />
</g>
<text x="245.4" y="567.2" font-size="5.2" text-anchor="start" fill="#c0392b" >OCM</text>
<linearGradient id="ga97" x1="97" x2="131" y1="0" y2="0" gradientUnits="userSpaceOnUse"><stop offset="0" stop-color="#eeeeee" stop-opacity="0.15"/><stop offset="0.55" stop-color="#d8d8d8"/><stop offset="1" stop-color="#cdcdcd"/></linearGradient>
<path d="M97,542.0 L115.5,532.0 L114,528.3000000000001 L131,534.6 L114.7,540.9 L115.8,537.4 L98,546.0Z" fill="url(#ga97)" />
<linearGradient id="ga236" x1="236.5" x2="263.6" y1="0" y2="0" gradientUnits="userSpaceOnUse"><stop offset="0" stop-color="#eeeeee" stop-opacity="0.15"/><stop offset="0.55" stop-color="#d8d8d8"/><stop offset="1" stop-color="#cdcdcd"/></linearGradient>
<path d="M236.5,544.5 L249.60000000000002,534.8 L248.10000000000002,531.1 L263.6,537.4 L248.8,543.6999999999999 L249.90000000000003,540.1999999999999 L237.5,548.5Z" fill="url(#ga236)" />
<linearGradient id="ga376" x1="376" x2="402.3" y1="0" y2="0" gradientUnits="userSpaceOnUse"><stop offset="0" stop-color="#eeeeee" stop-opacity="0.15"/><stop offset="0.55" stop-color="#d8d8d8"/><stop offset="1" stop-color="#cdcdcd"/></linearGradient>
<path d="M376,544.5 L388.3,534.6999999999999 L386.8,531.0 L402.3,537.3 L387.5,543.5999999999999 L388.6,540.0999999999999 L377,548.5Z" fill="url(#ga376)" />
<rect x="262.0" y="444.0" width="104.6" height="60.0" fill="#d2d2d2" rx="1.5" />
<rect x="262.0" y="459.0" width="104.6" height="13.5" fill="#fbdbe2" />
<rect x="283.5" y="472.3" width="60.1" height="18.7" fill="#fbdbe2" />
<text x="314.0" y="454.0" font-size="7.41" text-anchor="middle" fill="#222" >Media channel</text>
<text x="314.0" y="468.1" font-size="7.67" text-anchor="middle" fill="#c8323c" >Circulatory milieu</text>
<text x="314.0" y="500.0" font-size="7.6" text-anchor="middle" fill="#222" >Cell chamber</text>
<path d="M264.50,466.05 L273.00,466.05" fill="none" stroke="#9a2233" stroke-width="1.2" stroke-linejoin="miter"/>
<path d="M274.98,466.05 L270.80,464.29 L270.80,467.81Z" fill="#9a2233" />
<path d="M351.00,466.05 L359.50,466.05" fill="none" stroke="#9a2233" stroke-width="1.2" stroke-linejoin="miter"/>
<path d="M361.48,466.05 L357.30,464.29 L357.30,467.81Z" fill="#9a2233" />
<path d="M293.6,489.7 L294.6,489.7 L294.1,488.8Z" fill="#c8323c" />
<path d="M328.1,463.5 L329.1,463.5 L328.6,462.6Z" fill="#c8323c" />
<path d="M343.1,463.4 L344.1,463.4 L343.6,462.5Z" fill="#c8323c" />
<path d="M306.1,489.9 L307.1,489.9 L306.6,489.0Z" fill="#c8323c" />
<path d="M332.4,482.4 L333.4,482.4 L332.9,481.5Z" fill="#c8323c" />
<path d="M309.3,466.3 L310.3,466.3 L309.8,465.4Z" fill="#c8323c" />
<path d="M322.3,463.6 L323.3,463.6 L322.8,462.7Z" fill="#c8323c" />
<path d="M294.7,472.1 L295.7,472.1 L295.2,471.2Z" fill="#c8323c" />
<path d="M283.7,472.4 L284.7,472.4 L284.2,471.5Z" fill="#c8323c" />
<path d="M332.1,481.2 L333.1,481.2 L332.6,480.3Z" fill="#c8323c" />
<path d="M313.5,479.4 L314.5,479.4 L314.0,478.5Z" fill="#c8323c" />
<path d="M311.1,464.7 L312.1,464.7 L311.6,463.8Z" fill="#c8323c" />
<path d="M320.1,472.5 L321.1,472.5 L320.6,471.6Z" fill="#c8323c" />
<path d="M328.9,487.6 L329.9,487.6 L329.4,486.7Z" fill="#c8323c" />
<path d="M309.0,477.6 L310.0,477.6 L309.5,476.7Z" fill="#c8323c" />
<path d="M329.4,473.0 L330.4,473.0 L329.9,472.1Z" fill="#c8323c" />
<path d="M296.1,482.1 L297.1,482.1 L296.6,481.2Z" fill="#c8323c" />
<path d="M337.8,483.6 L338.8,483.6 L338.3,482.7Z" fill="#c8323c" />
<path d="M326.3,486.0 L327.3,486.0 L326.8,485.1Z" fill="#c8323c" />
<path d="M325.0,479.6 L326.0,479.6 L325.5,478.7Z" fill="#c8323c" />
<path d="M310.5,469.8 L311.5,469.8 L311.0,468.9Z" fill="#c8323c" />
<path d="M321.7,463.3 L322.7,463.3 L322.2,462.4Z" fill="#c8323c" />
<path d="M308.4,483.9 L309.4,483.9 L308.9,483.0Z" fill="#c8323c" />
<path d="M327.1,479.3 L328.1,479.3 L327.6,478.4Z" fill="#c8323c" />
<path d="M297.5,473.1 L298.5,473.1 L298.0,472.2Z" fill="#c8323c" />
<path d="M310.6,479.0 L311.6,479.0 L311.1,478.1Z" fill="#c8323c" />
<circle cx="293.1" cy="479.6" r="4.3" fill="#f1d248" stroke="#b8941f" stroke-width="0.6" />
<circle cx="292.5" cy="478.5" r="2.15" fill="#f8e47e" />
<circle cx="300.7" cy="479.6" r="4.3" fill="#f1d248" stroke="#b8941f" stroke-width="0.6" />
<circle cx="300.1" cy="478.5" r="2.15" fill="#f8e47e" />
<circle cx="308.4" cy="479.6" r="4.3" fill="#f1d248" stroke="#b8941f" stroke-width="0.6" />
<circle cx="307.7" cy="478.5" r="2.15" fill="#f8e47e" />
<circle cx="316.0" cy="479.6" r="4.3" fill="#f1d248" stroke="#b8941f" stroke-width="0.6" />
<circle cx="315.4" cy="478.5" r="2.15" fill="#f8e47e" />
<circle cx="323.7" cy="479.6" r="4.3" fill="#f1d248" stroke="#b8941f" stroke-width="0.6" />
<circle cx="323.0" cy="478.5" r="2.15" fill="#f8e47e" />
<circle cx="331.3" cy="479.6" r="4.3" fill="#f1d248" stroke="#b8941f" stroke-width="0.6" />
<circle cx="330.7" cy="478.5" r="2.15" fill="#f8e47e" />
<circle cx="297.8" cy="486.3" r="4.3" fill="#f1d248" stroke="#b8941f" stroke-width="0.6" />
<circle cx="297.2" cy="485.2" r="2.15" fill="#f8e47e" />
<circle cx="306.2" cy="486.3" r="4.3" fill="#f1d248" stroke="#b8941f" stroke-width="0.6" />
<circle cx="305.6" cy="485.2" r="2.15" fill="#f8e47e" />
<circle cx="314.6" cy="486.3" r="4.3" fill="#f1d248" stroke="#b8941f" stroke-width="0.6" />
<circle cx="314.0" cy="485.2" r="2.15" fill="#f8e47e" />
<circle cx="323.0" cy="486.3" r="4.3" fill="#f1d248" stroke="#b8941f" stroke-width="0.6" />
<circle cx="322.4" cy="485.2" r="2.15" fill="#f8e47e" />
<circle cx="331.4" cy="486.3" r="4.3" fill="#f1d248" stroke="#b8941f" stroke-width="0.6" />
<circle cx="330.8" cy="485.2" r="2.15" fill="#f8e47e" />
<rect x="262.0" y="570.6" width="104.6" height="60.6" fill="#d2d2d2" rx="1.5" />
<rect x="262.0" y="586.4" width="104.6" height="12.6" fill="#fbdbe2" />
<rect x="283.5" y="598.8" width="60.1" height="19.2" fill="#fbdbe2" />
<text x="314.0" y="580.8" font-size="7.41" text-anchor="middle" fill="#222" >Media channel</text>
<text x="314.0" y="595.1" font-size="7.67" text-anchor="middle" fill="#c8323c" >Circulatory milieu</text>
<text x="314.0" y="626.7" font-size="7.6" text-anchor="middle" fill="#222" >Cell chamber</text>
<path d="M264.50,593.00 L273.00,593.00" fill="none" stroke="#9a2233" stroke-width="1.2" stroke-linejoin="miter"/>
<path d="M274.98,593.00 L270.80,591.24 L270.80,594.76Z" fill="#9a2233" />
<path d="M351.00,593.00 L359.50,593.00" fill="none" stroke="#9a2233" stroke-width="1.2" stroke-linejoin="miter"/>
<path d="M361.48,593.00 L357.30,591.24 L357.30,594.76Z" fill="#9a2233" />
<path d="M307.7,607.8 L308.7,607.8 L308.2,606.9Z" fill="#c8323c" />
<path d="M341.0,593.2 L342.0,593.2 L341.5,592.3Z" fill="#c8323c" />
<path d="M323.4,610.8 L324.4,610.8 L323.9,609.9Z" fill="#c8323c" />
<path d="M306.4,602.3 L307.4,602.3 L306.9,601.4Z" fill="#c8323c" />
<path d="M343.9,588.9 L344.9,588.9 L344.4,588.0Z" fill="#c8323c" />
<path d="M316.3,592.6 L317.3,592.6 L316.8,591.7Z" fill="#c8323c" />
<path d="M331.5,615.6 L332.5,615.6 L332.0,614.7Z" fill="#c8323c" />
<path d="M314.7,590.8 L315.7,590.8 L315.2,589.9Z" fill="#c8323c" />
<path d="M318.3,603.8 L319.3,603.8 L318.8,602.9Z" fill="#c8323c" />
<path d="M327.4,603.0 L328.4,603.0 L327.9,602.1Z" fill="#c8323c" />
<path d="M322.4,612.3 L323.4,612.3 L322.9,611.4Z" fill="#c8323c" />
<path d="M314.9,599.9 L315.9,599.9 L315.4,599.0Z" fill="#c8323c" />
<path d="M342.2,594.0 L343.2,594.0 L342.7,593.1Z" fill="#c8323c" />
<path d="M325.3,599.4 L326.3,599.4 L325.8,598.5Z" fill="#c8323c" />
<path d="M330.3,591.4 L331.3,591.4 L330.8,590.5Z" fill="#c8323c" />
<path d="M344.5,598.3 L345.5,598.3 L345.0,597.4Z" fill="#c8323c" />
<path d="M285.1,595.9 L286.1,595.9 L285.6,595.0Z" fill="#c8323c" />
<path d="M307.1,588.2 L308.1,588.2 L307.6,587.3Z" fill="#c8323c" />
<path d="M308.3,600.2 L309.3,600.2 L308.8,599.3Z" fill="#c8323c" />
<path d="M326.2,598.2 L327.2,598.2 L326.7,597.3Z" fill="#c8323c" />
<path d="M298.5,594.4 L299.5,594.4 L299.0,593.5Z" fill="#c8323c" />
<path d="M329.0,615.6 L330.0,615.6 L329.5,614.7Z" fill="#c8323c" />
<path d="M315.2,594.3 L316.2,594.3 L315.7,593.4Z" fill="#c8323c" />
<path d="M332.8,599.4 L333.8,599.4 L333.3,598.5Z" fill="#c8323c" />
<path d="M295.1,591.6 L296.1,591.6 L295.6,590.7Z" fill="#c8323c" />
<path d="M331.2,611.8 L332.2,611.8 L331.7,610.9Z" fill="#c8323c" />
<path d="M293.00,602.40 L296.98,604.70 L296.98,609.30 L293.00,611.60 L289.02,609.30 L289.02,604.70Z" fill="#f1dce8" stroke="#8a6a80" stroke-width="0.5" />
<ellipse cx="293.00" cy="607.50" rx="2.30" ry="1.47" fill="#5b4a5a" transform="rotate(-15 293.00 607.00)"/>
<circle cx="293.9" cy="606.5" r="0.736" fill="#e8d8e2" />
<path d="M302.50,602.40 L306.48,604.70 L306.48,609.30 L302.50,611.60 L298.52,609.30 L298.52,604.70Z" fill="#f1dce8" stroke="#8a6a80" stroke-width="0.5" />
<ellipse cx="302.50" cy="607.50" rx="2.30" ry="1.47" fill="#5b4a5a" transform="rotate(-15 302.50 607.00)"/>
<circle cx="303.4" cy="606.5" r="0.736" fill="#e8d8e2" />
<path d="M312.00,602.40 L315.98,604.70 L315.98,609.30 L312.00,611.60 L308.02,609.30 L308.02,604.70Z" fill="#f1dce8" stroke="#8a6a80" stroke-width="0.5" />
<ellipse cx="312.00" cy="607.50" rx="2.30" ry="1.47" fill="#5b4a5a" transform="rotate(-15 312.00 607.00)"/>
<circle cx="312.9" cy="606.5" r="0.736" fill="#e8d8e2" />
<path d="M321.50,602.40 L325.48,604.70 L325.48,609.30 L321.50,611.60 L317.52,609.30 L317.52,604.70Z" fill="#f1dce8" stroke="#8a6a80" stroke-width="0.5" />
<ellipse cx="321.50" cy="607.50" rx="2.30" ry="1.47" fill="#5b4a5a" transform="rotate(-15 321.50 607.00)"/>
<circle cx="322.4" cy="606.5" r="0.736" fill="#e8d8e2" />
<path d="M331.00,602.40 L334.98,604.70 L334.98,609.30 L331.00,611.60 L327.02,609.30 L327.02,604.70Z" fill="#f1dce8" stroke="#8a6a80" stroke-width="0.5" />
<ellipse cx="331.00" cy="607.50" rx="2.30" ry="1.47" fill="#5b4a5a" transform="rotate(-15 331.00 607.00)"/>
<circle cx="331.9" cy="606.5" r="0.736" fill="#e8d8e2" />
<path d="M366.6,466.3 L372.1,466.3 L372.1,592.7 L366.6,592.7" fill="none" stroke="#9a2233" stroke-width="1.5" />
<circle cx="277.7" cy="524.5" r="4.6" fill="#f1d248" stroke="#b8941f" stroke-width="0.6" />
<circle cx="277.0" cy="523.4" r="2.3" fill="#f8e47e" />
<text x="286.2" y="527.2" font-size="7.6" text-anchor="start" fill="#222" >Adipocytes</text>
<path d="M276.8,535.6 L278.6,535.6 L277.7,534.0Z" fill="#d6432d" />
<path d="M274.8,539.0 L276.6,539.0 L275.7,537.4Z" fill="#d6432d" />
<path d="M278.8,539.0 L280.6,539.0 L279.7,537.4Z" fill="#d6432d" />
<text x="286.2" y="539.8" font-size="7.59" text-anchor="start" fill="#222" >Blood-borne factors</text>
<path d="M277.70,545.50 L281.86,547.90 L281.86,552.70 L277.70,555.10 L273.54,552.70 L273.54,547.90Z" fill="#f1dce8" stroke="#8a6a80" stroke-width="0.5" />
<ellipse cx="277.70" cy="550.80" rx="2.40" ry="1.54" fill="#5b4a5a" transform="rotate(-15 277.70 550.30)"/>
<circle cx="278.7" cy="549.8" r="0.768" fill="#e8d8e2" />
<text x="286.2" y="552.9" font-size="7.5" text-anchor="start" fill="#222" >Hepatocytes</text>
<rect x="407.0" y="429.0" width="137.4" height="40.7" fill="#fff" stroke="#6e6e6e" stroke-width="1.0" rx="4" stroke-dasharray="1.05,1.25"/>
<text x="475.5" y="443.7" font-size="7.69" text-anchor="middle" fill="#222" >Assay medium:</text>
<text x="475.5" y="451.7" font-size="7.69" text-anchor="middle" fill="#222" >Adipose glucose uptake</text>
<text x="475.5" y="459.7" font-size="7.69" text-anchor="middle" fill="#222" >or hepatic glucose production</text>
<rect x="409.7" y="481.3" width="132.1" height="77.2" fill="#d2d2d2" rx="1.5" />
<rect x="409.7" y="500.6" width="132.1" height="23.6" fill="#cfe5f8" />
<rect x="435.8" y="524.0" width="75.6" height="17.6" fill="#cfe5f8" />
<text x="475.5" y="509.3" font-size="7.43" text-anchor="middle" fill="#2b5a9b" >Assay medium w/ &amp; w/o insulin:</text>
<text x="475.5" y="517.4" font-size="7.43" text-anchor="middle" fill="#2b5a9b" >or fluorescent fatty acid</text>
<path d="M412.40,514.30 L423.50,514.30" fill="none" stroke="#1f4e8c" stroke-width="1.2" stroke-linejoin="miter"/>
<path d="M425.66,514.30 L421.10,512.38 L421.10,516.22Z" fill="#1f4e8c" />
<path d="M523.50,514.30 L533.80,514.30" fill="none" stroke="#1f4e8c" stroke-width="1.2" stroke-linejoin="miter"/>
<path d="M535.96,514.30 L531.40,512.38 L531.40,516.22Z" fill="#1f4e8c" />
<circle cx="450.0" cy="527.0" r="5" fill="#f1d248" stroke="#b8941f" stroke-width="0.6" />
<circle cx="449.2" cy="525.8" r="2.5" fill="#f8e47e" />
<circle cx="459.0" cy="524.8" r="5" fill="#f1d248" stroke="#b8941f" stroke-width="0.6" />
<circle cx="458.2" cy="523.5" r="2.5" fill="#f8e47e" />
<circle cx="468.0" cy="527.3" r="5" fill="#f1d248" stroke="#b8941f" stroke-width="0.6" />
<circle cx="467.2" cy="526.0" r="2.5" fill="#f8e47e" />
<circle cx="454.5" cy="534.5" r="5" fill="#f1d248" stroke="#b8941f" stroke-width="0.6" />
<circle cx="453.8" cy="533.2" r="2.5" fill="#f8e47e" />
<circle cx="463.8" cy="534.2" r="5" fill="#f1d248" stroke="#b8941f" stroke-width="0.6" />
<circle cx="463.1" cy="533.0" r="2.5" fill="#f8e47e" />
<text x="477.5" y="531.5" font-size="7" text-anchor="middle" fill="#222" >or</text>
<path d="M488.50,523.60 L493.18,526.30 L493.18,531.70 L488.50,534.40 L483.82,531.70 L483.82,526.30Z" fill="#f1dce8" stroke="#8a6a80" stroke-width="0.5" />
<ellipse cx="488.50" cy="529.50" rx="2.70" ry="1.73" fill="#5b4a5a" transform="rotate(-15 488.50 529.00)"/>
<circle cx="489.6" cy="528.5" r="0.8640000000000001" fill="#e8d8e2" />
<path d="M499.70,523.60 L504.38,526.30 L504.38,531.70 L499.70,534.40 L495.02,531.70 L495.02,526.30Z" fill="#f1dce8" stroke="#8a6a80" stroke-width="0.5" />
<ellipse cx="499.70" cy="529.50" rx="2.70" ry="1.73" fill="#5b4a5a" transform="rotate(-15 499.70 529.00)"/>
<circle cx="500.8" cy="528.5" r="0.8640000000000001" fill="#e8d8e2" />
<path d="M541.80,514.30 L552.50,514.30 L552.50,449.00 L547.30,449.00" fill="none" stroke="#9a2233" stroke-width="1.5" stroke-linejoin="miter"/>
<path d="M544.87,449.00 L550.00,451.16 L550.00,446.84Z" fill="#9a2233" />
<path d="M537.70,532.20 L554.50,532.20" fill="none" stroke="#9a2233" stroke-width="1.5" stroke-linejoin="miter"/>
<path d="M556.93,532.20 L551.80,530.04 L551.80,534.36Z" fill="#9a2233" />
<path d="M476.00,533.60 L476.00,563.50" fill="none" stroke="#9a2233" stroke-width="1.5" stroke-linejoin="miter"/>
<path d="M476.00,565.93 L478.16,560.80 L473.84,560.80Z" fill="#9a2233" />
<rect x="407.0" y="570.4" width="137.4" height="40.2" fill="#fff" stroke="#6e6e6e" stroke-width="1.0" rx="4" stroke-dasharray="1.05,1.25"/>
<text x="475.5" y="584.9" font-size="7.17" text-anchor="middle" fill="#222" >Cell lysate:</text>
<text x="475.5" y="592.8" font-size="7.17" text-anchor="middle" fill="#222" >RNA for qPCR and RNA-seq</text>
<text x="475.5" y="600.8" font-size="7.17" text-anchor="middle" fill="#222" >Protein for ELISA of P16 &amp; 8OHdG</text>
<rect x="407.0" y="616.8" width="137.4" height="21.5" fill="#fff" stroke="#6e6e6e" stroke-width="1.0" rx="4" stroke-dasharray="1.05,1.25"/>
<text x="475.5" y="630.1" font-size="7.22" text-anchor="middle" fill="#222" >Flow-thru CM: ELISA of TNF</text>
<path d="M372.1,560.5 L401,560.5" fill="none" stroke="#9a2233" stroke-width="1.5" />
<path d="M401.00,560.50 L401.00,628.00 L404.30,628.00" fill="none" stroke="#9a2233" stroke-width="1.5" stroke-linejoin="miter"/>
<path d="M406.73,628.00 L401.60,625.84 L401.60,630.16Z" fill="#9a2233" />
<rect x="558.0" y="429.0" width="134.4" height="209.6" fill="#fff" stroke="#6e6e6e" stroke-width="1.0" rx="4" stroke-dasharray="1.05,1.25"/>
<text x="624.4" y="465.6" font-size="7.51" text-anchor="middle" fill="#222" >Fluorescent fatty acid basal uptake</text>
<text x="624.4" y="473.1" font-size="7.51" text-anchor="middle" fill="#222" >Fix, then SA-β-gal staining and</text>
<text x="624.4" y="480.9" font-size="7.51" text-anchor="middle" fill="#222" >P16 immunofluorescent staining</text>
<rect x="568.3" y="487.7" width="112.0" height="137.3" fill="#010204" />
<g clip-path="url(#cP)">
<g filter="url(#b2)">
<path d="M580,489 C598,491 611,501 613.5,519" fill="none" stroke="#2f6a72" stroke-width="8" stroke-linecap="round" opacity="0.85"/>
<path d="M583,487 C600,489 613,499 616,517" fill="none" stroke="#5aa0a0" stroke-width="1.5" opacity="0.6"/>
<path d="M644.5,497 L646.3,532" fill="none" stroke="#1f4f60" stroke-width="7" stroke-linecap="round" opacity="0.85"/>
</g><g filter="url(#b1)">
<path d="M612.3,529.6 L672,544.3 L646.3,616.8 L582,592Z" fill="#051426" />
<path d="M620.6,550.7 L655,560 L636,606 L598,590Z" fill="#143f6e" />
<path d="M626,556 L650,562.5 L634,600 L606,589Z" fill="#1a4f84" opacity="0.7"/>
<path d="M612.3,529.6 L672,544.3 L671,549 L613,534.5Z" fill="#2a8090" />
<path d="M672,544.3 L646.3,616.8 L640.5,621 L666,548Z" fill="#267c8e" />
<path d="M612.3,529.6 L582,592 L585.5,593 L615,532Z" fill="#184a5c" />
<path d="M582,592 L646.3,616.8 L640.8,621.6 L583,606.7Z" fill="#3596a8" />
<path d="M582,592 L646.3,616.8 L645.5,619 L582,594.5Z" fill="#7fd0d8" opacity="0.8"/>
<ellipse cx="608.7" cy="604.5" rx="5" ry="3" fill="#3fd890" opacity="0.6"/>
</g><g filter="url(#b1)">
<ellipse cx="619.7" cy="562" rx="3.8" ry="2.9" fill="#2fd070"/>
<ellipse cx="616" cy="569" rx="3.8" ry="2.9" fill="#2fd070"/>
<ellipse cx="612.7" cy="575.8" rx="3.8" ry="2.9" fill="#2fd070"/>
<ellipse cx="608.7" cy="582.8" rx="3.8" ry="2.9" fill="#2fd070"/>
<ellipse cx="645.4" cy="567.8" rx="3.8" ry="2.9" fill="#2fd070"/>
<ellipse cx="642" cy="575" rx="3.8" ry="2.9" fill="#2fd070"/>
<ellipse cx="638" cy="582" rx="3.8" ry="2.9" fill="#2fd070"/>
<ellipse cx="634.4" cy="589.3" rx="3.8" ry="2.9" fill="#2fd070"/>
</g><g filter="url(#b05)">
<ellipse cx="619.7" cy="562" rx="2.6" ry="1.9" fill="#6aff8c"/>
<ellipse cx="616" cy="569" rx="2.6" ry="1.9" fill="#6aff8c"/>
<ellipse cx="612.7" cy="575.8" rx="2.6" ry="1.9" fill="#6aff8c"/>
<ellipse cx="608.7" cy="582.8" rx="2.6" ry="1.9" fill="#6aff8c"/>
<ellipse cx="645.4" cy="567.8" rx="2.6" ry="1.9" fill="#6aff8c"/>
<ellipse cx="642" cy="575" rx="2.6" ry="1.9" fill="#6aff8c"/>
<ellipse cx="638" cy="582" rx="2.6" ry="1.9" fill="#6aff8c"/>
<ellipse cx="634.4" cy="589.3" rx="2.6" ry="1.9" fill="#6aff8c"/>
</g></g>
<rect x="0.5" y="652.5" width="707.0" height="23.0" fill="#ececec" />
<rect x="0.5" y="652.5" width="707.0" height="371.0" fill="none" stroke="#808080" stroke-width="1" />
<text x="358.1" y="668.8" font-size="10.91" text-anchor="middle" fill="#222" >Accumulation of senescent hepatocytes</text>
<text x="8.8" y="695.9" font-size="14.5" text-anchor="middle" fill="#000" font-weight="bold" stroke="#000" stroke-width="0.35">f</text>
<text x="23.8" y="690.7" font-size="10.57" text-anchor="start" fill="#222" >Senescent genes</text>
<line x1="42.4" y1="699.8" x2="42.4" y2="821.5" stroke="#555" stroke-width="0.9" />
<line x1="42.0" y1="821.5" x2="101.6" y2="821.5" stroke="#333" stroke-width="0.9" />
<line x1="39.2" y1="699.8" x2="42.4" y2="699.8" stroke="#555" stroke-width="0.9" />
<text x="38.0" y="701.7" font-size="5.5" text-anchor="end" fill="#222" >10<tspan dy="-2.2" font-size="3.8">3</tspan></text>
<line x1="39.2" y1="730.0" x2="42.4" y2="730.0" stroke="#555" stroke-width="0.9" />
<text x="38.0" y="731.9" font-size="5.5" text-anchor="end" fill="#222" >10<tspan dy="-2.2" font-size="3.8">2</tspan></text>
<line x1="39.2" y1="760.4" x2="42.4" y2="760.4" stroke="#555" stroke-width="0.9" />
<text x="38.0" y="762.3" font-size="5.5" text-anchor="end" fill="#222" >10<tspan dy="-2.2" font-size="3.8">1</tspan></text>
<line x1="39.2" y1="791.0" x2="42.4" y2="791.0" stroke="#555" stroke-width="0.9" />
<text x="38.0" y="792.9" font-size="5.5" text-anchor="end" fill="#222" >10<tspan dy="-2.2" font-size="3.8">0</tspan></text>
<line x1="39.2" y1="821.5" x2="42.4" y2="821.5" stroke="#555" stroke-width="0.9" />
<text x="38.0" y="823.4" font-size="5.5" text-anchor="end" fill="#222" >10<tspan dy="-2.2" font-size="3.8">−1</tspan></text>
<text x="13.5" y="761.3" font-size="6.7" text-anchor="middle" fill="#222" transform="rotate(-90 13.5 761.3)" >Relative expression</text>
<text x="21.3" y="761.3" font-size="6.7" text-anchor="middle" fill="#222" transform="rotate(-90 21.3 761.3)" >(fold to control w/o serum)</text>
<rect x="46.5" y="783.4" width="7.8" height="38.1" fill="#d6e7f6" stroke="#2a5f98" stroke-width="1.2" />
<line x1="50.4" y1="779.5" x2="50.4" y2="788.0" stroke="#2c6ca6" stroke-width="1.0" />
<line x1="47.6" y1="779.5" x2="53.2" y2="779.5" stroke="#2c6ca6" stroke-width="1.0" />
<line x1="47.6" y1="788.0" x2="53.2" y2="788.0" stroke="#2c6ca6" stroke-width="1.0" />
<circle cx="50.4" cy="779.0" r="1.3" fill="#d6e7f6" stroke="#2c6ca6" stroke-width="1.05" />
<circle cx="49.4" cy="783.5" r="1.3" fill="#d6e7f6" stroke="#2c6ca6" stroke-width="1.05" />
<circle cx="51.4" cy="785.0" r="1.3" fill="#d6e7f6" stroke="#2c6ca6" stroke-width="1.05" />
<circle cx="50.4" cy="789.5" r="1.3" fill="#d6e7f6" stroke="#2c6ca6" stroke-width="1.05" />
<rect x="58.6" y="745.0" width="7.8" height="76.5" fill="#fbd1c6" stroke="#a43628" stroke-width="1.2" />
<line x1="62.5" y1="738.0" x2="62.5" y2="757.0" stroke="#d6432d" stroke-width="1.0" />
<line x1="59.7" y1="738.0" x2="65.3" y2="738.0" stroke="#d6432d" stroke-width="1.0" />
<line x1="59.7" y1="757.0" x2="65.3" y2="757.0" stroke="#d6432d" stroke-width="1.0" />
<circle cx="61.0" cy="739.5" r="1.3" fill="#fbd1c6" stroke="#d6432d" stroke-width="1.05" />
<circle cx="64.0" cy="738.0" r="1.3" fill="#fbd1c6" stroke="#d6432d" stroke-width="1.05" />
<circle cx="62.5" cy="751.0" r="1.3" fill="#fbd1c6" stroke="#d6432d" stroke-width="1.05" />
<circle cx="62.5" cy="766.5" r="1.3" fill="#fbd1c6" stroke="#d6432d" stroke-width="1.05" />
<rect x="78.1" y="800.4" width="7.8" height="21.1" fill="#d6e7f6" stroke="#2a5f98" stroke-width="1.2" />
<line x1="82.0" y1="794.0" x2="82.0" y2="811.0" stroke="#2c6ca6" stroke-width="1.0" />
<line x1="79.2" y1="794.0" x2="84.8" y2="794.0" stroke="#2c6ca6" stroke-width="1.0" />
<line x1="79.2" y1="811.0" x2="84.8" y2="811.0" stroke="#2c6ca6" stroke-width="1.0" />
<circle cx="82.0" cy="793.5" r="1.3" fill="#d6e7f6" stroke="#2c6ca6" stroke-width="1.05" />
<circle cx="82.0" cy="802.0" r="1.3" fill="#d6e7f6" stroke="#2c6ca6" stroke-width="1.05" />
<circle cx="82.0" cy="807.0" r="1.3" fill="#d6e7f6" stroke="#2c6ca6" stroke-width="1.05" />
<circle cx="82.0" cy="812.0" r="1.3" fill="#d6e7f6" stroke="#2c6ca6" stroke-width="1.05" />
<rect x="90.4" y="783.8" width="7.8" height="37.7" fill="#fbd1c6" stroke="#a43628" stroke-width="1.2" />
<line x1="94.3" y1="780.0" x2="94.3" y2="788.0" stroke="#d6432d" stroke-width="1.0" />
<line x1="91.5" y1="780.0" x2="97.1" y2="780.0" stroke="#d6432d" stroke-width="1.0" />
<line x1="91.5" y1="788.0" x2="97.1" y2="788.0" stroke="#d6432d" stroke-width="1.0" />
<circle cx="94.3" cy="780.0" r="1.3" fill="#fbd1c6" stroke="#d6432d" stroke-width="1.05" />
<circle cx="93.3" cy="784.0" r="1.3" fill="#fbd1c6" stroke="#d6432d" stroke-width="1.05" />
<circle cx="95.3" cy="786.0" r="1.3" fill="#fbd1c6" stroke="#d6432d" stroke-width="1.05" />
<path d="M50.4,730.5 L50.4,723.8 L62.5,723.8 L62.5,730.5" fill="none" stroke="#111" stroke-width="1.0" />
<text x="56.5" y="721.1" font-size="6.5" text-anchor="middle" fill="#333" >0.0367</text>
<path d="M82.0,766.0 L82.0,758.4 L94.3,758.4 L94.3,766.0" fill="none" stroke="#111" stroke-width="1.0" />
<text x="88.2" y="755.8" font-size="6.5" text-anchor="middle" fill="#333" >0.0198</text>
<circle cx="76.2" cy="702.7" r="1.3" fill="#d6e7f6" stroke="#2c6ca6" stroke-width="0.8" />
<text x="80.2" y="705.0" font-size="6.7" text-anchor="start" fill="#333" >Young</text>
<circle cx="76.2" cy="712.9" r="1.3" fill="#fbd1c6" stroke="#d6432d" stroke-width="0.8" />
<text x="80.2" y="715.2" font-size="6.7" text-anchor="start" fill="#333" >Old</text>
<line x1="56.3" y1="821.5" x2="56.3" y2="824.0" stroke="#333" stroke-width="0.8" />
<text x="56.3" y="833.7" font-size="6" text-anchor="middle" fill="#333" style="font-style:italic" >CDKN2A</text>
<line x1="87.9" y1="821.5" x2="87.9" y2="824.0" stroke="#333" stroke-width="0.8" />
<text x="87.9" y="833.7" font-size="6" text-anchor="middle" fill="#333" style="font-style:italic" >CDKN1A</text>
<text x="244.2" y="691.5" font-size="10.61" text-anchor="middle" fill="#222" >SA-β-gal staining</text>
<rect x="121.0" y="704.8" width="114.7" height="116.6" fill="#b9c2c5" />
<g filter="url(#b1)">
<circle cx="145.6" cy="792.6" r="5.6" fill="#93d2cd" />
<circle cx="168.0" cy="792.6" r="5.6" fill="#8fd0cc" />
<circle cx="190.3" cy="792.6" r="5.6" fill="#84cccb" />
<circle cx="213.6" cy="792.6" r="5.6" fill="#4bb3b5" />
<circle cx="213.0" cy="792.3" r="3.6" fill="#1f9da2" />
<circle cx="213.0" cy="717.0" r="3" fill="#b3cfcd" />
</g>
<text x="178.4" y="714.3" font-size="8" text-anchor="middle" fill="#222" >Young</text>
<text x="178.4" y="816.3" font-size="8" text-anchor="middle" fill="#222" >Old</text>
<line x1="272.0" y1="700.8" x2="272.0" y2="820.3" stroke="#333" stroke-width="0.9" />
<line x1="271.6" y1="820.3" x2="369.0" y2="820.3" stroke="#333" stroke-width="0.9" />
<line x1="268.8" y1="820.3" x2="272.0" y2="820.3" stroke="#333" stroke-width="0.9" />
<text x="267.6" y="822.1" font-size="5.1" text-anchor="end" fill="#222" >0</text>
<line x1="268.8" y1="780.5" x2="272.0" y2="780.5" stroke="#333" stroke-width="0.9" />
<text x="267.6" y="782.3" font-size="5.1" text-anchor="end" fill="#222" >50</text>
<line x1="268.8" y1="740.6" x2="272.0" y2="740.6" stroke="#333" stroke-width="0.9" />
<text x="267.6" y="742.4" font-size="5.1" text-anchor="end" fill="#222" >100</text>
<line x1="268.8" y1="700.8" x2="272.0" y2="700.8" stroke="#333" stroke-width="0.9" />
<text x="267.6" y="702.6" font-size="5.1" text-anchor="end" fill="#222" >150</text>
<text x="250.5" y="761.7" font-size="6.29" text-anchor="middle" fill="#222" transform="rotate(-90 250.5 761.7)" >SA-β-gal staining (a.u.)</text>
<rect x="278.8" y="815.9" width="12.0" height="4.4" fill="#d6e7f6" stroke="#2a5f98" stroke-width="1.2" />
<line x1="284.8" y1="810.7" x2="284.8" y2="819.9" stroke="#2c6ca6" stroke-width="1.0" />
<line x1="280.5" y1="810.7" x2="289.1" y2="810.7" stroke="#2c6ca6" stroke-width="1.0" />
<line x1="280.5" y1="819.9" x2="289.1" y2="819.9" stroke="#2c6ca6" stroke-width="1.0" />
<circle cx="284.8" cy="806.0" r="1.3" fill="#d6e7f6" stroke="#2c6ca6" stroke-width="1.05" />
<circle cx="282.8" cy="813.9" r="1.3" fill="#d6e7f6" stroke="#2c6ca6" stroke-width="1.05" />
<circle cx="286.8" cy="816.3" r="1.3" fill="#d6e7f6" stroke="#2c6ca6" stroke-width="1.05" />
<circle cx="281.8" cy="817.9" r="1.3" fill="#d6e7f6" stroke="#2c6ca6" stroke-width="1.05" />
<circle cx="287.8" cy="817.9" r="1.3" fill="#d6e7f6" stroke="#2c6ca6" stroke-width="1.05" />
<circle cx="284.8" cy="818.7" r="1.3" fill="#d6e7f6" stroke="#2c6ca6" stroke-width="1.05" />
<rect x="298.5" y="790.0" width="12.0" height="30.3" fill="#fbd1c6" stroke="#a43628" stroke-width="1.2" />
<line x1="304.5" y1="763.7" x2="304.5" y2="814.7" stroke="#d6432d" stroke-width="1.0" />
<line x1="300.2" y1="763.7" x2="308.8" y2="763.7" stroke="#d6432d" stroke-width="1.0" />
<line x1="300.2" y1="814.7" x2="308.8" y2="814.7" stroke="#d6432d" stroke-width="1.0" />
<rect x="303.2" y="725.0" width="2.6" height="2.6" fill="#fbd1c6" stroke="#d6432d" stroke-width="1.05" />
<rect x="303.2" y="740.9" width="2.6" height="2.6" fill="#fbd1c6" stroke="#d6432d" stroke-width="1.05" />
<rect x="303.2" y="777.6" width="2.6" height="2.6" fill="#fbd1c6" stroke="#d6432d" stroke-width="1.05" />
<rect x="301.2" y="791.9" width="2.6" height="2.6" fill="#fbd1c6" stroke="#d6432d" stroke-width="1.05" />
<rect x="305.7" y="795.1" width="2.6" height="2.6" fill="#fbd1c6" stroke="#d6432d" stroke-width="1.05" />
<rect x="300.2" y="801.5" width="2.6" height="2.6" fill="#fbd1c6" stroke="#d6432d" stroke-width="1.05" />
<rect x="305.2" y="803.1" width="2.6" height="2.6" fill="#fbd1c6" stroke="#d6432d" stroke-width="1.05" />
<rect x="303.2" y="807.0" width="2.6" height="2.6" fill="#fbd1c6" stroke="#d6432d" stroke-width="1.05" />
<rect x="301.2" y="809.4" width="2.6" height="2.6" fill="#fbd1c6" stroke="#d6432d" stroke-width="1.05" />
<rect x="305.2" y="811.0" width="2.6" height="2.6" fill="#fbd1c6" stroke="#d6432d" stroke-width="1.05" />
<rect x="330.2" y="815.9" width="12.0" height="4.4" fill="#d6e7f6" stroke="#2a5f98" stroke-width="1.2" />
<line x1="336.2" y1="810.7" x2="336.2" y2="819.9" stroke="#2c6ca6" stroke-width="1.0" />
<line x1="331.9" y1="810.7" x2="340.5" y2="810.7" stroke="#2c6ca6" stroke-width="1.0" />
<line x1="331.9" y1="819.9" x2="340.5" y2="819.9" stroke="#2c6ca6" stroke-width="1.0" />
<rect x="332.9" y="806.3" width="2.6" height="2.6" fill="#d6e7f6" stroke="#2c6ca6" stroke-width="1.05" />
<rect x="336.9" y="814.2" width="2.6" height="2.6" fill="#d6e7f6" stroke="#2c6ca6" stroke-width="1.05" />
<rect x="331.9" y="816.6" width="2.6" height="2.6" fill="#d6e7f6" stroke="#2c6ca6" stroke-width="1.05" />
<rect x="335.9" y="816.6" width="2.6" height="2.6" fill="#d6e7f6" stroke="#2c6ca6" stroke-width="1.05" />
<rect x="350.0" y="800.4" width="12.0" height="19.9" fill="#fbd1c6" stroke="#a43628" stroke-width="1.2" />
<line x1="356.0" y1="788.4" x2="356.0" y2="811.5" stroke="#d6432d" stroke-width="1.0" />
<line x1="351.7" y1="788.4" x2="360.3" y2="788.4" stroke="#d6432d" stroke-width="1.0" />
<line x1="351.7" y1="811.5" x2="360.3" y2="811.5" stroke="#d6432d" stroke-width="1.0" />
<rect x="354.7" y="770.4" width="2.6" height="2.6" fill="#fbd1c6" stroke="#d6432d" stroke-width="1.05" />
<rect x="354.7" y="779.2" width="2.6" height="2.6" fill="#fbd1c6" stroke="#d6432d" stroke-width="1.05" />
<rect x="354.7" y="791.1" width="2.6" height="2.6" fill="#fbd1c6" stroke="#d6432d" stroke-width="1.05" />
<rect x="357.7" y="797.5" width="2.6" height="2.6" fill="#fbd1c6" stroke="#d6432d" stroke-width="1.05" />
<rect x="351.7" y="801.5" width="2.6" height="2.6" fill="#fbd1c6" stroke="#d6432d" stroke-width="1.05" />
<rect x="356.7" y="804.7" width="2.6" height="2.6" fill="#fbd1c6" stroke="#d6432d" stroke-width="1.05" />
<rect x="352.7" y="807.8" width="2.6" height="2.6" fill="#fbd1c6" stroke="#d6432d" stroke-width="1.05" />
<rect x="355.7" y="809.4" width="2.6" height="2.6" fill="#fbd1c6" stroke="#d6432d" stroke-width="1.05" />
<path d="M284.8,719.4 L284.8,713.5 L304.5,713.5 L304.5,719.4" fill="none" stroke="#111" stroke-width="1.0" />
<text x="294.6" y="710.7" font-size="6.5" text-anchor="middle" fill="#333" >0.0001</text>
<path d="M336.2,748.0 L336.2,741.2 L356.0,741.2 L356.0,748.0" fill="none" stroke="#111" stroke-width="1.0" />
<text x="346.1" y="738.3" font-size="6.5" text-anchor="middle" fill="#333" >0.0008</text>
<rect x="324.3" y="704.4" width="2.4" height="2.4" fill="#d6e7f6" stroke="#2c6ca6" stroke-width="0.8" />
<text x="329.5" y="707.9" font-size="6.7" text-anchor="start" fill="#333" >Young</text>
<rect x="324.3" y="713.5" width="2.4" height="2.4" fill="#fbd1c6" stroke="#d6432d" stroke-width="0.8" />
<text x="329.5" y="717.0" font-size="6.7" text-anchor="start" fill="#333" >Old</text>
<line x1="294.6" y1="820.3" x2="294.6" y2="822.8" stroke="#333" stroke-width="0.8" />
<text x="294.6" y="832.6" font-size="6.6" text-anchor="middle" fill="#333" >Intensity</text>
<line x1="346.1" y1="820.3" x2="346.1" y2="822.8" stroke="#333" stroke-width="0.8" />
<text x="346.1" y="832.6" font-size="6.6" text-anchor="middle" fill="#333" >Area%</text>
<text x="565.3" y="691.4" font-size="10.73" text-anchor="middle" fill="#222" >p16 staining and quantification</text>
<rect x="394.2" y="700.7" width="118.2" height="119.2" fill="#040b07" />
<g clip-path="url(#cF)">
<g filter="url(#b3)">
<circle cx="476.5" cy="754.0" r="11" fill="#1d6236" />
<circle cx="410.0" cy="800.0" r="18" fill="#0f3a1c" />
<circle cx="440.0" cy="770.0" r="14" fill="#0c2e16" />
<circle cx="450.0" cy="806.0" r="12" fill="#103c1e" />
<circle cx="400.0" cy="740.0" r="10" fill="#0e3419" />
<circle cx="490.0" cy="730.0" r="10" fill="#0b2a14" />
<circle cx="485.0" cy="800.0" r="12" fill="#0a2813" />
<circle cx="440.0" cy="740.0" r="8" fill="#0a2612" />
</g><g filter="url(#b2)">
<ellipse cx="419.3" cy="717.9" rx="10.5" ry="12.5" fill="#1b2bb0"/>
<ellipse cx="443.2" cy="717.9" rx="11" ry="11" fill="#1c2cb4"/>
<ellipse cx="470.8" cy="706.5" rx="9.5" ry="7.5" fill="#1a28a8"/>
<ellipse cx="419.3" cy="756" rx="11" ry="13" fill="#1c2cb6"/>
<ellipse cx="462.2" cy="782.7" rx="10" ry="10.5" fill="#1b2bb0"/>
<ellipse cx="503.2" cy="783.7" rx="9.5" ry="10.5" fill="#1b2aae"/>
<ellipse cx="511" cy="746.5" rx="4" ry="6" fill="#141f80"/>
<ellipse cx="452" cy="805" rx="4" ry="5" fill="#141f80"/>
<ellipse cx="457.8" cy="752.2" rx="9" ry="10.5" fill="#8a30b4"/>
<ellipse cx="426" cy="788.4" rx="9" ry="12" fill="#a8409c"/>
<ellipse cx="494.6" cy="737" rx="6" ry="5" fill="#5a2a92"/>
</g><g filter="url(#b1)">
<circle cx="398.0" cy="745.0" r="1.8" fill="#5fdc7c" />
<circle cx="490.8" cy="747.4" r="2.2" fill="#5fdc7c" />
<circle cx="463.2" cy="800.0" r="2.2" fill="#5fdc7c" />
<circle cx="450.8" cy="812.3" r="2.2" fill="#5fdc7c" />
<circle cx="407.5" cy="815.5" r="1.8" fill="#5fdc7c" />
<circle cx="422.2" cy="809.4" r="1.5" fill="#5fdc7c" />
<circle cx="436.0" cy="752.0" r="1.2" fill="#5fdc7c" />
<circle cx="471.0" cy="795.0" r="1.2" fill="#5fdc7c" />
<circle cx="482.0" cy="726.0" r="1.0" fill="#5fdc7c" />
</g></g>
<text x="492.7" y="715.0" font-size="8" text-anchor="middle" fill="#fff" >Old</text>
<rect x="476.2" y="808.5" width="29.5" height="3.0" fill="#fff" />
<text x="490.3" y="803.6" font-size="8" text-anchor="middle" fill="#fff" >10 μm</text>
<text x="395.5" y="832.3" font-size="10.4" text-anchor="start" fill="#d0453a" >P16</text>
<text x="432.7" y="832.4" font-size="10.6" text-anchor="start" fill="#63c26a" >Lipid</text>
<text x="473.1" y="832.4" font-size="10.6" text-anchor="start" fill="#2b2f8f" >Nuclei</text>
<line x1="549.4" y1="708.2" x2="549.4" y2="819.3" stroke="#222" stroke-width="1.1" />
<line x1="549.0" y1="819.3" x2="614.0" y2="819.3" stroke="#333" stroke-width="1.1" />
<line x1="546.2" y1="708.2" x2="549.4" y2="708.2" stroke="#222" stroke-width="1.1" />
<text x="545.0" y="710.2" font-size="5.6" text-anchor="end" fill="#222" >2.0</text>
<line x1="546.2" y1="730.4" x2="549.4" y2="730.4" stroke="#222" stroke-width="1.1" />
<text x="545.0" y="732.4" font-size="5.6" text-anchor="end" fill="#222" >1.5</text>
<line x1="546.2" y1="752.6" x2="549.4" y2="752.6" stroke="#222" stroke-width="1.1" />
<text x="545.0" y="754.6" font-size="5.6" text-anchor="end" fill="#222" >1.0</text>
<line x1="546.2" y1="774.8" x2="549.4" y2="774.8" stroke="#222" stroke-width="1.1" />
<text x="545.0" y="776.8" font-size="5.6" text-anchor="end" fill="#222" >0.5</text>
<line x1="546.2" y1="797.0" x2="549.4" y2="797.0" stroke="#222" stroke-width="1.1" />
<text x="545.0" y="799.0" font-size="5.6" text-anchor="end" fill="#222" >0</text>
<line x1="546.2" y1="819.2" x2="549.4" y2="819.2" stroke="#222" stroke-width="1.1" />
<text x="545.0" y="821.2" font-size="5.6" text-anchor="end" fill="#222" >−0.5</text>
<line x1="549.4" y1="797.0" x2="614.0" y2="797.0" stroke="#222" stroke-width="1.1" />
<text x="528.7" y="763.9" font-size="6.3" text-anchor="middle" fill="#222" transform="rotate(-90 528.7 763.9)" >P16 intensity in nuclei (RFU)</text>
<rect x="559.0" y="789.5" width="18.0" height="7.5" fill="#d6e7f6" stroke="#2a5f98" stroke-width="1.2" />
<line x1="568.0" y1="778.8" x2="568.0" y2="801.2" stroke="#2c6ca6" stroke-width="1.0" />
<line x1="562.6" y1="778.8" x2="573.4" y2="778.8" stroke="#2c6ca6" stroke-width="1.0" />
<line x1="562.6" y1="801.2" x2="573.4" y2="801.2" stroke="#2c6ca6" stroke-width="1.0" />
<circle cx="566.2" cy="775.2" r="1.3" fill="#d6e7f6" stroke="#2c6ca6" stroke-width="1.05" />
<circle cx="569.8" cy="775.2" r="1.3" fill="#d6e7f6" stroke="#2c6ca6" stroke-width="1.05" />
<circle cx="568.0" cy="781.0" r="1.3" fill="#d6e7f6" stroke="#2c6ca6" stroke-width="1.05" />
<circle cx="566.5" cy="790.8" r="1.3" fill="#d6e7f6" stroke="#2c6ca6" stroke-width="1.05" />
<circle cx="569.5" cy="791.7" r="1.3" fill="#d6e7f6" stroke="#2c6ca6" stroke-width="1.05" />
<circle cx="568.0" cy="794.3" r="1.3" fill="#d6e7f6" stroke="#2c6ca6" stroke-width="1.05" />
<circle cx="568.0" cy="798.3" r="1.3" fill="#d6e7f6" stroke="#2c6ca6" stroke-width="1.05" />
<circle cx="568.0" cy="802.8" r="1.3" fill="#d6e7f6" stroke="#2c6ca6" stroke-width="1.05" />
<circle cx="568.0" cy="809.4" r="1.3" fill="#d6e7f6" stroke="#2c6ca6" stroke-width="1.05" />
<rect x="586.9" y="760.1" width="17.5" height="36.9" fill="#fbd1c6" stroke="#a43628" stroke-width="1.2" />
<line x1="595.6" y1="733.1" x2="595.6" y2="788.1" stroke="#d6432d" stroke-width="1.0" />
<line x1="590.2" y1="733.1" x2="601.0" y2="733.1" stroke="#d6432d" stroke-width="1.0" />
<line x1="590.2" y1="788.1" x2="601.0" y2="788.1" stroke="#d6432d" stroke-width="1.0" />
<rect x="594.3" y="716.7" width="2.6" height="2.6" fill="#fbd1c6" stroke="#d6432d" stroke-width="1.05" />
<rect x="594.3" y="720.2" width="2.6" height="2.6" fill="#fbd1c6" stroke="#d6432d" stroke-width="1.05" />
<rect x="594.3" y="729.1" width="2.6" height="2.6" fill="#fbd1c6" stroke="#d6432d" stroke-width="1.05" />
<rect x="594.3" y="754.9" width="2.6" height="2.6" fill="#fbd1c6" stroke="#d6432d" stroke-width="1.05" />
<rect x="594.3" y="765.5" width="2.6" height="2.6" fill="#fbd1c6" stroke="#d6432d" stroke-width="1.05" />
<rect x="594.3" y="769.9" width="2.6" height="2.6" fill="#fbd1c6" stroke="#d6432d" stroke-width="1.05" />
<rect x="594.3" y="773.5" width="2.6" height="2.6" fill="#fbd1c6" stroke="#d6432d" stroke-width="1.05" />
<rect x="594.3" y="777.9" width="2.6" height="2.6" fill="#fbd1c6" stroke="#d6432d" stroke-width="1.05" />
<rect x="594.3" y="783.7" width="2.6" height="2.6" fill="#fbd1c6" stroke="#d6432d" stroke-width="1.05" />
<rect x="596.6" y="790.8" width="2.6" height="2.6" fill="#fbd1c6" stroke="#d6432d" stroke-width="1.05" />
<rect x="592.3" y="793.0" width="2.6" height="2.6" fill="#fbd1c6" stroke="#d6432d" stroke-width="1.05" />
<path d="M567.3,768.4 L567.3,708.0 L595.6,708.0 L595.6,714.0" fill="none" stroke="#111" stroke-width="1.0" />
<text x="581.7" y="705.9" font-size="6.5" text-anchor="middle" fill="#333" >0.0004</text>
<line x1="568.0" y1="819.3" x2="568.0" y2="822.1" stroke="#222" stroke-width="1.0" />
<text x="568.0" y="831.1" font-size="6.6" text-anchor="middle" fill="#333" >Young</text>
<line x1="595.6" y1="819.3" x2="595.6" y2="822.1" stroke="#222" stroke-width="1.0" />
<text x="595.6" y="831.1" font-size="6.6" text-anchor="middle" fill="#333" >Old</text>
<line x1="646.2" y1="707.8" x2="646.2" y2="819.2" stroke="#999" stroke-width="0.9" />
<line x1="645.8" y1="819.2" x2="706.0" y2="819.2" stroke="#333" stroke-width="0.9" />
<line x1="643.0" y1="707.8" x2="646.2" y2="707.8" stroke="#999" stroke-width="0.9" />
<text x="641.8" y="709.6" font-size="5.1" text-anchor="end" fill="#222" >1.5</text>
<line x1="643.0" y1="744.9" x2="646.2" y2="744.9" stroke="#999" stroke-width="0.9" />
<text x="641.8" y="746.7" font-size="5.1" text-anchor="end" fill="#222" >1.0</text>
<line x1="643.0" y1="782.1" x2="646.2" y2="782.1" stroke="#999" stroke-width="0.9" />
<text x="641.8" y="783.9" font-size="5.1" text-anchor="end" fill="#222" >0.5</text>
<line x1="643.0" y1="819.2" x2="646.2" y2="819.2" stroke="#999" stroke-width="0.9" />
<text x="641.8" y="821.0" font-size="5.1" text-anchor="end" fill="#222" >0</text>
<text x="626.3" y="763.5" font-size="6.3" text-anchor="middle" fill="#222" transform="rotate(-90 626.3 763.5)" >P16 by ELISA (pg g<tspan dy="-2" font-size="4">−1</tspan><tspan dy="2"> total protein)</tspan></text>
<rect x="655.9" y="765.3" width="17.5" height="53.9" fill="#fbd1c6" stroke="#a43628" stroke-width="1.2" />
<line x1="664.6" y1="755.0" x2="664.6" y2="776.0" stroke="#d6432d" stroke-width="1.0" />
<line x1="659.2" y1="755.0" x2="670.0" y2="755.0" stroke="#d6432d" stroke-width="1.0" />
<line x1="659.2" y1="776.0" x2="670.0" y2="776.0" stroke="#d6432d" stroke-width="1.0" />
<circle cx="664.6" cy="750.3" r="1.3" fill="#fbd1c6" stroke="#d6432d" stroke-width="1.05" />
<circle cx="663.1" cy="772.5" r="1.3" fill="#fbd1c6" stroke="#d6432d" stroke-width="1.05" />
<circle cx="666.1" cy="772.0" r="1.3" fill="#fbd1c6" stroke="#d6432d" stroke-width="1.05" />
<circle cx="664.6" cy="765.0" r="1.3" fill="#fbd1c6" stroke="#d6432d" stroke-width="1.05" />
<rect x="682.9" y="791.0" width="17.5" height="28.2" fill="#d6e7f6" stroke="#2a5f98" stroke-width="1.2" />
<line x1="691.6" y1="779.4" x2="691.6" y2="802.4" stroke="#2c6ca6" stroke-width="1.0" />
<line x1="686.2" y1="779.4" x2="697.0" y2="779.4" stroke="#2c6ca6" stroke-width="1.0" />
<line x1="686.2" y1="802.4" x2="697.0" y2="802.4" stroke="#2c6ca6" stroke-width="1.0" />
<circle cx="691.6" cy="778.0" r="1.3" fill="#d6e7f6" stroke="#2c6ca6" stroke-width="1.05" />
<circle cx="691.6" cy="785.0" r="1.3" fill="#d6e7f6" stroke="#2c6ca6" stroke-width="1.05" />
<circle cx="691.6" cy="797.0" r="1.3" fill="#d6e7f6" stroke="#2c6ca6" stroke-width="1.05" />
<circle cx="691.6" cy="804.0" r="1.3" fill="#d6e7f6" stroke="#2c6ca6" stroke-width="1.05" />
<path d="M664.4,744.0 L664.4,737.2 L691.5,737.2 L691.5,744.0" fill="none" stroke="#111" stroke-width="1.0" />
<text x="678.0" y="734.9" font-size="6.5" text-anchor="middle" fill="#333" >0.0187</text>
<line x1="664.6" y1="819.2" x2="664.6" y2="821.7" stroke="#333" stroke-width="0.8" />
<text x="664.6" y="831.0" font-size="6.6" text-anchor="middle" fill="#333" >Young</text>
<line x1="691.6" y1="819.2" x2="691.6" y2="821.7" stroke="#333" stroke-width="0.8" />
<text x="691.6" y="831.0" font-size="6.6" text-anchor="middle" fill="#333" >Old</text>
<text x="9.7" y="855.8" font-size="14.5" text-anchor="middle" fill="#000" font-weight="bold" stroke="#000" stroke-width="0.35">g</text>
<text x="102.0" y="864.6" font-size="10.73" text-anchor="middle" fill="#222" >Inflammation/SASPs</text>
<line x1="44.5" y1="872.5" x2="44.5" y2="1004.0" stroke="#555" stroke-width="0.9" />
<line x1="44.1" y1="1004.0" x2="110.6" y2="1004.0" stroke="#333" stroke-width="0.9" />
<line x1="41.3" y1="872.5" x2="44.5" y2="872.5" stroke="#555" stroke-width="0.9" />
<text x="40.1" y="874.4" font-size="5.5" text-anchor="end" fill="#222" >10<tspan dy="-2.2" font-size="3.8">3</tspan></text>
<line x1="41.3" y1="905.3" x2="44.5" y2="905.3" stroke="#555" stroke-width="0.9" />
<text x="40.1" y="907.2" font-size="5.5" text-anchor="end" fill="#222" >10<tspan dy="-2.2" font-size="3.8">2</tspan></text>
<line x1="41.3" y1="938.1" x2="44.5" y2="938.1" stroke="#555" stroke-width="0.9" />
<text x="40.1" y="940.0" font-size="5.5" text-anchor="end" fill="#222" >10<tspan dy="-2.2" font-size="3.8">1</tspan></text>
<line x1="41.3" y1="971.0" x2="44.5" y2="971.0" stroke="#555" stroke-width="0.9" />
<text x="40.1" y="972.9" font-size="5.5" text-anchor="end" fill="#222" >10<tspan dy="-2.2" font-size="3.8">0</tspan></text>
<line x1="41.3" y1="1004.0" x2="44.5" y2="1004.0" stroke="#555" stroke-width="0.9" />
<text x="40.1" y="1005.9" font-size="5.5" text-anchor="end" fill="#222" >10<tspan dy="-2.2" font-size="3.8">−1</tspan></text>
<text x="14.2" y="939.0" font-size="6.7" text-anchor="middle" fill="#222" transform="rotate(-90 14.2 939.0)" >Relative expression</text>
<text x="21.0" y="939.0" font-size="6.7" text-anchor="middle" fill="#222" transform="rotate(-90 21.0 939.0)" >(fold to control w/o serum)</text>
<rect x="49.2" y="958.2" width="8.4" height="45.8" fill="#d6e7f6" stroke="#2a5f98" stroke-width="1.2" />
<line x1="53.4" y1="952.0" x2="53.4" y2="969.0" stroke="#2c6ca6" stroke-width="1.0" />
<line x1="50.4" y1="952.0" x2="56.4" y2="952.0" stroke="#2c6ca6" stroke-width="1.0" />
<line x1="50.4" y1="969.0" x2="56.4" y2="969.0" stroke="#2c6ca6" stroke-width="1.0" />
<circle cx="53.4" cy="950.5" r="1.3" fill="#d6e7f6" stroke="#2c6ca6" stroke-width="1.05" />
<circle cx="52.4" cy="958.0" r="1.3" fill="#d6e7f6" stroke="#2c6ca6" stroke-width="1.05" />
<circle cx="54.4" cy="962.0" r="1.3" fill="#d6e7f6" stroke="#2c6ca6" stroke-width="1.05" />
<circle cx="53.4" cy="969.0" r="1.3" fill="#d6e7f6" stroke="#2c6ca6" stroke-width="1.05" />
<rect x="62.4" y="942.5" width="8.4" height="61.5" fill="#fbd1c6" stroke="#a43628" stroke-width="1.2" />
<line x1="66.6" y1="939.0" x2="66.6" y2="948.0" stroke="#d6432d" stroke-width="1.0" />
<line x1="63.6" y1="939.0" x2="69.6" y2="939.0" stroke="#d6432d" stroke-width="1.0" />
<line x1="63.6" y1="948.0" x2="69.6" y2="948.0" stroke="#d6432d" stroke-width="1.0" />
<rect x="65.3" y="938.7" width="2.6" height="2.6" fill="#fbd1c6" stroke="#d6432d" stroke-width="1.05" />
<rect x="63.8" y="941.7" width="2.6" height="2.6" fill="#fbd1c6" stroke="#d6432d" stroke-width="1.05" />
<rect x="66.8" y="942.2" width="2.6" height="2.6" fill="#fbd1c6" stroke="#d6432d" stroke-width="1.05" />
<rect x="65.3" y="948.7" width="2.6" height="2.6" fill="#fbd1c6" stroke="#d6432d" stroke-width="1.05" />
<rect x="84.3" y="969.7" width="8.4" height="34.3" fill="#d6e7f6" stroke="#2a5f98" stroke-width="1.2" />
<line x1="88.5" y1="968.0" x2="88.5" y2="972.0" stroke="#2c6ca6" stroke-width="1.0" />
<line x1="85.5" y1="968.0" x2="91.5" y2="968.0" stroke="#2c6ca6" stroke-width="1.0" />
<line x1="85.5" y1="972.0" x2="91.5" y2="972.0" stroke="#2c6ca6" stroke-width="1.0" />
<circle cx="86.5" cy="968.5" r="1.3" fill="#d6e7f6" stroke="#2c6ca6" stroke-width="1.05" />
<circle cx="88.5" cy="970.0" r="1.3" fill="#d6e7f6" stroke="#2c6ca6" stroke-width="1.05" />
<circle cx="90.5" cy="969.5" r="1.3" fill="#d6e7f6" stroke="#2c6ca6" stroke-width="1.05" />
<rect x="97.5" y="964.6" width="8.4" height="39.4" fill="#fbd1c6" stroke="#a43628" stroke-width="1.2" />
<line x1="101.7" y1="963.5" x2="101.7" y2="966.0" stroke="#d6432d" stroke-width="1.0" />
<line x1="98.7" y1="963.5" x2="104.7" y2="963.5" stroke="#d6432d" stroke-width="1.0" />
<line x1="98.7" y1="966.0" x2="104.7" y2="966.0" stroke="#d6432d" stroke-width="1.0" />
<circle cx="100.2" cy="965.0" r="1.3" fill="#fbd1c6" stroke="#d6432d" stroke-width="1.05" />
<circle cx="101.7" cy="964.0" r="1.3" fill="#fbd1c6" stroke="#d6432d" stroke-width="1.05" />
<circle cx="103.2" cy="965.0" r="1.3" fill="#fbd1c6" stroke="#d6432d" stroke-width="1.05" />
<path d="M53.4,933.6 L53.4,924.4 L66.6,924.4 L66.6,933.6" fill="none" stroke="#111" stroke-width="1.0" />
<text x="60.0" y="921.9" font-size="6.5" text-anchor="middle" fill="#333" >0.0093</text>
<path d="M88.5,933.6 L88.5,924.4 L101.7,924.4 L101.7,933.6" fill="none" stroke="#111" stroke-width="1.0" />
<text x="95.1" y="921.9" font-size="6.5" text-anchor="middle" fill="#333" >0.0305</text>
<circle cx="52.1" cy="878.0" r="1.3" fill="#d6e7f6" stroke="#2c6ca6" stroke-width="0.8" />
<text x="56.1" y="880.3" font-size="6.7" text-anchor="start" fill="#333" >Young</text>
<rect x="50.9" y="887.1" width="2.4" height="2.4" fill="#fbd1c6" stroke="#d6432d" stroke-width="0.8" />
<text x="56.1" y="890.6" font-size="6.7" text-anchor="start" fill="#333" >Old</text>
<line x1="59.8" y1="1004.0" x2="59.8" y2="1006.5" stroke="#333" stroke-width="0.8" />
<text x="59.8" y="1016.1" font-size="5.9" text-anchor="middle" fill="#333" style="font-style:italic" >TNF</text>
<line x1="95.0" y1="1004.0" x2="95.0" y2="1006.5" stroke="#333" stroke-width="0.8" />
<text x="95.0" y="1016.1" font-size="5.9" text-anchor="middle" fill="#333" style="font-style:italic" >NFKB1</text>
<line x1="145.4" y1="872.5" x2="145.4" y2="1004.0" stroke="#aaa" stroke-width="0.9" />
<line x1="145.0" y1="1004.0" x2="178.0" y2="1004.0" stroke="#333" stroke-width="0.9" />
<line x1="142.2" y1="1004.0" x2="145.4" y2="1004.0" stroke="#aaa" stroke-width="0.9" />
<text x="141.0" y="1005.8" font-size="5.1" text-anchor="end" fill="#222" >0</text>
<line x1="142.2" y1="962.0" x2="145.4" y2="962.0" stroke="#aaa" stroke-width="0.9" />
<text x="141.0" y="963.8" font-size="5.1" text-anchor="end" fill="#222" >5</text>
<line x1="142.2" y1="920.0" x2="145.4" y2="920.0" stroke="#aaa" stroke-width="0.9" />
<text x="141.0" y="921.8" font-size="5.1" text-anchor="end" fill="#222" >10</text>
<line x1="142.2" y1="878.0" x2="145.4" y2="878.0" stroke="#aaa" stroke-width="0.9" />
<text x="141.0" y="879.8" font-size="5.1" text-anchor="end" fill="#222" >15</text>
<text x="126.8" y="939.7" font-size="6.7" text-anchor="middle" fill="#222" transform="rotate(-90 126.8 939.7)" >TNF by ELISA (ng ml<tspan dy="-2" font-size="4">−1</tspan><tspan dy="2">)</tspan></text>
<rect x="149.6" y="999.8" width="8.4" height="4.2" fill="#d6e7f6" stroke="#2a5f98" stroke-width="1.2" />
<circle cx="151.8" cy="999.0" r="1.3" fill="#d6e7f6" stroke="#2c6ca6" stroke-width="1.05" />
<circle cx="153.8" cy="996.4" r="1.3" fill="#d6e7f6" stroke="#2c6ca6" stroke-width="1.05" />
<circle cx="155.8" cy="999.8" r="1.3" fill="#d6e7f6" stroke="#2c6ca6" stroke-width="1.05" />
<rect x="163.6" y="966.2" width="8.4" height="37.8" fill="#fbd1c6" stroke="#a43628" stroke-width="1.2" />
<line x1="167.8" y1="942.7" x2="167.8" y2="989.7" stroke="#d6432d" stroke-width="1.0" />
<line x1="164.8" y1="942.7" x2="170.8" y2="942.7" stroke="#d6432d" stroke-width="1.0" />
<line x1="164.8" y1="989.7" x2="170.8" y2="989.7" stroke="#d6432d" stroke-width="1.0" />
<rect x="166.5" y="938.9" width="2.6" height="2.6" fill="#fbd1c6" stroke="#d6432d" stroke-width="1.05" />
<rect x="166.5" y="972.5" width="2.6" height="2.6" fill="#fbd1c6" stroke="#d6432d" stroke-width="1.05" />
<rect x="166.5" y="984.2" width="2.6" height="2.6" fill="#fbd1c6" stroke="#d6432d" stroke-width="1.05" />
<path d="M153.8,932.8 L153.8,926.0 L167.8,926.0 L167.8,932.8" fill="none" stroke="#111" stroke-width="1.0" />
<text x="160.8" y="922.9" font-size="6.5" text-anchor="middle" fill="#333" >0.0333</text>
<line x1="161.0" y1="1004.0" x2="161.0" y2="1006.5" stroke="#333" stroke-width="0.8" />
<text x="161.0" y="1016.3" font-size="6.7" text-anchor="middle" fill="#333" >Secretion</text>
<text x="206.0" y="856.5" font-size="14.5" text-anchor="middle" fill="#000" font-weight="bold" stroke="#000" stroke-width="0.35">h</text>
<text x="251.3" y="853.8" font-size="10.39" text-anchor="middle" fill="#222" >Oxidative</text>
<text x="251.3" y="865.2" font-size="10.39" text-anchor="middle" fill="#222" >DNA damage</text>
<line x1="227.6" y1="876.4" x2="227.6" y2="1003.5" stroke="#333" stroke-width="0.9" />
<line x1="227.2" y1="1003.5" x2="300.9" y2="1003.5" stroke="#333" stroke-width="0.9" />
<line x1="224.4" y1="1003.5" x2="227.6" y2="1003.5" stroke="#333" stroke-width="0.9" />
<text x="223.2" y="1005.3" font-size="5.1" text-anchor="end" fill="#222" >0</text>
<line x1="224.4" y1="971.7" x2="227.6" y2="971.7" stroke="#333" stroke-width="0.9" />
<text x="223.2" y="973.5" font-size="5.1" text-anchor="end" fill="#222" >0.5</text>
<line x1="224.4" y1="940.0" x2="227.6" y2="940.0" stroke="#333" stroke-width="0.9" />
<text x="223.2" y="941.7" font-size="5.1" text-anchor="end" fill="#222" >1.0</text>
<line x1="224.4" y1="908.2" x2="227.6" y2="908.2" stroke="#333" stroke-width="0.9" />
<text x="223.2" y="910.0" font-size="5.1" text-anchor="end" fill="#222" >1.5</text>
<line x1="224.4" y1="876.4" x2="227.6" y2="876.4" stroke="#333" stroke-width="0.9" />
<text x="223.2" y="878.2" font-size="5.1" text-anchor="end" fill="#222" >2.0</text>
<text x="206.4" y="939.7" font-size="6.67" text-anchor="middle" fill="#222" transform="rotate(-90 206.4 939.7)" >Relative 8-OHdG (fold to young)</text>
<rect x="238.5" y="940.0" width="20.3" height="63.5" fill="#d6e7f6" stroke="#2a5f98" stroke-width="1.2" />
<line x1="248.7" y1="935.5" x2="248.7" y2="944.4" stroke="#2c6ca6" stroke-width="1.0" />
<line x1="243.3" y1="935.5" x2="254.1" y2="935.5" stroke="#2c6ca6" stroke-width="1.0" />
<line x1="243.3" y1="944.4" x2="254.1" y2="944.4" stroke="#2c6ca6" stroke-width="1.0" />
<circle cx="248.7" cy="935.5" r="1.3" fill="#d6e7f6" stroke="#2c6ca6" stroke-width="1.05" />
<circle cx="248.7" cy="940.0" r="1.3" fill="#d6e7f6" stroke="#2c6ca6" stroke-width="1.05" />
<circle cx="248.7" cy="943.8" r="1.3" fill="#d6e7f6" stroke="#2c6ca6" stroke-width="1.05" />
<rect x="269.9" y="925.3" width="20.3" height="78.2" fill="#fbd1c6" stroke="#a43628" stroke-width="1.2" />
<line x1="280.0" y1="917.7" x2="280.0" y2="933.0" stroke="#d6432d" stroke-width="1.0" />
<line x1="274.6" y1="917.7" x2="285.4" y2="917.7" stroke="#d6432d" stroke-width="1.0" />
<line x1="274.6" y1="933.0" x2="285.4" y2="933.0" stroke="#d6432d" stroke-width="1.0" />
<circle cx="280.0" cy="917.7" r="1.3" fill="#fbd1c6" stroke="#d6432d" stroke-width="1.05" />
<circle cx="280.0" cy="926.0" r="1.3" fill="#fbd1c6" stroke="#d6432d" stroke-width="1.05" />
<circle cx="280.0" cy="932.3" r="1.3" fill="#fbd1c6" stroke="#d6432d" stroke-width="1.05" />
<path d="M248.7,932.8 L248.7,905.6 L280.0,905.6 L280.0,913.7" fill="none" stroke="#111" stroke-width="1.0" />
<text x="264.4" y="902.8" font-size="6.5" text-anchor="middle" fill="#333" >0.0432</text>
<line x1="248.7" y1="1003.5" x2="248.7" y2="1006.0" stroke="#333" stroke-width="0.8" />
<text x="248.7" y="1015.3" font-size="6.7" text-anchor="middle" fill="#333" >Young</text>
<line x1="280.0" y1="1003.5" x2="280.0" y2="1006.0" stroke="#333" stroke-width="0.8" />
<text x="280.0" y="1015.3" font-size="6.7" text-anchor="middle" fill="#333" >Old</text>
<text x="325.5" y="856.5" font-size="14.5" text-anchor="middle" fill="#000" font-weight="bold" stroke="#000" stroke-width="0.35">i</text>
<text x="419.4" y="865.0" font-size="10.91" text-anchor="middle" fill="#222" >Lipid metabolism</text>
<line x1="356.7" y1="873.0" x2="356.7" y2="1002.4" stroke="#aaa" stroke-width="0.9" />
<line x1="356.3" y1="1002.4" x2="386.4" y2="1002.4" stroke="#333" stroke-width="0.9" />
<line x1="353.5" y1="873.0" x2="356.7" y2="873.0" stroke="#aaa" stroke-width="0.9" />
<text x="352.3" y="874.9" font-size="5.5" text-anchor="end" fill="#222" >10<tspan dy="-2.2" font-size="3.8">3</tspan></text>
<line x1="353.5" y1="905.5" x2="356.7" y2="905.5" stroke="#aaa" stroke-width="0.9" />
<text x="352.3" y="907.4" font-size="5.5" text-anchor="end" fill="#222" >10<tspan dy="-2.2" font-size="3.8">2</tspan></text>
<line x1="353.5" y1="938.0" x2="356.7" y2="938.0" stroke="#aaa" stroke-width="0.9" />
<text x="352.3" y="939.9" font-size="5.5" text-anchor="end" fill="#222" >10<tspan dy="-2.2" font-size="3.8">1</tspan></text>
<line x1="353.5" y1="970.0" x2="356.7" y2="970.0" stroke="#aaa" stroke-width="0.9" />
<text x="352.3" y="971.9" font-size="5.5" text-anchor="end" fill="#222" >10<tspan dy="-2.2" font-size="3.8">0</tspan></text>
<line x1="353.5" y1="1002.4" x2="356.7" y2="1002.4" stroke="#aaa" stroke-width="0.9" />
<text x="352.3" y="1004.3" font-size="5.5" text-anchor="end" fill="#222" >10<tspan dy="-2.2" font-size="3.8">−1</tspan></text>
<text x="327.8" y="938.0" font-size="6.8" text-anchor="middle" fill="#222" transform="rotate(-90 327.8 938.0)" >Relative expression</text>
<text x="335.1" y="938.0" font-size="6.8" text-anchor="middle" fill="#222" transform="rotate(-90 335.1 938.0)" >(fold to control w/o serum)</text>
<rect x="361.8" y="977.9" width="8.0" height="24.5" fill="#d6e7f6" stroke="#2a5f98" stroke-width="1.2" />
<line x1="365.8" y1="973.0" x2="365.8" y2="989.0" stroke="#2c6ca6" stroke-width="1.0" />
<line x1="362.9" y1="973.0" x2="368.7" y2="973.0" stroke="#2c6ca6" stroke-width="1.0" />
<line x1="362.9" y1="989.0" x2="368.7" y2="989.0" stroke="#2c6ca6" stroke-width="1.0" />
<circle cx="364.8" cy="974.0" r="1.3" fill="#d6e7f6" stroke="#2c6ca6" stroke-width="1.05" />
<circle cx="367.3" cy="977.0" r="1.3" fill="#d6e7f6" stroke="#2c6ca6" stroke-width="1.05" />
<circle cx="365.8" cy="985.0" r="1.3" fill="#d6e7f6" stroke="#2c6ca6" stroke-width="1.05" />
<rect x="374.8" y="956.7" width="8.0" height="45.7" fill="#fbd1c6" stroke="#a43628" stroke-width="1.2" />
<line x1="378.8" y1="950.0" x2="378.8" y2="968.0" stroke="#d6432d" stroke-width="1.0" />
<line x1="375.9" y1="950.0" x2="381.7" y2="950.0" stroke="#d6432d" stroke-width="1.0" />
<line x1="375.9" y1="968.0" x2="381.7" y2="968.0" stroke="#d6432d" stroke-width="1.0" />
<rect x="377.5" y="948.2" width="2.6" height="2.6" fill="#fbd1c6" stroke="#d6432d" stroke-width="1.05" />
<rect x="376.5" y="958.7" width="2.6" height="2.6" fill="#fbd1c6" stroke="#d6432d" stroke-width="1.05" />
<rect x="378.5" y="961.7" width="2.6" height="2.6" fill="#fbd1c6" stroke="#d6432d" stroke-width="1.05" />
<path d="M365.8,942.3 L365.8,935.5 L378.8,935.5 L378.8,942.3" fill="none" stroke="#111" stroke-width="1.0" />
<text x="372.3" y="932.1" font-size="6.5" text-anchor="middle" fill="#333" >0.0784</text>
<circle cx="363.0" cy="875.9" r="1.3" fill="#d6e7f6" stroke="#2c6ca6" stroke-width="0.8" />
<text x="367.0" y="878.2" font-size="6.7" text-anchor="start" fill="#333" >Young</text>
<rect x="361.8" y="884.8" width="2.4" height="2.4" fill="#fbd1c6" stroke="#d6432d" stroke-width="0.8" />
<text x="367.0" y="888.3" font-size="6.7" text-anchor="start" fill="#333" >Old</text>
<line x1="371.7" y1="1002.4" x2="371.7" y2="1004.9" stroke="#333" stroke-width="0.8" />
<text x="372.2" y="1014.6" font-size="5.6" text-anchor="middle" fill="#222" >SREBP1c</text>
<line x1="426.0" y1="873.0" x2="426.0" y2="1003.3" stroke="#333" stroke-width="0.9" />
<line x1="425.6" y1="1003.3" x2="505.0" y2="1003.3" stroke="#333" stroke-width="0.9" />
<line x1="422.8" y1="984.4" x2="426.0" y2="984.4" stroke="#333" stroke-width="0.9" />
<text x="421.6" y="986.2" font-size="5.1" text-anchor="end" fill="#222" >0</text>
<line x1="422.8" y1="947.3" x2="426.0" y2="947.3" stroke="#333" stroke-width="0.9" />
<text x="421.6" y="949.1" font-size="5.1" text-anchor="end" fill="#222" >100</text>
<line x1="422.8" y1="910.1" x2="426.0" y2="910.1" stroke="#333" stroke-width="0.9" />
<text x="421.6" y="911.9" font-size="5.1" text-anchor="end" fill="#222" >200</text>
<line x1="422.8" y1="873.0" x2="426.0" y2="873.0" stroke="#333" stroke-width="0.9" />
<text x="421.6" y="874.8" font-size="5.1" text-anchor="end" fill="#222" >300</text>
<text x="402.3" y="938.0" font-size="6.83" text-anchor="middle" fill="#222" transform="rotate(-90 402.3 938.0)" >Hepatic lipid accumulation (MFI)</text>
<path d="M450.5,967.7 C450.3,968.0 450.2,969.1 449.8,969.5 C449.4,970.0 449.1,970.4 447.8,970.7 C446.5,971.0 443.4,971.1 441.8,971.4 C440.2,971.7 438.0,972.0 438.0,972.4 C438.0,972.8 440.1,973.2 441.8,973.6 C443.5,974.0 447.0,974.2 448.3,974.7 C449.6,975.3 449.2,976.3 449.6,977.0 C450.0,977.7 450.2,978.7 450.5,979.0 C450.8,979.4 450.9,979.4 451.1,979.0 C451.4,978.7 451.6,977.7 452.0,977.0 C452.4,976.3 452.0,975.3 453.3,974.7 C454.6,974.2 458.1,974.0 459.8,973.6 C461.5,973.2 463.6,972.8 463.6,972.4 C463.6,972.0 461.4,971.7 459.8,971.4 C458.2,971.1 455.1,971.0 453.8,970.7 C452.5,970.4 452.2,970.0 451.8,969.5 C451.4,969.1 451.3,968.0 451.1,967.7 C450.9,967.4 450.7,967.4 450.5,967.7Z" fill="#2c6ca6" stroke="#1f4f80" stroke-width="0.7" stroke-linejoin="round"/>
<circle cx="449.6" cy="975.0" r="0.45" fill="#fff" stroke="none" stroke-width="0" opacity="0.75"/>
<circle cx="449.8" cy="975.7" r="0.45" fill="#fff" stroke="none" stroke-width="0" opacity="0.75"/>
<circle cx="453.0" cy="972.1" r="0.45" fill="#fff" stroke="none" stroke-width="0" opacity="0.75"/>
<circle cx="450.2" cy="972.0" r="0.45" fill="#fff" stroke="none" stroke-width="0" opacity="0.75"/>
<circle cx="452.8" cy="974.2" r="0.45" fill="#fff" stroke="none" stroke-width="0" opacity="0.75"/>
<circle cx="448.0" cy="973.1" r="0.45" fill="#fff" stroke="none" stroke-width="0" opacity="0.75"/>
<circle cx="453.6" cy="971.8" r="0.45" fill="#fff" stroke="none" stroke-width="0" opacity="0.75"/>
<circle cx="454.2" cy="972.4" r="0.45" fill="#fff" stroke="none" stroke-width="0" opacity="0.75"/>
<circle cx="451.9" cy="974.5" r="0.45" fill="#fff" stroke="none" stroke-width="0" opacity="0.75"/>
<circle cx="450.1" cy="974.7" r="0.45" fill="#fff" stroke="none" stroke-width="0" opacity="0.75"/>
<circle cx="453.2" cy="971.6" r="0.45" fill="#fff" stroke="none" stroke-width="0" opacity="0.75"/>
<circle cx="446.1" cy="971.0" r="0.45" fill="#fff" stroke="none" stroke-width="0" opacity="0.75"/>
<path d="M488.2,923.1 C488.1,924.6 488.2,930.2 487.9,932.0 C487.6,933.9 487.0,933.5 486.4,934.3 C485.8,935.1 484.8,935.8 484.2,936.9 C483.6,937.9 483.2,939.3 483.0,940.6 C482.8,941.8 483.0,943.1 483.2,944.3 C483.4,945.5 483.9,946.8 484.2,948.0 C484.5,949.2 484.9,950.2 485.2,951.7 C485.5,953.3 485.8,955.7 485.8,957.3 C485.7,958.9 485.6,960.1 484.9,961.4 C484.2,962.7 482.6,964.0 481.4,965.1 C480.2,966.1 478.8,966.8 477.9,967.7 C477.0,968.6 476.2,969.7 476.0,970.7 C475.8,971.6 476.2,972.3 476.9,973.3 C477.6,974.2 479.1,975.2 480.4,976.2 C481.6,977.2 483.2,978.1 484.4,979.2 C485.6,980.3 486.8,981.4 487.4,982.5 C488.0,983.7 487.9,984.8 488.0,986.3 C488.1,987.7 488.2,990.6 488.2,991.5 C488.3,992.3 488.5,992.3 488.5,991.5 C488.6,990.6 488.7,987.7 488.8,986.3 C488.9,984.8 488.8,983.7 489.4,982.5 C490.0,981.4 491.2,980.3 492.4,979.2 C493.6,978.1 495.1,977.2 496.4,976.2 C497.6,975.2 499.2,974.2 499.9,973.3 C500.6,972.3 501.0,971.6 500.8,970.7 C500.6,969.7 499.8,968.6 498.9,967.7 C498.0,966.8 496.6,966.1 495.4,965.1 C494.2,964.0 492.6,962.7 491.9,961.4 C491.2,960.1 491.1,958.9 491.0,957.3 C490.9,955.7 491.3,953.3 491.6,951.7 C491.9,950.2 492.3,949.2 492.6,948.0 C492.9,946.8 493.4,945.5 493.6,944.3 C493.8,943.1 494.0,941.8 493.8,940.6 C493.6,939.3 493.2,937.9 492.6,936.9 C492.0,935.8 491.0,935.1 490.4,934.3 C489.8,933.5 489.2,933.9 488.9,932.0 C488.6,930.2 488.7,924.6 488.5,923.1 C488.4,921.6 488.4,921.6 488.2,923.1Z" fill="#fbd1c6" stroke="#9a3020" stroke-width="0.8" stroke-linejoin="round"/>
<circle cx="480.8" cy="974.2" r="0.6" fill="#d6432d" stroke="none" stroke-width="0" />
<circle cx="492.9" cy="966.6" r="0.6" fill="#d6432d" stroke="none" stroke-width="0" />
<circle cx="490.9" cy="969.2" r="0.6" fill="#d6432d" stroke="none" stroke-width="0" />
<circle cx="490.6" cy="952.2" r="0.6" fill="#d6432d" stroke="none" stroke-width="0" />
<circle cx="489.0" cy="961.6" r="0.6" fill="#d6432d" stroke="none" stroke-width="0" />
<circle cx="487.2" cy="957.1" r="0.6" fill="#d6432d" stroke="none" stroke-width="0" />
<circle cx="486.1" cy="944.0" r="0.6" fill="#d6432d" stroke="none" stroke-width="0" />
<circle cx="489.1" cy="948.6" r="0.6" fill="#d6432d" stroke="none" stroke-width="0" />
<circle cx="489.5" cy="938.1" r="0.6" fill="#d6432d" stroke="none" stroke-width="0" />
<circle cx="485.2" cy="965.7" r="0.6" fill="#d6432d" stroke="none" stroke-width="0" />
<circle cx="489.9" cy="936.7" r="0.6" fill="#d6432d" stroke="none" stroke-width="0" />
<circle cx="488.8" cy="939.9" r="0.6" fill="#d6432d" stroke="none" stroke-width="0" />
<circle cx="489.7" cy="957.2" r="0.6" fill="#d6432d" stroke="none" stroke-width="0" />
<circle cx="488.4" cy="935.5" r="0.6" fill="#d6432d" stroke="none" stroke-width="0" />
<circle cx="488.4" cy="957.4" r="0.6" fill="#d6432d" stroke="none" stroke-width="0" />
<circle cx="490.5" cy="947.9" r="0.6" fill="#d6432d" stroke="none" stroke-width="0" />
<circle cx="492.0" cy="964.7" r="0.6" fill="#d6432d" stroke="none" stroke-width="0" />
<circle cx="494.4" cy="976.8" r="0.6" fill="#d6432d" stroke="none" stroke-width="0" />
<circle cx="489.3" cy="948.4" r="0.6" fill="#d6432d" stroke="none" stroke-width="0" />
<circle cx="488.9" cy="935.6" r="0.6" fill="#d6432d" stroke="none" stroke-width="0" />
<circle cx="493.3" cy="966.5" r="0.6" fill="#d6432d" stroke="none" stroke-width="0" />
<circle cx="484.8" cy="945.0" r="0.6" fill="#d6432d" stroke="none" stroke-width="0" />
<circle cx="487.1" cy="945.4" r="0.6" fill="#d6432d" stroke="none" stroke-width="0" />
<circle cx="485.4" cy="971.5" r="0.6" fill="#d6432d" stroke="none" stroke-width="0" />
<circle cx="487.4" cy="951.2" r="0.6" fill="#d6432d" stroke="none" stroke-width="0" />
<circle cx="488.7" cy="962.4" r="0.6" fill="#d6432d" stroke="none" stroke-width="0" />
<circle cx="486.9" cy="965.1" r="0.6" fill="#d6432d" stroke="none" stroke-width="0" />
<circle cx="488.5" cy="967.0" r="0.6" fill="#d6432d" stroke="none" stroke-width="0" />
<circle cx="497.2" cy="971.1" r="0.6" fill="#d6432d" stroke="none" stroke-width="0" />
<circle cx="487.0" cy="940.0" r="0.6" fill="#d6432d" stroke="none" stroke-width="0" />
<circle cx="484.5" cy="966.5" r="0.6" fill="#d6432d" stroke="none" stroke-width="0" />
<circle cx="490.2" cy="935.5" r="0.6" fill="#d6432d" stroke="none" stroke-width="0" />
<circle cx="489.2" cy="971.9" r="0.6" fill="#d6432d" stroke="none" stroke-width="0" />
<circle cx="484.3" cy="963.7" r="0.6" fill="#d6432d" stroke="none" stroke-width="0" />
<circle cx="489.3" cy="935.5" r="0.6" fill="#d6432d" stroke="none" stroke-width="0" />
<circle cx="490.4" cy="973.6" r="0.6" fill="#d6432d" stroke="none" stroke-width="0" />
<circle cx="486.6" cy="937.4" r="0.6" fill="#d6432d" stroke="none" stroke-width="0" />
<circle cx="489.2" cy="978.2" r="0.6" fill="#d6432d" stroke="none" stroke-width="0" />
<circle cx="490.7" cy="947.8" r="0.6" fill="#d6432d" stroke="none" stroke-width="0" />
<circle cx="491.8" cy="941.0" r="0.6" fill="#d6432d" stroke="none" stroke-width="0" />
<circle cx="495.3" cy="969.6" r="0.6" fill="#d6432d" stroke="none" stroke-width="0" />
<circle cx="489.1" cy="964.4" r="0.6" fill="#d6432d" stroke="none" stroke-width="0" />
<circle cx="485.1" cy="963.7" r="0.6" fill="#d6432d" stroke="none" stroke-width="0" />
<circle cx="489.2" cy="976.5" r="0.6" fill="#d6432d" stroke="none" stroke-width="0" />
<circle cx="488.4" cy="934.3" r="0.6" fill="#d6432d" stroke="none" stroke-width="0" />
<line x1="476.5" y1="969.5" x2="500.3" y2="969.5" stroke="#9a3020" stroke-width="0.6" />
<path d="M450.2,915.4 L450.2,908.4 L488.6,908.4 L488.6,915.4" fill="none" stroke="#111" stroke-width="1.0" />
<text x="469.4" y="904.3" font-size="6.5" text-anchor="middle" fill="#333" >&lt;0.0001</text>
<line x1="450.8" y1="1003.3" x2="450.8" y2="1005.8" stroke="#333" stroke-width="0.8" />
<text x="450.8" y="1014.6" font-size="6.6" text-anchor="middle" fill="#333" >Young</text>
<line x1="488.6" y1="1003.3" x2="488.6" y2="1005.8" stroke="#333" stroke-width="0.8" />
<text x="488.6" y="1014.6" font-size="6.6" text-anchor="middle" fill="#333" >Old</text>
<text x="614.0" y="865.0" font-size="10.76" text-anchor="middle" fill="#222" >Glucose metabolism</text>
<line x1="556.9" y1="873.0" x2="556.9" y2="1002.4" stroke="#555" stroke-width="0.9" />
<line x1="556.5" y1="1002.4" x2="584.3" y2="1002.4" stroke="#333" stroke-width="0.9" />
<line x1="553.7" y1="873.0" x2="556.9" y2="873.0" stroke="#555" stroke-width="0.9" />
<text x="552.5" y="874.9" font-size="5.5" text-anchor="end" fill="#222" >10<tspan dy="-2.2" font-size="3.8">3</tspan></text>
<line x1="553.7" y1="905.5" x2="556.9" y2="905.5" stroke="#555" stroke-width="0.9" />
<text x="552.5" y="907.4" font-size="5.5" text-anchor="end" fill="#222" >10<tspan dy="-2.2" font-size="3.8">2</tspan></text>
<line x1="553.7" y1="938.0" x2="556.9" y2="938.0" stroke="#555" stroke-width="0.9" />
<text x="552.5" y="939.9" font-size="5.5" text-anchor="end" fill="#222" >10<tspan dy="-2.2" font-size="3.8">1</tspan></text>
<line x1="553.7" y1="970.0" x2="556.9" y2="970.0" stroke="#555" stroke-width="0.9" />
<text x="552.5" y="971.9" font-size="5.5" text-anchor="end" fill="#222" >10<tspan dy="-2.2" font-size="3.8">0</tspan></text>
<line x1="553.7" y1="1002.4" x2="556.9" y2="1002.4" stroke="#555" stroke-width="0.9" />
<text x="552.5" y="1004.3" font-size="5.5" text-anchor="end" fill="#222" >10<tspan dy="-2.2" font-size="3.8">−1</tspan></text>
<text x="528.0" y="938.0" font-size="6.8" text-anchor="middle" fill="#222" transform="rotate(-90 528.0 938.0)" >Relative expression</text>
<text x="535.8" y="938.0" font-size="6.8" text-anchor="middle" fill="#222" transform="rotate(-90 535.8 938.0)" >(fold to control w/o serum)</text>
<rect x="561.9" y="980.4" width="8.0" height="22.0" fill="#d6e7f6" stroke="#2a5f98" stroke-width="1.2" />
<line x1="565.9" y1="972.0" x2="565.9" y2="993.0" stroke="#2c6ca6" stroke-width="1.0" />
<line x1="563.0" y1="972.0" x2="568.8" y2="972.0" stroke="#2c6ca6" stroke-width="1.0" />
<line x1="563.0" y1="993.0" x2="568.8" y2="993.0" stroke="#2c6ca6" stroke-width="1.0" />
<circle cx="565.9" cy="972.0" r="1.3" fill="#d6e7f6" stroke="#2c6ca6" stroke-width="1.05" />
<circle cx="565.9" cy="980.0" r="1.3" fill="#d6e7f6" stroke="#2c6ca6" stroke-width="1.05" />
<circle cx="565.9" cy="985.0" r="1.3" fill="#d6e7f6" stroke="#2c6ca6" stroke-width="1.05" />
<circle cx="565.9" cy="994.0" r="1.3" fill="#d6e7f6" stroke="#2c6ca6" stroke-width="1.05" />
<rect x="573.8" y="954.4" width="8.0" height="48.0" fill="#fbd1c6" stroke="#a43628" stroke-width="1.2" />
<line x1="577.8" y1="948.0" x2="577.8" y2="965.0" stroke="#d6432d" stroke-width="1.0" />
<line x1="574.9" y1="948.0" x2="580.7" y2="948.0" stroke="#d6432d" stroke-width="1.0" />
<line x1="574.9" y1="965.0" x2="580.7" y2="965.0" stroke="#d6432d" stroke-width="1.0" />
<path d="M576.2,948.7 L579.4,948.7 L577.8,945.9Z" fill="#fbd1c6" stroke="#d6432d" stroke-width="0.9" />
<path d="M576.2,958.2 L579.4,958.2 L577.8,955.4Z" fill="#fbd1c6" stroke="#d6432d" stroke-width="0.9" />
<path d="M576.2,967.2 L579.4,967.2 L577.8,964.4Z" fill="#fbd1c6" stroke="#d6432d" stroke-width="0.9" />
<path d="M565.9,940.3 L565.9,933.2 L577.8,933.2 L577.8,940.3" fill="none" stroke="#111" stroke-width="1.0" />
<text x="571.8" y="929.9" font-size="6.5" text-anchor="middle" fill="#333" >0.0182</text>
<circle cx="564.0" cy="875.9" r="1.3" fill="#d6e7f6" stroke="#2c6ca6" stroke-width="0.8" />
<text x="568.0" y="878.2" font-size="6.7" text-anchor="start" fill="#333" >Young</text>
<circle cx="564.0" cy="885.2" r="1.3" fill="#fbd1c6" stroke="#d6432d" stroke-width="0.8" />
<text x="568.0" y="887.5" font-size="6.7" text-anchor="start" fill="#333" >Old</text>
<line x1="571.0" y1="1002.4" x2="571.0" y2="1004.9" stroke="#333" stroke-width="0.8" />
<text x="571.9" y="1014.5" font-size="5.5" text-anchor="middle" fill="#222" style="font-style:italic" >PCK1</text>
<line x1="621.8" y1="873.0" x2="621.8" y2="1003.3" stroke="#aaa" stroke-width="0.9" />
<line x1="621.4" y1="1003.3" x2="704.3" y2="1003.3" stroke="#333" stroke-width="0.9" />
<line x1="618.6" y1="873.0" x2="621.8" y2="873.0" stroke="#aaa" stroke-width="0.9" />
<text x="617.4" y="874.8" font-size="5.1" text-anchor="end" fill="#222" >1.2</text>
<line x1="618.6" y1="910.0" x2="621.8" y2="910.0" stroke="#aaa" stroke-width="0.9" />
<text x="617.4" y="911.8" font-size="5.1" text-anchor="end" fill="#222" >1.0</text>
<line x1="618.6" y1="947.3" x2="621.8" y2="947.3" stroke="#aaa" stroke-width="0.9" />
<text x="617.4" y="949.1" font-size="5.1" text-anchor="end" fill="#222" >0.8</text>
<line x1="618.6" y1="984.4" x2="621.8" y2="984.4" stroke="#aaa" stroke-width="0.9" />
<text x="617.4" y="986.2" font-size="5.1" text-anchor="end" fill="#222" >0.6</text>
<text x="600.6" y="938.0" font-size="6.6" text-anchor="middle" fill="#222" transform="rotate(-90 600.6 938.0)" >Hepatic glucose production (mg mL<tspan dy="-2" font-size="4">−1</tspan><tspan dy="2">)</tspan></text>
<line x1="633.1" y1="929.8" x2="649.8" y2="943.7" stroke="#1e5288" stroke-width="1.2" />
<line x1="633.1" y1="931.0" x2="649.8" y2="958.0" stroke="#1e5288" stroke-width="1.2" />
<line x1="633.1" y1="948.8" x2="649.8" y2="970.0" stroke="#1e5288" stroke-width="1.2" />
<line x1="633.1" y1="975.6" x2="649.8" y2="985.5" stroke="#1e5288" stroke-width="1.2" />
<circle cx="633.1" cy="929.8" r="1.9" fill="#96c6e6" />
<circle cx="649.8" cy="943.7" r="1.9" fill="#ec745a" />
<circle cx="633.1" cy="931.0" r="1.9" fill="#96c6e6" />
<circle cx="649.8" cy="958.0" r="1.9" fill="#ec745a" />
<circle cx="633.1" cy="948.8" r="1.9" fill="#96c6e6" />
<circle cx="649.8" cy="970.0" r="1.9" fill="#ec745a" />
<circle cx="633.1" cy="975.6" r="1.9" fill="#96c6e6" />
<circle cx="649.8" cy="985.5" r="1.9" fill="#ec745a" />
<line x1="677.0" y1="938.1" x2="693.6" y2="961.0" stroke="#1e5288" stroke-width="1.2" />
<line x1="677.0" y1="948.0" x2="693.6" y2="953.4" stroke="#1e5288" stroke-width="1.2" />
<line x1="677.0" y1="961.6" x2="693.6" y2="950.2" stroke="#1e5288" stroke-width="1.2" />
<line x1="677.0" y1="985.8" x2="693.6" y2="966.7" stroke="#1e5288" stroke-width="1.2" />
<circle cx="677.0" cy="938.1" r="1.9" fill="#96c6e6" />
<circle cx="693.6" cy="961.0" r="1.9" fill="#ec745a" />
<circle cx="677.0" cy="948.0" r="1.9" fill="#96c6e6" />
<circle cx="693.6" cy="953.4" r="1.9" fill="#ec745a" />
<circle cx="677.0" cy="961.6" r="1.9" fill="#96c6e6" />
<circle cx="693.6" cy="950.2" r="1.9" fill="#ec745a" />
<circle cx="677.0" cy="985.8" r="1.9" fill="#96c6e6" />
<circle cx="693.6" cy="966.7" r="1.9" fill="#ec745a" />
<path d="M633.1,920.5 L633.1,914.0 L649.8,914.0 L649.8,920.5" fill="none" stroke="#111" stroke-width="1.0" />
<text x="641.5" y="910.7" font-size="6.5" text-anchor="middle" fill="#333" >0.0158</text>
<line x1="629.5" y1="875.9" x2="642.2" y2="875.9" stroke="#1e5288" stroke-width="1.2" />
<circle cx="636.0" cy="875.9" r="1.9" fill="#96c6e6" />
<text x="646.4" y="878.3" font-size="6.8" text-anchor="start" fill="#333" >Basal</text>
<line x1="629.5" y1="885.8" x2="642.2" y2="885.8" stroke="#1e5288" stroke-width="1.2" />
<circle cx="636.0" cy="885.8" r="1.9" fill="#ec745a" />
<text x="646.4" y="888.2" font-size="6.8" text-anchor="start" fill="#333" >Insulin</text>
<line x1="640.8" y1="1003.3" x2="640.8" y2="1005.8" stroke="#333" stroke-width="0.8" />
<text x="640.8" y="1014.6" font-size="6.6" text-anchor="middle" fill="#333" >Young</text>
<line x1="685.0" y1="1003.3" x2="685.0" y2="1005.8" stroke="#333" stroke-width="0.8" />
<text x="685.0" y="1014.6" font-size="6.6" text-anchor="middle" fill="#333" >Old</text>
</svg></body></html>
